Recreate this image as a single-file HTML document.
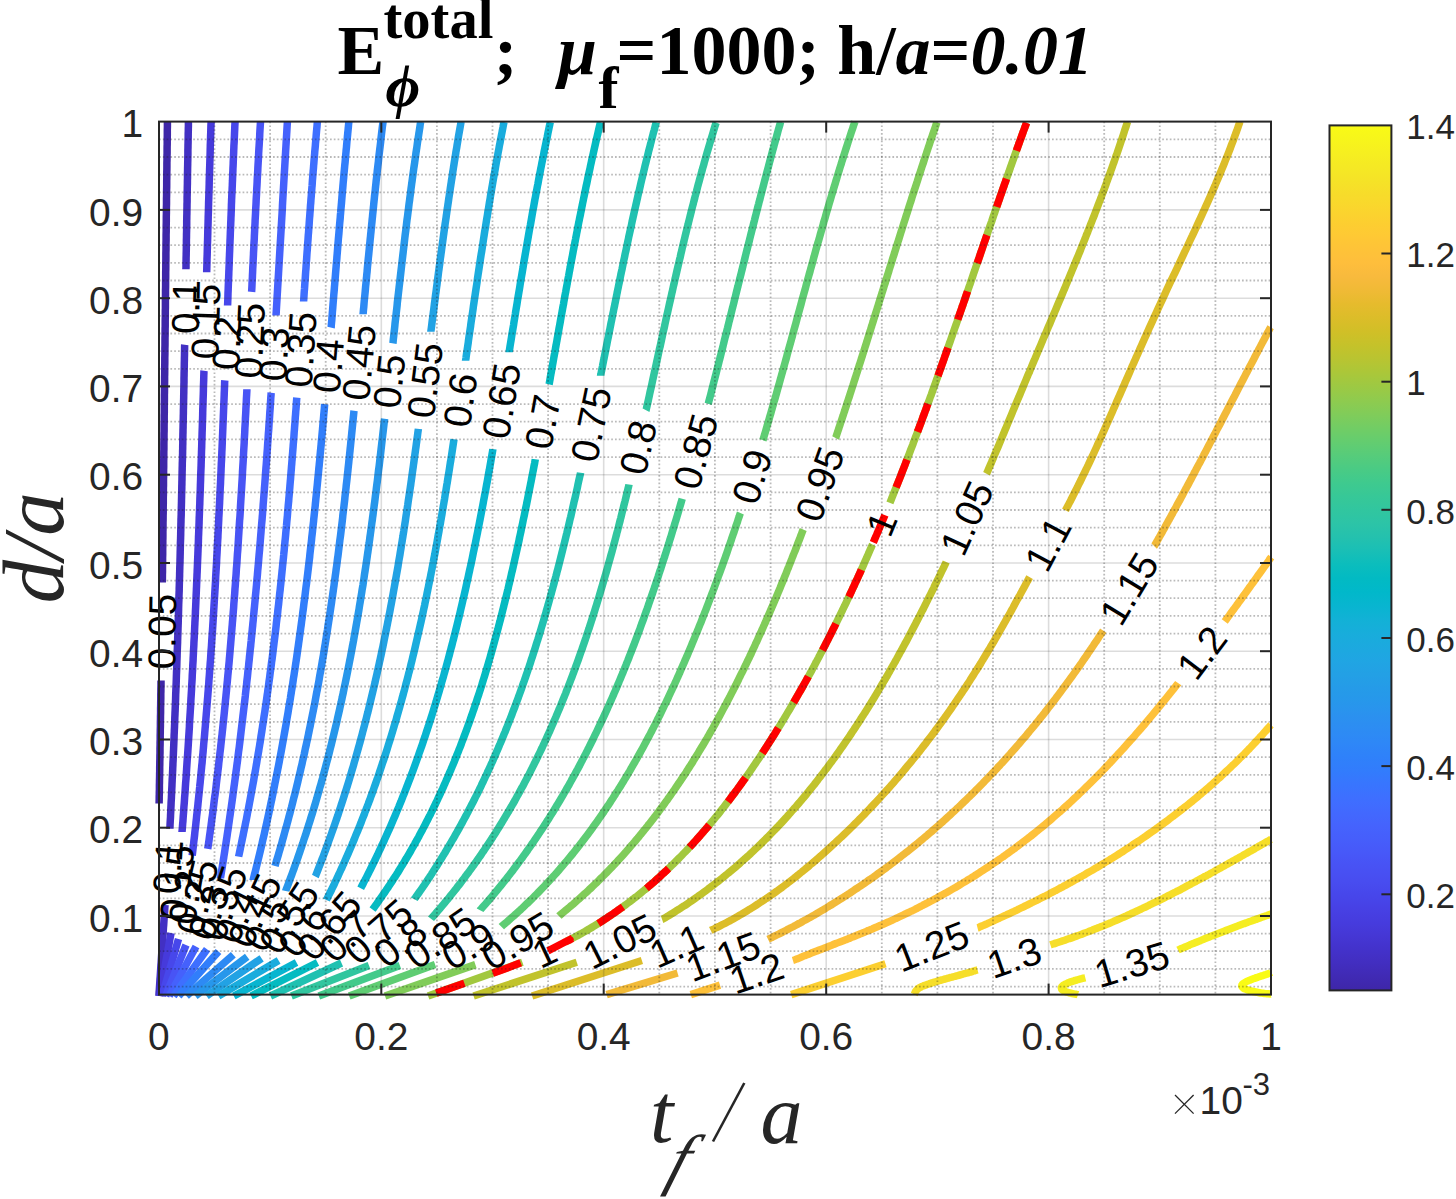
<!DOCTYPE html>
<html><head><meta charset="utf-8"><title>contour</title>
<style>html,body{margin:0;padding:0;background:#fff;width:1456px;height:1199px;overflow:hidden}svg{display:block}</style></head><body>
<svg width="1456" height="1199" viewBox="0 0 1456 1199">
<rect width="1456" height="1199" fill="#fff"/>
<g fill="none" stroke-width="7.5" stroke-linejoin="round" stroke-linecap="butt">
<path d="M167.4,121.6C167.4,122.4 167.4,124.6 167.4,126.2C167.4,127.7 167.3,129.2 167.3,130.7C167.3,132.2 167.3,133.7 167.3,135.3C167.3,136.8 167.2,138.3 167.2,139.8C167.2,141.3 167.2,142.8 167.2,144.4C167.1,145.9 167.1,147.4 167.1,148.9C167.1,150.4 167.1,152.0 167.1,153.5C167.0,155.0 167.0,156.5 167.0,158.0C167.0,159.5 167.0,161.1 166.9,162.6C166.9,164.1 166.9,165.6 166.9,167.1C166.9,168.6 166.9,170.2 166.8,171.7C166.8,173.2 166.8,174.7 166.8,176.2C166.8,177.8 166.8,179.3 166.7,180.8C166.7,182.3 166.7,183.8 166.7,185.3C166.7,186.9 166.7,188.4 166.6,189.9C166.6,191.4 166.6,192.9 166.6,194.4C166.6,196.0 166.5,197.5 166.5,199.0C166.5,200.5 166.5,202.0 166.5,203.6C166.5,205.1 166.4,206.6 166.4,208.1C166.4,209.6 166.4,211.1 166.4,212.7C166.4,214.2 166.3,215.7 166.3,217.2C166.3,218.7 166.3,220.3 166.3,221.8C166.3,223.3 166.2,224.8 166.2,226.3C166.2,227.8 166.2,229.4 166.2,230.9C166.2,232.4 166.1,233.9 166.1,235.4C166.1,236.9 166.1,238.5 166.1,240.0C166.1,241.5 166.0,243.0 166.0,244.5C166.0,246.1 166.0,247.6 166.0,249.1C166.0,250.6 165.9,252.1 165.9,253.6C165.9,255.2 165.9,256.7 165.9,258.2C165.9,259.7 165.9,261.2 165.8,262.7C165.8,264.3 165.8,265.8 165.8,267.3C165.8,268.8 165.8,270.3 165.7,271.9C165.7,273.4 165.7,274.9 165.7,276.4C165.7,277.9 165.7,279.4 165.6,281.0C165.6,282.5 165.6,284.0 165.6,285.5C165.6,287.0 165.6,288.5 165.5,290.1C165.5,291.6 165.5,293.1 165.5,294.6C165.5,296.1 165.5,297.7 165.4,299.2C165.4,300.7 165.4,302.2 165.4,303.7C165.4,305.2 165.4,306.8 165.4,308.3C165.3,309.8 165.3,311.3 165.3,312.8C165.3,314.3 165.3,315.9 165.3,317.4C165.2,318.9 165.2,320.4 165.2,321.9C165.2,323.5 165.2,325.0 165.2,326.5C165.1,328.0 165.1,329.5 165.1,331.0C165.1,332.6 165.1,334.1 165.1,335.6C165.0,337.1 165.0,338.6 165.0,340.1C165.0,341.7 165.0,343.2 165.0,344.7C165.0,346.2 164.9,347.7 164.9,349.3C164.9,350.8 164.9,352.3 164.9,353.8C164.9,355.3 164.8,356.8 164.8,358.4C164.8,359.9 164.8,361.4 164.8,362.9C164.8,364.4 164.7,365.9 164.7,367.5C164.7,369.0 164.7,370.5 164.7,372.0C164.7,373.5 164.7,375.1 164.6,376.6C164.6,378.1 164.6,379.6 164.6,381.1C164.6,382.6 164.6,384.2 164.5,385.7C164.5,387.2 164.5,388.7 164.5,390.2C164.5,391.7 164.5,393.3 164.4,394.8C164.4,396.3 164.4,397.8 164.4,399.3C164.4,400.9 164.4,402.4 164.3,403.9C164.3,405.4 164.3,406.9 164.3,408.4C164.3,410.0 164.3,411.5 164.3,413.0C164.2,414.5 164.2,416.0 164.2,417.5C164.2,419.1 164.2,420.6 164.2,422.1C164.1,423.6 164.1,425.1 164.1,426.7C164.1,428.2 164.1,429.7 164.1,431.2C164.0,432.7 164.0,434.2 164.0,435.8C164.0,437.3 164.0,438.8 164.0,440.3C163.9,441.8 163.9,443.3 163.9,444.9C163.9,446.4 163.9,447.9 163.9,449.4C163.8,450.9 163.8,452.5 163.8,454.0C163.8,455.5 163.8,457.0 163.8,458.5C163.7,460.0 163.7,461.6 163.7,463.1C163.7,464.6 163.7,466.1 163.7,467.6C163.6,469.1 163.6,470.7 163.6,472.2C163.6,473.7 163.6,475.2 163.6,476.7C163.5,478.3 163.5,479.8 163.5,481.3C163.5,482.8 163.5,484.3 163.5,485.8C163.4,487.4 163.4,488.9 163.4,490.4C163.4,491.9 163.4,493.4 163.4,494.9C163.3,496.5 163.3,498.0 163.3,499.5C163.3,501.0 163.3,502.5 163.3,504.1C163.2,505.6 163.2,507.1 163.2,508.6C163.2,510.1 163.2,511.6 163.2,513.2C163.1,514.7 163.1,516.2 163.1,517.7C163.1,519.2 163.1,520.7 163.0,522.3C163.0,523.8 163.0,525.3 163.0,526.8C163.0,528.3 163.0,529.9 162.9,531.4C162.9,532.9 162.9,534.4 162.9,535.9C162.9,537.4 162.9,539.0 162.8,540.5C162.8,542.0 162.8,543.5 162.8,545.0C162.8,546.5 162.7,548.1 162.7,549.6C162.7,551.1 162.7,552.6 162.7,554.1C162.7,555.7 162.6,557.2 162.6,558.7C162.6,560.2 162.6,561.7 162.6,563.2C162.6,564.8 162.5,566.3 162.5,567.8C162.5,569.3 162.5,570.8 162.5,572.3C162.4,573.9 162.4,575.4 162.4,576.9C162.4,578.4 162.4,580.5 162.3,581.5C162.3,582.4 162.3,582.4 162.3,582.6" stroke="#3e26a8"/>
<path d="M161.0,680.5C161.0,681.2 161.0,683.5 161.0,685.0C161.0,686.5 160.9,688.1 160.9,689.6C160.9,691.1 160.9,692.6 160.8,694.1C160.8,695.7 160.8,697.2 160.8,698.7C160.8,700.2 160.7,701.7 160.7,703.2C160.7,704.8 160.7,706.3 160.6,707.8C160.6,709.3 160.6,710.8 160.6,712.3C160.6,713.9 160.5,715.4 160.5,716.9C160.5,718.4 160.5,719.9 160.4,721.5C160.4,723.0 160.4,724.5 160.4,726.0C160.4,727.5 160.3,729.0 160.3,730.6C160.3,732.1 160.3,733.6 160.2,735.1C160.2,736.6 160.2,738.1 160.2,739.7C160.1,741.2 160.1,742.7 160.1,744.2C160.1,745.7 160.0,747.2 160.0,748.8C160.0,750.3 160.0,751.8 160.0,753.3C159.9,754.8 159.9,756.4 159.9,757.9C159.9,759.4 159.8,760.9 159.8,762.4C159.8,763.9 159.8,765.5 159.7,767.0C159.7,768.5 159.7,770.0 159.7,771.5C159.6,773.0 159.6,774.6 159.6,776.1C159.6,777.6 159.5,779.1 159.5,780.6C159.5,782.2 159.5,783.7 159.4,785.2C159.4,786.7 159.4,788.2 159.4,789.7C159.3,791.3 159.3,792.8 159.3,794.3C159.2,795.8 159.2,797.3 159.2,798.8C159.2,800.4 159.1,802.6 159.1,803.4" stroke="#3e26a8"/>
<path d="M188.4,121.6C188.4,122.4 188.4,124.8 188.4,126.3C188.3,127.9 188.3,129.5 188.3,131.1C188.2,132.6 188.2,134.2 188.2,135.8C188.2,137.3 188.1,138.9 188.1,140.5C188.1,142.1 188.1,143.6 188.0,145.2C188.0,146.8 188.0,148.4 187.9,149.9C187.9,151.5 187.9,153.1 187.9,154.7C187.8,156.2 187.8,157.8 187.8,159.4C187.8,161.0 187.7,162.5 187.7,164.1C187.7,165.7 187.6,167.3 187.6,168.8C187.6,170.4 187.6,172.0 187.5,173.6C187.5,175.1 187.5,176.7 187.5,178.3C187.4,179.9 187.4,181.4 187.4,183.0C187.4,184.6 187.3,186.2 187.3,187.7C187.3,189.3 187.2,190.9 187.2,192.5C187.2,194.0 187.2,195.6 187.1,197.2C187.1,198.8 187.1,200.3 187.1,201.9C187.0,203.5 187.0,205.1 187.0,206.6C187.0,208.2 186.9,209.8 186.9,211.3C186.9,212.9 186.9,214.5 186.8,216.1C186.8,217.6 186.8,219.2 186.7,220.8C186.7,222.4 186.7,223.9 186.7,225.5C186.6,227.1 186.6,228.7 186.6,230.2C186.6,231.8 186.5,233.4 186.5,235.0C186.5,236.5 186.5,238.1 186.4,239.7C186.4,241.3 186.4,242.8 186.4,244.4C186.3,246.0 186.3,247.6 186.3,249.1C186.3,250.7 186.2,252.3 186.2,253.9C186.2,255.4 186.1,257.0 186.1,258.6C186.1,260.2 186.1,261.7 186.0,263.3C186.0,264.9 186.0,267.1 186.0,268.0C185.9,269.0 185.9,269.0 185.9,269.2" stroke="#4230c3"/>
<path d="M184.7,344.8C184.6,345.6 184.6,347.9 184.6,349.5C184.5,351.1 184.5,352.7 184.5,354.2C184.5,355.8 184.4,357.4 184.4,359.0C184.4,360.5 184.3,362.1 184.3,363.7C184.3,365.3 184.3,366.8 184.2,368.4C184.2,370.0 184.2,371.6 184.1,373.1C184.1,374.7 184.1,376.3 184.0,377.9C184.0,379.4 184.0,381.0 184.0,382.6C183.9,384.2 183.9,385.7 183.9,387.3C183.8,388.9 183.8,390.5 183.8,392.0C183.8,393.6 183.7,395.2 183.7,396.8C183.7,398.3 183.6,399.9 183.6,401.5C183.6,403.1 183.5,404.6 183.5,406.2C183.5,407.8 183.4,409.4 183.4,410.9C183.4,412.5 183.4,414.1 183.3,415.7C183.3,417.2 183.3,418.8 183.2,420.4C183.2,422.0 183.2,423.5 183.1,425.1C183.1,426.7 183.1,428.3 183.0,429.8C183.0,431.4 183.0,433.0 182.9,434.6C182.9,436.1 182.9,437.7 182.8,439.3C182.8,440.8 182.8,442.4 182.8,444.0C182.7,445.6 182.7,447.1 182.7,448.7C182.6,450.3 182.6,451.9 182.6,453.4C182.5,455.0 182.5,456.6 182.5,458.2C182.4,459.7 182.4,461.3 182.3,462.9C182.3,464.5 182.3,466.0 182.2,467.6C182.2,469.2 182.2,470.8 182.1,472.3C182.1,473.9 182.1,475.5 182.0,477.1C182.0,478.6 182.0,480.2 181.9,481.8C181.9,483.4 181.9,484.9 181.8,486.5C181.8,488.1 181.8,489.7 181.7,491.2C181.7,492.8 181.6,494.4 181.6,496.0C181.6,497.5 181.5,499.1 181.5,500.7C181.5,502.3 181.4,503.8 181.4,505.4C181.3,507.0 181.3,508.6 181.3,510.1C181.2,511.7 181.2,513.3 181.2,514.8C181.1,516.4 181.1,518.0 181.0,519.6C181.0,521.1 181.0,522.7 180.9,524.3C180.9,525.9 180.8,527.4 180.8,529.0C180.8,530.6 180.7,532.2 180.7,533.7C180.7,535.3 180.6,536.9 180.6,538.5C180.5,540.0 180.5,541.6 180.4,543.2C180.4,544.8 180.4,546.3 180.3,547.9C180.3,549.5 180.2,551.1 180.2,552.6C180.2,554.2 180.1,555.8 180.1,557.4C180.0,558.9 180.0,560.5 180.0,562.1C179.9,563.7 179.9,565.2 179.8,566.8C179.8,568.4 179.7,569.9 179.7,571.5C179.6,573.1 179.6,574.7 179.6,576.2C179.5,577.8 179.5,579.4 179.4,581.0C179.4,582.5 179.3,584.1 179.3,585.7C179.2,587.3 179.2,588.8 179.2,590.4C179.1,592.0 179.1,593.6 179.0,595.1C179.0,596.7 178.9,598.3 178.9,599.9C178.8,601.4 178.8,603.0 178.7,604.6C178.7,606.2 178.6,607.7 178.6,609.3C178.6,610.9 178.5,612.4 178.5,614.0C178.4,615.6 178.4,617.2 178.3,618.7C178.3,620.3 178.2,621.9 178.2,623.5C178.1,625.0 178.1,626.6 178.0,628.2C178.0,629.8 177.9,631.3 177.9,632.9C177.8,634.5 177.8,636.1 177.7,637.6C177.7,639.2 177.6,640.8 177.6,642.4C177.5,643.9 177.5,645.5 177.4,647.1C177.4,648.6 177.3,650.2 177.2,651.8C177.2,653.4 177.1,654.9 177.1,656.5C177.0,658.1 177.0,659.7 176.9,661.2C176.9,662.8 176.8,664.4 176.8,666.0C176.7,667.5 176.7,669.1 176.6,670.7C176.5,672.3 176.5,673.8 176.4,675.4C176.4,677.0 176.3,678.6 176.3,680.1C176.2,681.7 176.2,683.3 176.1,684.8C176.0,686.4 176.0,688.0 175.9,689.6C175.9,691.1 175.8,692.7 175.7,694.3C175.7,695.9 175.6,697.4 175.6,699.0C175.5,700.6 175.5,702.2 175.4,703.7C175.3,705.3 175.3,706.9 175.2,708.5C175.2,710.0 175.1,711.6 175.0,713.2C175.0,714.7 174.9,716.3 174.8,717.9C174.8,719.5 174.7,721.0 174.7,722.6C174.6,724.2 174.5,725.8 174.5,727.3C174.4,728.9 174.3,730.5 174.3,732.1C174.2,733.6 174.1,735.2 174.1,736.8C174.0,738.3 174.0,739.9 173.9,741.5C173.8,743.1 173.8,744.6 173.7,746.2C173.6,747.8 173.6,749.4 173.5,750.9C173.4,752.5 173.4,754.1 173.3,755.7C173.2,757.2 173.2,758.8 173.1,760.4C173.0,761.9 172.9,763.5 172.9,765.1C172.8,766.7 172.7,768.2 172.7,769.8C172.6,771.4 172.5,773.0 172.5,774.5C172.4,776.1 172.3,777.7 172.2,779.3C172.2,780.8 172.1,782.4 172.0,784.0C172.0,785.5 171.9,787.1 171.8,788.7C171.7,790.3 171.7,791.8 171.6,793.4C171.5,795.0 171.4,796.6 171.4,798.1C171.3,799.7 171.2,801.3 171.1,802.8C171.1,804.4 171.0,806.0 170.9,807.6C170.8,809.1 170.8,810.7 170.7,812.3C170.6,813.9 170.5,815.4 170.5,817.0C170.4,818.6 170.3,820.2 170.2,821.7C170.1,823.3 170.0,825.3 170.0,826.4C169.9,827.6 169.9,828.4 169.9,828.8" stroke="#4230c3"/>
<path d="M165.0,905.0L158.9,996.0" stroke="#4230c3"/>
<path d="M211.1,121.6C211.1,122.4 211.0,124.8 210.9,126.4C210.9,127.9 210.8,129.5 210.8,131.1C210.7,132.7 210.7,134.3 210.6,135.8C210.6,137.4 210.5,139.0 210.5,140.6C210.4,142.2 210.4,143.8 210.3,145.3C210.3,146.9 210.2,148.5 210.2,150.1C210.2,151.7 210.1,153.2 210.1,154.8C210.0,156.4 210.0,158.0 209.9,159.6C209.9,161.2 209.8,162.7 209.8,164.3C209.7,165.9 209.7,167.5 209.6,169.1C209.6,170.7 209.5,172.2 209.5,173.8C209.4,175.4 209.4,177.0 209.3,178.6C209.3,180.1 209.2,181.7 209.2,183.3C209.2,184.9 209.1,186.5 209.1,188.1C209.0,189.6 209.0,191.2 208.9,192.8C208.9,194.4 208.8,196.0 208.8,197.6C208.7,199.1 208.7,200.7 208.6,202.3C208.6,203.9 208.6,205.5 208.5,207.0C208.5,208.6 208.4,210.2 208.4,211.8C208.3,213.4 208.3,215.0 208.2,216.5C208.2,218.1 208.2,219.7 208.1,221.3C208.1,222.9 208.0,224.5 208.0,226.0C207.9,227.6 207.9,229.2 207.8,230.8C207.8,232.4 207.8,233.9 207.7,235.5C207.7,237.1 207.6,238.7 207.6,240.3C207.5,241.9 207.5,243.4 207.4,245.0C207.4,246.6 207.4,248.2 207.3,249.8C207.3,251.4 207.2,252.9 207.2,254.5C207.1,256.1 207.1,257.7 207.0,259.3C207.0,260.8 207.0,262.4 206.9,264.0C206.9,265.6 206.8,267.4 206.8,268.8C206.7,270.1 206.7,271.7 206.7,272.3" stroke="#463adb"/>
<path d="M204.0,370.8C203.9,371.6 203.9,374.0 203.8,375.6C203.8,377.2 203.7,378.7 203.7,380.3C203.6,381.9 203.6,383.5 203.5,385.1C203.5,386.7 203.4,388.2 203.4,389.8C203.4,391.4 203.3,393.0 203.3,394.6C203.2,396.2 203.2,397.7 203.1,399.3C203.1,400.9 203.0,402.5 203.0,404.1C202.9,405.6 202.9,407.2 202.8,408.8C202.8,410.4 202.7,412.0 202.7,413.6C202.7,415.1 202.6,416.7 202.6,418.3C202.5,419.9 202.5,421.5 202.4,423.1C202.4,424.6 202.3,426.2 202.3,427.8C202.2,429.4 202.2,431.0 202.1,432.5C202.1,434.1 202.0,435.7 202.0,437.3C201.9,438.9 201.9,440.5 201.8,442.0C201.8,443.6 201.7,445.2 201.7,446.8C201.6,448.4 201.6,450.0 201.5,451.5C201.5,453.1 201.4,454.7 201.4,456.3C201.3,457.9 201.3,459.4 201.2,461.0C201.2,462.6 201.1,464.2 201.1,465.8C201.0,467.4 201.0,468.9 200.9,470.5C200.8,472.1 200.8,473.7 200.7,475.3C200.7,476.9 200.6,478.4 200.6,480.0C200.5,481.6 200.5,483.2 200.4,484.8C200.4,486.3 200.3,487.9 200.3,489.5C200.2,491.1 200.1,492.7 200.1,494.3C200.0,495.8 200.0,497.4 199.9,499.0C199.9,500.6 199.8,502.2 199.8,503.7C199.7,505.3 199.6,506.9 199.6,508.5C199.5,510.1 199.5,511.7 199.4,513.2C199.4,514.8 199.3,516.4 199.2,518.0C199.2,519.6 199.1,521.2 199.1,522.7C199.0,524.3 199.0,525.9 198.9,527.5C198.8,529.1 198.8,530.6 198.7,532.2C198.7,533.8 198.6,535.4 198.5,537.0C198.5,538.6 198.4,540.1 198.4,541.7C198.3,543.3 198.2,544.9 198.2,546.5C198.1,548.0 198.0,549.6 198.0,551.2C197.9,552.8 197.9,554.4 197.8,556.0C197.7,557.5 197.7,559.1 197.6,560.7C197.5,562.3 197.5,563.9 197.4,565.4C197.4,567.0 197.3,568.6 197.2,570.2C197.2,571.8 197.1,573.3 197.0,574.9C197.0,576.5 196.9,578.1 196.8,579.7C196.8,581.3 196.7,582.8 196.6,584.4C196.6,586.0 196.5,587.6 196.4,589.2C196.4,590.7 196.3,592.3 196.2,593.9C196.1,595.5 196.1,597.1 196.0,598.7C195.9,600.2 195.9,601.8 195.8,603.4C195.7,605.0 195.7,606.6 195.6,608.1C195.5,609.7 195.4,611.3 195.4,612.9C195.3,614.5 195.2,616.0 195.2,617.6C195.1,619.2 195.0,620.8 194.9,622.4C194.9,624.0 194.8,625.5 194.7,627.1C194.6,628.7 194.6,630.3 194.5,631.9C194.4,633.4 194.3,635.0 194.3,636.6C194.2,638.2 194.1,639.8 194.0,641.3C193.9,642.9 193.9,644.5 193.8,646.1C193.7,647.7 193.6,649.2 193.5,650.8C193.5,652.4 193.4,654.0 193.3,655.6C193.2,657.2 193.1,658.7 193.1,660.3C193.0,661.9 192.9,663.5 192.8,665.1C192.7,666.6 192.7,668.2 192.6,669.8C192.5,671.4 192.4,673.0 192.3,674.5C192.2,676.1 192.2,677.7 192.1,679.3C192.0,680.9 191.9,682.4 191.8,684.0C191.7,685.6 191.6,687.2 191.6,688.8C191.5,690.3 191.4,691.9 191.3,693.5C191.2,695.1 191.1,696.7 191.0,698.3C190.9,699.8 190.8,701.4 190.8,703.0C190.7,704.6 190.6,706.2 190.5,707.7C190.4,709.3 190.3,710.9 190.2,712.5C190.1,714.1 190.0,715.6 189.9,717.2C189.8,718.8 189.7,720.4 189.6,722.0C189.5,723.5 189.4,725.1 189.4,726.7C189.3,728.3 189.2,729.9 189.1,731.4C189.0,733.0 188.9,734.6 188.8,736.2C188.7,737.8 188.6,739.3 188.5,740.9C188.4,742.5 188.3,744.1 188.2,745.7C188.1,747.2 188.0,748.8 187.9,750.4C187.8,752.0 187.7,753.6 187.6,755.1C187.5,756.7 187.4,758.3 187.2,759.9C187.1,761.5 187.0,763.0 186.9,764.6C186.8,766.2 186.7,767.8 186.6,769.3C186.5,770.9 186.4,772.5 186.3,774.1C186.2,775.7 186.1,777.2 186.0,778.8C185.9,780.4 185.7,782.0 185.6,783.6C185.5,785.1 185.4,786.7 185.3,788.3C185.2,789.9 185.1,791.5 185.0,793.0C184.9,794.6 184.7,796.2 184.6,797.8C184.5,799.4 184.4,800.9 184.3,802.5C184.2,804.1 184.0,805.7 183.9,807.3C183.8,808.8 183.7,810.4 183.6,812.0C183.5,813.6 183.3,815.1 183.2,816.7C183.1,818.3 183.0,819.9 182.9,821.5C182.7,823.0 182.6,824.6 182.5,826.2C182.4,827.8 182.2,829.9 182.1,830.9C182.0,831.9 182.0,831.9 182.0,832.1" stroke="#463adb"/>
<path d="M171.0,933.0L159.8,996.0" stroke="#463adb"/>
<path d="M235.1,121.6C235.0,122.4 234.9,124.9 234.8,126.5C234.8,128.1 234.7,129.8 234.6,131.4C234.5,133.1 234.5,134.7 234.4,136.3C234.3,138.0 234.2,139.6 234.2,141.2C234.1,142.9 234.0,144.5 233.9,146.1C233.9,147.8 233.8,149.4 233.7,151.0C233.7,152.7 233.6,154.3 233.5,155.9C233.4,157.6 233.4,159.2 233.3,160.8C233.2,162.5 233.2,164.1 233.1,165.8C233.0,167.4 232.9,169.0 232.9,170.7C232.8,172.3 232.7,173.9 232.7,175.6C232.6,177.2 232.5,178.8 232.5,180.5C232.4,182.1 232.3,183.7 232.3,185.4C232.2,187.0 232.1,188.6 232.1,190.3C232.0,191.9 231.9,193.6 231.8,195.2C231.8,196.8 231.7,198.5 231.6,200.1C231.6,201.7 231.5,203.4 231.4,205.0C231.4,206.6 231.3,208.3 231.3,209.9C231.2,211.5 231.1,213.2 231.1,214.8C231.0,216.4 230.9,218.1 230.9,219.7C230.8,221.4 230.7,223.0 230.7,224.6C230.6,226.3 230.5,227.9 230.5,229.5C230.4,231.2 230.3,232.8 230.3,234.4C230.2,236.1 230.2,237.7 230.1,239.3C230.0,241.0 230.0,242.6 229.9,244.3C229.8,245.9 229.8,247.5 229.7,249.2C229.7,250.8 229.6,252.4 229.5,254.1C229.5,255.7 229.4,257.3 229.3,259.0C229.3,260.6 229.2,262.2 229.2,263.9C229.1,265.5 229.0,267.2 229.0,268.8C228.9,270.4 228.8,272.1 228.8,273.7C228.7,275.3 228.7,277.0 228.6,278.6C228.5,280.2 228.5,281.9 228.4,283.5C228.3,285.1 228.3,286.8 228.2,288.4C228.2,290.1 228.1,291.7 228.0,293.3C228.0,295.0 227.9,296.6 227.9,298.2C227.8,299.9 227.7,301.9 227.7,303.1C227.6,304.4 227.6,305.2 227.6,305.6" stroke="#4747eb"/>
<path d="M224.8,380.4C224.7,381.2 224.6,383.7 224.6,385.3C224.5,387.0 224.4,388.6 224.4,390.2C224.3,391.9 224.2,393.5 224.2,395.2C224.1,396.8 224.1,398.4 224.0,400.1C223.9,401.7 223.9,403.3 223.8,405.0C223.7,406.6 223.7,408.2 223.6,409.9C223.5,411.5 223.5,413.1 223.4,414.8C223.3,416.4 223.3,418.1 223.2,419.7C223.1,421.3 223.1,423.0 223.0,424.6C222.9,426.2 222.9,427.9 222.8,429.5C222.7,431.1 222.7,432.8 222.6,434.4C222.5,436.0 222.5,437.7 222.4,439.3C222.3,440.9 222.3,442.6 222.2,444.2C222.1,445.9 222.1,447.5 222.0,449.1C221.9,450.8 221.8,452.4 221.8,454.0C221.7,455.7 221.6,457.3 221.6,458.9C221.5,460.6 221.4,462.2 221.3,463.8C221.3,465.5 221.2,467.1 221.1,468.7C221.1,470.4 221.0,472.0 220.9,473.7C220.8,475.3 220.8,476.9 220.7,478.6C220.6,480.2 220.5,481.8 220.5,483.5C220.4,485.1 220.3,486.7 220.2,488.4C220.2,490.0 220.1,491.6 220.0,493.3C219.9,494.9 219.9,496.5 219.8,498.2C219.7,499.8 219.6,501.4 219.6,503.1C219.5,504.7 219.4,506.3 219.3,508.0C219.2,509.6 219.2,511.3 219.1,512.9C219.0,514.5 218.9,516.2 218.8,517.8C218.8,519.4 218.7,521.1 218.6,522.7C218.5,524.3 218.4,526.0 218.4,527.6C218.3,529.2 218.2,530.9 218.1,532.5C218.0,534.1 217.9,535.8 217.9,537.4C217.8,539.0 217.7,540.7 217.6,542.3C217.5,543.9 217.4,545.6 217.3,547.2C217.3,548.8 217.2,550.5 217.1,552.1C217.0,553.7 216.9,555.4 216.8,557.0C216.7,558.6 216.6,560.3 216.6,561.9C216.5,563.6 216.4,565.2 216.3,566.8C216.2,568.5 216.1,570.1 216.0,571.7C215.9,573.4 215.8,575.0 215.7,576.6C215.6,578.3 215.6,579.9 215.5,581.5C215.4,583.2 215.3,584.8 215.2,586.4C215.1,588.1 215.0,589.7 214.9,591.3C214.8,593.0 214.7,594.6 214.6,596.2C214.5,597.9 214.4,599.5 214.3,601.1C214.2,602.8 214.1,604.4 214.0,606.0C213.9,607.7 213.8,609.3 213.7,610.9C213.6,612.6 213.5,614.2 213.4,615.8C213.3,617.5 213.2,619.1 213.1,620.7C213.0,622.4 212.9,624.0 212.8,625.6C212.7,627.3 212.6,628.9 212.5,630.5C212.3,632.2 212.2,633.8 212.1,635.4C212.0,637.1 211.9,638.7 211.8,640.3C211.7,642.0 211.6,643.6 211.5,645.2C211.4,646.8 211.3,648.5 211.1,650.1C211.0,651.7 210.9,653.4 210.8,655.0C210.7,656.6 210.6,658.3 210.5,659.9C210.3,661.5 210.2,663.2 210.1,664.8C210.0,666.4 209.9,668.1 209.7,669.7C209.6,671.3 209.5,673.0 209.4,674.6C209.3,676.2 209.1,677.9 209.0,679.5C208.9,681.1 208.8,682.8 208.7,684.4C208.5,686.0 208.4,687.7 208.3,689.3C208.2,690.9 208.0,692.5 207.9,694.2C207.8,695.8 207.7,697.4 207.5,699.1C207.4,700.7 207.3,702.3 207.1,704.0C207.0,705.6 206.9,707.2 206.7,708.9C206.6,710.5 206.5,712.1 206.3,713.8C206.2,715.4 206.1,717.0 205.9,718.6C205.8,720.3 205.7,721.9 205.5,723.5C205.4,725.2 205.3,726.8 205.1,728.4C205.0,730.1 204.8,731.7 204.7,733.3C204.6,735.0 204.4,736.6 204.3,738.2C204.1,739.8 204.0,741.5 203.8,743.1C203.7,744.7 203.5,746.4 203.4,748.0C203.3,749.6 203.1,751.3 203.0,752.9C202.8,754.5 202.7,756.1 202.5,757.8C202.4,759.4 202.2,761.0 202.1,762.7C201.9,764.3 201.7,765.9 201.6,767.6C201.4,769.2 201.3,770.8 201.1,772.4C201.0,774.1 200.8,775.7 200.7,777.3C200.5,779.0 200.3,780.6 200.2,782.2C200.0,783.8 199.8,785.5 199.7,787.1C199.5,788.7 199.4,790.4 199.2,792.0C199.0,793.6 198.9,795.3 198.7,796.9C198.5,798.5 198.4,800.1 198.2,801.8C198.0,803.4 197.9,805.0 197.7,806.7C197.5,808.3 197.3,809.9 197.2,811.5C197.0,813.2 196.8,814.8 196.6,816.4C196.5,818.0 196.3,819.7 196.1,821.3C195.9,822.9 195.8,824.6 195.6,826.2C195.4,827.8 195.2,829.4 195.0,831.1C194.8,832.7 194.7,834.3 194.5,836.0C194.3,837.6 194.1,839.2 193.9,840.8C193.7,842.5 193.5,844.1 193.4,845.7C193.2,847.3 193.0,849.0 192.8,850.6C192.6,852.2 192.3,854.7 192.2,855.5" stroke="#4747eb"/>
<path d="M178.5,939.0L162.1,996.0" stroke="#4747eb"/>
<path d="M260.5,121.6C260.5,122.4 260.3,124.8 260.2,126.5C260.1,128.1 260.0,129.7 259.9,131.3C259.8,132.9 259.7,134.6 259.7,136.2C259.6,137.8 259.5,139.4 259.4,141.1C259.3,142.7 259.2,144.3 259.1,145.9C259.0,147.5 258.9,149.2 258.8,150.8C258.7,152.4 258.6,154.0 258.6,155.6C258.5,157.3 258.4,158.9 258.3,160.5C258.2,162.1 258.1,163.8 258.0,165.4C257.9,167.0 257.8,168.6 257.8,170.2C257.7,171.9 257.6,173.5 257.5,175.1C257.4,176.7 257.3,178.3 257.2,180.0C257.2,181.6 257.1,183.2 257.0,184.8C256.9,186.5 256.8,188.1 256.7,189.7C256.6,191.3 256.6,192.9 256.5,194.6C256.4,196.2 256.3,197.8 256.2,199.4C256.1,201.0 256.1,202.7 256.0,204.3C255.9,205.9 255.8,207.5 255.7,209.2C255.6,210.8 255.6,212.4 255.5,214.0C255.4,215.6 255.3,217.3 255.2,218.9C255.1,220.5 255.1,222.1 255.0,223.8C254.9,225.4 254.8,227.0 254.7,228.6C254.7,230.2 254.6,231.9 254.5,233.5C254.4,235.1 254.3,236.7 254.3,238.4C254.2,240.0 254.1,241.6 254.0,243.2C253.9,244.8 253.9,246.5 253.8,248.1C253.7,249.7 253.6,251.3 253.5,253.0C253.5,254.6 253.4,256.2 253.3,257.8C253.2,259.4 253.1,261.1 253.1,262.7C253.0,264.3 252.9,265.9 252.8,267.6C252.7,269.2 252.7,270.8 252.6,272.4C252.5,274.0 252.4,275.7 252.4,277.3C252.3,278.9 252.2,280.5 252.1,282.2C252.0,283.8 252.0,285.4 251.9,287.0C251.8,288.6 251.7,291.1 251.6,291.9" stroke="#4854f5"/>
<path d="M246.9,389.2C246.9,390.0 246.8,392.5 246.7,394.1C246.6,395.7 246.5,397.3 246.4,398.9C246.4,400.6 246.3,402.2 246.2,403.8C246.1,405.4 246.0,407.1 245.9,408.7C245.9,410.3 245.8,411.9 245.7,413.5C245.6,415.2 245.5,416.8 245.4,418.4C245.4,420.0 245.3,421.6 245.2,423.3C245.1,424.9 245.0,426.5 244.9,428.1C244.8,429.8 244.8,431.4 244.7,433.0C244.6,434.6 244.5,436.2 244.4,437.9C244.3,439.5 244.2,441.1 244.2,442.7C244.1,444.3 244.0,446.0 243.9,447.6C243.8,449.2 243.7,450.8 243.6,452.5C243.5,454.1 243.4,455.7 243.4,457.3C243.3,458.9 243.2,460.6 243.1,462.2C243.0,463.8 242.9,465.4 242.8,467.0C242.7,468.7 242.6,470.3 242.5,471.9C242.5,473.5 242.4,475.2 242.3,476.8C242.2,478.4 242.1,480.0 242.0,481.6C241.9,483.3 241.8,484.9 241.7,486.5C241.6,488.1 241.5,489.7 241.4,491.4C241.3,493.0 241.2,494.6 241.1,496.2C241.0,497.8 240.9,499.5 240.8,501.1C240.7,502.7 240.6,504.3 240.5,505.9C240.4,507.6 240.4,509.2 240.3,510.8C240.2,512.4 240.1,514.0 240.0,515.7C239.9,517.3 239.8,518.9 239.6,520.5C239.5,522.2 239.4,523.8 239.3,525.4C239.2,527.0 239.1,528.6 239.0,530.3C238.9,531.9 238.8,533.5 238.7,535.1C238.6,536.7 238.5,538.4 238.4,540.0C238.3,541.6 238.2,543.2 238.1,544.8C238.0,546.5 237.9,548.1 237.8,549.7C237.7,551.3 237.5,552.9 237.4,554.5C237.3,556.2 237.2,557.8 237.1,559.4C237.0,561.0 236.9,562.6 236.8,564.3C236.7,565.9 236.5,567.5 236.4,569.1C236.3,570.7 236.2,572.4 236.1,574.0C236.0,575.6 235.9,577.2 235.7,578.8C235.6,580.5 235.5,582.1 235.4,583.7C235.3,585.3 235.2,586.9 235.0,588.6C234.9,590.2 234.8,591.8 234.7,593.4C234.6,595.0 234.4,596.6 234.3,598.3C234.2,599.9 234.1,601.5 233.9,603.1C233.8,604.7 233.7,606.4 233.6,608.0C233.5,609.6 233.3,611.2 233.2,612.8C233.1,614.4 232.9,616.1 232.8,617.7C232.7,619.3 232.6,620.9 232.4,622.5C232.3,624.2 232.2,625.8 232.0,627.4C231.9,629.0 231.8,630.6 231.6,632.2C231.5,633.9 231.4,635.5 231.2,637.1C231.1,638.7 231.0,640.3 230.8,642.0C230.7,643.6 230.6,645.2 230.4,646.8C230.3,648.4 230.1,650.0 230.0,651.7C229.9,653.3 229.7,654.9 229.6,656.5C229.4,658.1 229.3,659.7 229.2,661.4C229.0,663.0 228.9,664.6 228.7,666.2C228.6,667.8 228.4,669.4 228.3,671.1C228.1,672.7 228.0,674.3 227.8,675.9C227.7,677.5 227.5,679.1 227.4,680.8C227.2,682.4 227.1,684.0 226.9,685.6C226.8,687.2 226.6,688.8 226.5,690.5C226.3,692.1 226.2,693.7 226.0,695.3C225.9,696.9 225.7,698.5 225.5,700.1C225.4,701.8 225.2,703.4 225.1,705.0C224.9,706.6 224.7,708.2 224.6,709.8C224.4,711.5 224.3,713.1 224.1,714.7C223.9,716.3 223.8,717.9 223.6,719.5C223.4,721.1 223.3,722.8 223.1,724.4C222.9,726.0 222.8,727.6 222.6,729.2C222.4,730.8 222.2,732.4 222.1,734.1C221.9,735.7 221.7,737.3 221.5,738.9C221.4,740.5 221.2,742.1 221.0,743.7C220.8,745.4 220.7,747.0 220.5,748.6C220.3,750.2 220.1,751.8 219.9,753.4C219.8,755.0 219.6,756.7 219.4,758.3C219.2,759.9 219.0,761.5 218.8,763.1C218.7,764.7 218.5,766.3 218.3,768.0C218.1,769.6 217.9,771.2 217.7,772.8C217.5,774.4 217.3,776.0 217.1,777.6C216.9,779.2 216.7,780.9 216.5,782.5C216.3,784.1 216.2,785.7 216.0,787.3C215.8,788.9 215.6,790.5 215.4,792.1C215.2,793.8 215.0,795.4 214.7,797.0C214.5,798.6 214.3,800.2 214.1,801.8C213.9,803.4 213.7,805.0 213.5,806.7C213.3,808.3 213.1,809.9 212.9,811.5C212.7,813.1 212.5,814.7 212.3,816.3C212.0,817.9 211.8,819.5 211.6,821.2C211.4,822.8 211.2,824.4 211.0,826.0C210.7,827.6 210.5,829.2 210.3,830.8C210.1,832.4 209.9,834.0 209.6,835.6C209.4,837.3 209.2,838.9 209.0,840.5C208.7,842.1 208.5,843.9 208.3,845.3C208.1,846.7 207.8,848.3 207.7,848.9" stroke="#4854f5"/>
<path d="M186.0,945.0L165.7,996.0" stroke="#4854f5"/>
<path d="M287.4,121.6C287.4,122.4 287.2,125.0 287.1,126.6C287.0,128.3 286.9,130.0 286.8,131.7C286.7,133.4 286.6,135.1 286.5,136.8C286.4,138.5 286.3,140.2 286.2,141.8C286.1,143.5 286.0,145.2 285.9,146.9C285.8,148.6 285.7,150.3 285.6,152.0C285.5,153.7 285.4,155.4 285.3,157.1C285.2,158.7 285.1,160.4 285.0,162.1C284.9,163.8 284.8,165.5 284.7,167.2C284.6,168.9 284.5,170.6 284.4,172.3C284.3,174.0 284.2,175.6 284.1,177.3C284.0,179.0 283.9,180.7 283.8,182.4C283.7,184.1 283.6,185.8 283.5,187.5C283.4,189.2 283.3,190.9 283.2,192.5C283.1,194.2 283.0,195.9 282.9,197.6C282.8,199.3 282.7,201.0 282.6,202.7C282.5,204.4 282.4,206.1 282.4,207.8C282.3,209.4 282.2,211.1 282.1,212.8C282.0,214.5 281.9,216.2 281.8,217.9C281.7,219.6 281.6,221.3 281.5,223.0C281.4,224.6 281.3,226.3 281.2,228.0C281.1,229.7 281.0,231.4 280.9,233.1C280.8,234.8 280.7,236.5 280.6,238.2C280.5,239.9 280.4,241.5 280.3,243.2C280.2,244.9 280.1,246.6 280.0,248.3C279.9,250.0 279.8,251.7 279.7,253.4C279.6,255.1 279.5,256.8 279.4,258.4C279.3,260.1 279.2,261.8 279.1,263.5C279.0,265.2 278.9,266.9 278.8,268.6C278.7,270.3 278.6,272.0 278.5,273.7C278.4,275.3 278.3,277.0 278.2,278.7C278.1,280.4 278.0,282.1 277.9,283.8C277.8,285.5 277.7,287.2 277.6,288.9C277.5,290.6 277.4,292.2 277.3,293.9C277.2,295.6 277.1,297.3 277.0,299.0C276.9,300.7 276.8,302.4 276.7,304.1C276.6,305.8 276.5,307.4 276.4,309.1C276.3,310.8 276.2,313.2 276.1,314.2C276.0,315.3 276.0,315.3 276.0,315.5" stroke="#4561fc"/>
<path d="M271.2,392.8C271.1,393.6 271.0,396.1 270.8,397.8C270.7,399.5 270.6,401.2 270.5,402.9C270.4,404.6 270.3,406.3 270.2,407.9C270.1,409.6 269.9,411.3 269.8,413.0C269.7,414.7 269.6,416.4 269.5,418.1C269.4,419.8 269.3,421.5 269.1,423.1C269.0,424.8 268.9,426.5 268.8,428.2C268.7,429.9 268.6,431.6 268.4,433.3C268.3,435.0 268.2,436.6 268.1,438.3C268.0,440.0 267.9,441.7 267.7,443.4C267.6,445.1 267.5,446.8 267.4,448.5C267.3,450.2 267.1,451.8 267.0,453.5C266.9,455.2 266.8,456.9 266.7,458.6C266.5,460.3 266.4,462.0 266.3,463.7C266.2,465.3 266.0,467.0 265.9,468.7C265.8,470.4 265.7,472.1 265.5,473.8C265.4,475.5 265.3,477.2 265.2,478.8C265.0,480.5 264.9,482.2 264.8,483.9C264.7,485.6 264.5,487.3 264.4,489.0C264.3,490.7 264.2,492.3 264.0,494.0C263.9,495.7 263.8,497.4 263.6,499.1C263.5,500.8 263.4,502.5 263.2,504.1C263.1,505.8 263.0,507.5 262.9,509.2C262.7,510.9 262.6,512.6 262.5,514.3C262.3,516.0 262.2,517.6 262.1,519.3C261.9,521.0 261.8,522.7 261.6,524.4C261.5,526.1 261.4,527.8 261.2,529.4C261.1,531.1 261.0,532.8 260.8,534.5C260.7,536.2 260.5,537.9 260.4,539.6C260.3,541.2 260.1,542.9 260.0,544.6C259.8,546.3 259.7,548.0 259.6,549.7C259.4,551.4 259.3,553.0 259.1,554.7C259.0,556.4 258.8,558.1 258.7,559.8C258.6,561.5 258.4,563.2 258.3,564.8C258.1,566.5 258.0,568.2 257.8,569.9C257.7,571.6 257.5,573.3 257.4,575.0C257.2,576.6 257.1,578.3 256.9,580.0C256.8,581.7 256.6,583.4 256.5,585.1C256.3,586.8 256.2,588.4 256.0,590.1C255.9,591.8 255.7,593.5 255.5,595.2C255.4,596.9 255.2,598.5 255.1,600.2C254.9,601.9 254.8,603.6 254.6,605.3C254.5,607.0 254.3,608.6 254.1,610.3C254.0,612.0 253.8,613.7 253.6,615.4C253.5,617.1 253.3,618.8 253.2,620.4C253.0,622.1 252.8,623.8 252.7,625.5C252.5,627.2 252.3,628.9 252.2,630.5C252.0,632.2 251.8,633.9 251.7,635.6C251.5,637.3 251.3,639.0 251.2,640.6C251.0,642.3 250.8,644.0 250.7,645.7C250.5,647.4 250.3,649.1 250.1,650.7C250.0,652.4 249.8,654.1 249.6,655.8C249.4,657.5 249.3,659.1 249.1,660.8C248.9,662.5 248.7,664.2 248.6,665.9C248.4,667.6 248.2,669.2 248.0,670.9C247.8,672.6 247.7,674.3 247.5,676.0C247.3,677.7 247.1,679.3 246.9,681.0C246.7,682.7 246.6,684.4 246.4,686.1C246.2,687.7 246.0,689.4 245.8,691.1C245.6,692.8 245.4,694.5 245.3,696.1C245.1,697.8 244.9,699.5 244.7,701.2C244.5,702.9 244.3,704.6 244.1,706.2C243.9,707.9 243.7,709.6 243.5,711.3C243.3,713.0 243.1,714.6 242.9,716.3C242.7,718.0 242.5,719.7 242.3,721.4C242.1,723.0 241.9,724.7 241.7,726.4C241.5,728.1 241.3,729.8 241.1,731.4C240.9,733.1 240.7,734.8 240.5,736.5C240.3,738.2 240.1,739.8 239.9,741.5C239.7,743.2 239.5,744.9 239.3,746.6C239.1,748.2 238.9,749.9 238.6,751.6C238.4,753.3 238.2,755.0 238.0,756.6C237.8,758.3 237.6,760.0 237.4,761.7C237.1,763.3 236.9,765.0 236.7,766.7C236.5,768.4 236.3,770.1 236.0,771.7C235.8,773.4 235.6,775.1 235.4,776.8C235.2,778.5 234.9,780.1 234.7,781.8C234.5,783.5 234.3,785.2 234.0,786.8C233.8,788.5 233.6,790.2 233.3,791.9C233.1,793.6 232.9,795.2 232.7,796.9C232.4,798.6 232.2,800.3 232.0,801.9C231.7,803.6 231.5,805.3 231.3,807.0C231.0,808.6 230.8,810.3 230.5,812.0C230.3,813.7 230.1,815.4 229.8,817.0C229.6,818.7 229.3,820.4 229.1,822.1C228.8,823.7 228.6,825.4 228.4,827.1C228.1,828.8 227.9,830.4 227.6,832.1C227.4,833.8 227.1,835.5 226.9,837.1C226.6,838.8 226.4,840.5 226.1,842.2C225.9,843.8 225.6,845.5 225.3,847.2C225.1,848.9 224.8,850.5 224.6,852.2C224.3,853.9 224.1,855.6 223.8,857.2C223.5,858.9 223.3,860.6 223.0,862.3C222.7,863.9 222.5,865.6 222.2,867.3C221.9,869.0 221.7,870.6 221.4,872.3C221.1,874.0 220.8,876.3 220.6,877.3C220.4,878.4 220.4,878.4 220.4,878.6" stroke="#4561fc"/>
<path d="M196.0,946.5L169.2,996.0" stroke="#4561fc"/>
<path d="M317.4,121.6C317.3,122.4 317.1,124.9 317.0,126.5C316.8,128.2 316.7,129.8 316.5,131.5C316.4,133.1 316.2,134.7 316.1,136.4C316.0,138.0 315.8,139.7 315.7,141.3C315.5,142.9 315.4,144.6 315.3,146.2C315.1,147.9 315.0,149.5 314.8,151.1C314.7,152.8 314.6,154.4 314.4,156.1C314.3,157.7 314.2,159.3 314.0,161.0C313.9,162.6 313.8,164.3 313.6,165.9C313.5,167.5 313.4,169.2 313.2,170.8C313.1,172.5 313.0,174.1 312.8,175.8C312.7,177.4 312.6,179.0 312.4,180.7C312.3,182.3 312.2,184.0 312.1,185.6C311.9,187.2 311.8,188.9 311.7,190.5C311.5,192.2 311.4,193.8 311.3,195.4C311.2,197.1 311.0,198.7 310.9,200.4C310.8,202.0 310.7,203.7 310.5,205.3C310.4,206.9 310.3,208.6 310.2,210.2C310.0,211.9 309.9,213.5 309.8,215.2C309.7,216.8 309.5,218.4 309.4,220.1C309.3,221.7 309.2,223.4 309.1,225.0C308.9,226.7 308.8,228.3 308.7,229.9C308.6,231.6 308.5,233.2 308.3,234.9C308.2,236.5 308.1,238.2 308.0,239.8C307.9,241.4 307.7,243.1 307.6,244.7C307.5,246.4 307.4,248.0 307.3,249.7C307.1,251.3 307.0,252.9 306.9,254.6C306.8,256.2 306.7,257.9 306.6,259.5C306.4,261.2 306.3,262.8 306.2,264.4C306.1,266.1 306.0,267.7 305.9,269.4C305.7,271.0 305.6,272.7 305.5,274.3C305.4,275.9 305.3,277.6 305.2,279.2C305.0,280.9 304.9,282.5 304.8,284.2C304.7,285.8 304.6,287.4 304.5,289.1C304.3,290.7 304.2,292.4 304.1,294.0C304.0,295.7 303.9,297.7 303.8,299.0C303.7,300.2 303.6,301.0 303.6,301.4" stroke="#3e6fff"/>
<path d="M296.8,397.6C296.7,398.4 296.6,400.8 296.4,402.5C296.3,404.1 296.2,405.8 296.1,407.4C296.0,409.1 295.8,410.7 295.7,412.3C295.6,414.0 295.5,415.6 295.3,417.3C295.2,418.9 295.1,420.6 295.0,422.2C294.9,423.8 294.7,425.5 294.6,427.1C294.5,428.8 294.4,430.4 294.2,432.1C294.1,433.7 294.0,435.3 293.9,437.0C293.7,438.6 293.6,440.3 293.5,441.9C293.3,443.5 293.2,445.2 293.1,446.8C293.0,448.5 292.8,450.1 292.7,451.8C292.6,453.4 292.4,455.0 292.3,456.7C292.2,458.3 292.1,460.0 291.9,461.6C291.8,463.2 291.7,464.9 291.5,466.5C291.4,468.2 291.3,469.8 291.1,471.5C291.0,473.1 290.9,474.7 290.7,476.4C290.6,478.0 290.5,479.7 290.3,481.3C290.2,482.9 290.0,484.6 289.9,486.2C289.8,487.9 289.6,489.5 289.5,491.1C289.4,492.8 289.2,494.4 289.1,496.1C288.9,497.7 288.8,499.4 288.7,501.0C288.5,502.6 288.4,504.3 288.2,505.9C288.1,507.6 287.9,509.2 287.8,510.8C287.6,512.5 287.5,514.1 287.4,515.8C287.2,517.4 287.1,519.0 286.9,520.7C286.8,522.3 286.6,524.0 286.5,525.6C286.3,527.2 286.2,528.9 286.0,530.5C285.9,532.1 285.7,533.8 285.6,535.4C285.4,537.1 285.3,538.7 285.1,540.3C284.9,542.0 284.8,543.6 284.6,545.3C284.5,546.9 284.3,548.5 284.2,550.2C284.0,551.8 283.8,553.5 283.7,555.1C283.5,556.7 283.4,558.4 283.2,560.0C283.0,561.6 282.9,563.3 282.7,564.9C282.5,566.6 282.4,568.2 282.2,569.8C282.0,571.5 281.9,573.1 281.7,574.7C281.5,576.4 281.4,578.0 281.2,579.7C281.0,581.3 280.9,582.9 280.7,584.6C280.5,586.2 280.3,587.8 280.2,589.5C280.0,591.1 279.8,592.7 279.6,594.4C279.5,596.0 279.3,597.7 279.1,599.3C278.9,600.9 278.8,602.6 278.6,604.2C278.4,605.8 278.2,607.5 278.0,609.1C277.8,610.7 277.7,612.4 277.5,614.0C277.3,615.6 277.1,617.3 276.9,618.9C276.7,620.6 276.5,622.2 276.3,623.8C276.2,625.5 276.0,627.1 275.8,628.7C275.6,630.4 275.4,632.0 275.2,633.6C275.0,635.3 274.8,636.9 274.6,638.5C274.4,640.2 274.2,641.8 274.0,643.4C273.8,645.1 273.6,646.7 273.4,648.3C273.2,650.0 273.0,651.6 272.8,653.2C272.6,654.9 272.4,656.5 272.2,658.1C272.0,659.8 271.7,661.4 271.5,663.0C271.3,664.6 271.1,666.3 270.9,667.9C270.7,669.5 270.5,671.2 270.2,672.8C270.0,674.4 269.8,676.1 269.6,677.7C269.4,679.3 269.1,681.0 268.9,682.6C268.7,684.2 268.5,685.9 268.3,687.5C268.0,689.1 267.8,690.7 267.6,692.4C267.3,694.0 267.1,695.6 266.9,697.3C266.7,698.9 266.4,700.5 266.2,702.2C266.0,703.8 265.7,705.4 265.5,707.0C265.2,708.7 265.0,710.3 264.8,711.9C264.5,713.6 264.3,715.2 264.0,716.8C263.8,718.4 263.5,720.1 263.3,721.7C263.0,723.3 262.8,724.9 262.5,726.6C262.3,728.2 262.0,729.8 261.8,731.5C261.5,733.1 261.3,734.7 261.0,736.3C260.8,738.0 260.5,739.6 260.3,741.2C260.0,742.8 259.7,744.5 259.5,746.1C259.2,747.7 258.9,749.3 258.7,751.0C258.4,752.6 258.1,754.2 257.9,755.8C257.6,757.5 257.3,759.1 257.0,760.7C256.8,762.3 256.5,764.0 256.2,765.6C255.9,767.2 255.7,768.8 255.4,770.5C255.1,772.1 254.8,773.7 254.5,775.3C254.2,776.9 254.0,778.6 253.7,780.2C253.4,781.8 253.1,783.4 252.8,785.1C252.5,786.7 252.2,788.3 251.9,789.9C251.6,791.5 251.3,793.2 251.0,794.8C250.7,796.4 250.4,798.0 250.1,799.7C249.8,801.3 249.5,802.9 249.2,804.5C248.9,806.1 248.6,807.8 248.3,809.4C248.0,811.0 247.6,812.6 247.3,814.2C247.0,815.9 246.7,817.5 246.4,819.1C246.1,820.7 245.7,822.3 245.4,823.9C245.1,825.6 244.8,827.2 244.4,828.8C244.1,830.4 243.8,832.0 243.4,833.7C243.1,835.3 242.8,836.9 242.4,838.5C242.1,840.1 241.8,841.7 241.4,843.4C241.1,845.0 240.8,846.6 240.4,848.2C240.1,849.8 239.7,851.6 239.4,853.0C239.1,854.5 238.7,856.1 238.6,856.7" stroke="#3e6fff"/>
<path d="M207.0,949.3L173.5,996.0" stroke="#3e6fff"/>
<path d="M348.9,121.6C348.8,122.4 348.5,125.0 348.4,126.7C348.2,128.4 348.1,130.1 347.9,131.8C347.7,133.4 347.6,135.1 347.4,136.8C347.3,138.5 347.1,140.2 346.9,141.9C346.8,143.6 346.6,145.3 346.5,147.0C346.3,148.7 346.1,150.4 346.0,152.1C345.8,153.8 345.7,155.5 345.5,157.2C345.4,158.9 345.2,160.6 345.1,162.3C344.9,164.0 344.7,165.7 344.6,167.3C344.4,169.0 344.3,170.7 344.1,172.4C344.0,174.1 343.8,175.8 343.7,177.5C343.5,179.2 343.4,180.9 343.2,182.6C343.1,184.3 342.9,186.0 342.8,187.7C342.6,189.4 342.5,191.1 342.3,192.8C342.2,194.5 342.0,196.2 341.9,197.9C341.8,199.6 341.6,201.3 341.5,203.0C341.3,204.7 341.2,206.4 341.0,208.1C340.9,209.8 340.7,211.5 340.6,213.1C340.4,214.8 340.3,216.5 340.2,218.2C340.0,219.9 339.9,221.6 339.7,223.3C339.6,225.0 339.4,226.7 339.3,228.4C339.2,230.1 339.0,231.8 338.9,233.5C338.7,235.2 338.6,236.9 338.4,238.6C338.3,240.3 338.2,242.0 338.0,243.7C337.9,245.4 337.7,247.1 337.6,248.8C337.5,250.5 337.3,252.2 337.2,253.9C337.0,255.6 336.9,257.3 336.8,259.0C336.6,260.7 336.5,262.4 336.3,264.1C336.2,265.8 336.1,267.5 335.9,269.2C335.8,270.9 335.6,272.6 335.5,274.3C335.4,276.0 335.2,277.7 335.1,279.4C334.9,281.1 334.8,282.7 334.7,284.4C334.5,286.1 334.4,287.8 334.3,289.5C334.1,291.2 334.0,292.9 333.8,294.6C333.7,296.3 333.6,298.0 333.4,299.7C333.3,301.4 333.1,303.1 333.0,304.8C332.9,306.5 332.7,308.2 332.6,309.9C332.4,311.6 332.3,313.3 332.2,315.0C332.0,316.7 331.9,318.4 331.8,320.1C331.6,321.8 331.4,323.9 331.3,325.2C331.2,326.5 331.2,327.3 331.1,327.7" stroke="#317efb"/>
<path d="M324.7,404.1C324.6,405.0 324.4,407.5 324.3,409.2C324.1,410.9 324.0,412.6 323.8,414.3C323.7,416.0 323.5,417.7 323.4,419.4C323.2,421.1 323.1,422.8 322.9,424.5C322.8,426.2 322.6,427.9 322.5,429.6C322.3,431.3 322.2,433.0 322.0,434.7C321.9,436.4 321.7,438.1 321.5,439.8C321.4,441.5 321.2,443.2 321.1,444.9C320.9,446.6 320.8,448.3 320.6,450.0C320.4,451.6 320.3,453.3 320.1,455.0C320.0,456.7 319.8,458.4 319.7,460.1C319.5,461.8 319.3,463.5 319.2,465.2C319.0,466.9 318.8,468.6 318.7,470.3C318.5,472.0 318.4,473.7 318.2,475.4C318.0,477.1 317.9,478.8 317.7,480.5C317.5,482.2 317.4,483.9 317.2,485.6C317.0,487.2 316.9,488.9 316.7,490.6C316.5,492.3 316.4,494.0 316.2,495.7C316.0,497.4 315.8,499.1 315.7,500.8C315.5,502.5 315.3,504.2 315.2,505.9C315.0,507.6 314.8,509.3 314.6,511.0C314.5,512.7 314.3,514.3 314.1,516.0C313.9,517.7 313.7,519.4 313.6,521.1C313.4,522.8 313.2,524.5 313.0,526.2C312.8,527.9 312.7,529.6 312.5,531.3C312.3,533.0 312.1,534.7 311.9,536.4C311.7,538.0 311.6,539.7 311.4,541.4C311.2,543.1 311.0,544.8 310.8,546.5C310.6,548.2 310.4,549.9 310.2,551.6C310.0,553.3 309.8,555.0 309.7,556.7C309.5,558.3 309.3,560.0 309.1,561.7C308.9,563.4 308.7,565.1 308.5,566.8C308.3,568.5 308.1,570.2 307.9,571.9C307.7,573.6 307.5,575.2 307.3,576.9C307.1,578.6 306.9,580.3 306.7,582.0C306.5,583.7 306.3,585.4 306.0,587.1C305.8,588.8 305.6,590.4 305.4,592.1C305.2,593.8 305.0,595.5 304.8,597.2C304.6,598.9 304.4,600.6 304.1,602.3C303.9,604.0 303.7,605.6 303.5,607.3C303.3,609.0 303.1,610.7 302.8,612.4C302.6,614.1 302.4,615.8 302.2,617.5C302.0,619.1 301.7,620.8 301.5,622.5C301.3,624.2 301.1,625.9 300.8,627.6C300.6,629.3 300.4,630.9 300.1,632.6C299.9,634.3 299.7,636.0 299.4,637.7C299.2,639.4 299.0,641.1 298.7,642.7C298.5,644.4 298.3,646.1 298.0,647.8C297.8,649.5 297.5,651.2 297.3,652.9C297.1,654.5 296.8,656.2 296.6,657.9C296.3,659.6 296.1,661.3 295.8,663.0C295.6,664.6 295.3,666.3 295.1,668.0C294.8,669.7 294.6,671.4 294.3,673.1C294.1,674.7 293.8,676.4 293.5,678.1C293.3,679.8 293.0,681.5 292.8,683.1C292.5,684.8 292.2,686.5 292.0,688.2C291.7,689.9 291.4,691.6 291.2,693.2C290.9,694.9 290.6,696.6 290.4,698.3C290.1,700.0 289.8,701.6 289.5,703.3C289.3,705.0 289.0,706.7 288.7,708.4C288.4,710.0 288.2,711.7 287.9,713.4C287.6,715.1 287.3,716.7 287.0,718.4C286.7,720.1 286.4,721.8 286.2,723.5C285.9,725.1 285.6,726.8 285.3,728.5C285.0,730.2 284.7,731.8 284.4,733.5C284.1,735.2 283.8,736.9 283.5,738.6C283.2,740.2 282.9,741.9 282.6,743.6C282.3,745.3 282.0,746.9 281.7,748.6C281.4,750.3 281.1,752.0 280.8,753.6C280.5,755.3 280.1,757.0 279.8,758.7C279.5,760.3 279.2,762.0 278.9,763.7C278.6,765.4 278.2,767.0 277.9,768.7C277.6,770.4 277.3,772.0 276.9,773.7C276.6,775.4 276.3,777.1 275.9,778.7C275.6,780.4 275.3,782.1 274.9,783.7C274.6,785.4 274.3,787.1 273.9,788.8C273.6,790.4 273.3,792.1 272.9,793.8C272.6,795.4 272.2,797.1 271.9,798.8C271.5,800.5 271.2,802.1 270.8,803.8C270.5,805.5 270.1,807.1 269.8,808.8C269.4,810.5 269.1,812.1 268.7,813.8C268.3,815.5 268.0,817.1 267.6,818.8C267.2,820.5 266.9,822.1 266.5,823.8C266.1,825.5 265.8,827.1 265.4,828.8C265.0,830.5 264.6,832.1 264.3,833.8C263.9,835.5 263.5,837.1 263.1,838.8C262.7,840.5 262.3,842.1 262.0,843.8C261.6,845.5 261.2,847.1 260.8,848.8C260.4,850.4 260.0,852.1 259.6,853.8C259.2,855.4 258.8,857.1 258.4,858.8C258.0,860.4 257.6,862.1 257.2,863.7C256.8,865.4 256.4,867.1 256.0,868.7C255.6,870.4 255.1,872.0 254.7,873.7C254.3,875.4 253.7,877.6 253.5,878.7C253.2,879.7 253.2,879.7 253.2,879.9" stroke="#317efb"/>
<path d="M218.5,951.5L178.7,996.0" stroke="#317efb"/>
<path d="M383.1,121.6C383.0,122.5 382.6,125.0 382.4,126.6C382.2,128.3 382.0,129.9 381.8,131.6C381.6,133.3 381.4,134.9 381.2,136.6C381.0,138.2 380.8,139.9 380.7,141.6C380.5,143.2 380.3,144.9 380.1,146.6C379.9,148.2 379.7,149.9 379.5,151.5C379.3,153.2 379.1,154.9 378.9,156.5C378.7,158.2 378.5,159.9 378.4,161.5C378.2,163.2 378.0,164.9 377.8,166.5C377.6,168.2 377.4,169.9 377.2,171.5C377.1,173.2 376.9,174.8 376.7,176.5C376.5,178.2 376.3,179.8 376.1,181.5C376.0,183.2 375.8,184.8 375.6,186.5C375.4,188.2 375.3,189.8 375.1,191.5C374.9,193.2 374.7,194.8 374.5,196.5C374.4,198.2 374.2,199.8 374.0,201.5C373.8,203.2 373.7,204.8 373.5,206.5C373.3,208.2 373.2,209.8 373.0,211.5C372.8,213.2 372.6,214.8 372.5,216.5C372.3,218.2 372.1,219.8 372.0,221.5C371.8,223.2 371.6,224.8 371.5,226.5C371.3,228.2 371.1,229.8 371.0,231.5C370.8,233.2 370.6,234.9 370.5,236.5C370.3,238.2 370.1,239.9 370.0,241.5C369.8,243.2 369.6,244.9 369.5,246.5C369.3,248.2 369.2,249.9 369.0,251.5C368.8,253.2 368.7,254.9 368.5,256.6C368.3,258.2 368.2,259.9 368.0,261.6C367.9,263.2 367.7,264.9 367.5,266.6C367.4,268.2 367.2,269.9 367.1,271.6C366.9,273.2 366.7,274.9 366.6,276.6C366.4,278.3 366.3,279.9 366.1,281.6C366.0,283.3 365.8,284.9 365.6,286.6C365.5,288.3 365.3,289.9 365.2,291.6C365.0,293.3 364.9,295.0 364.7,296.6C364.5,298.3 364.4,300.0 364.2,301.6C364.1,303.3 363.9,305.0 363.8,306.7C363.6,308.3 363.4,310.4 363.3,311.7C363.2,312.9 363.1,313.8 363.1,314.2" stroke="#2d8af4"/>
<path d="M354.0,410.7C353.9,411.5 353.7,414.0 353.5,415.7C353.3,417.3 353.2,419.0 353.0,420.7C352.8,422.3 352.7,424.0 352.5,425.7C352.3,427.4 352.2,429.0 352.0,430.7C351.8,432.4 351.7,434.0 351.5,435.7C351.3,437.4 351.2,439.0 351.0,440.7C350.8,442.4 350.7,444.0 350.5,445.7C350.3,447.4 350.1,449.1 350.0,450.7C349.8,452.4 349.6,454.1 349.5,455.7C349.3,457.4 349.1,459.1 348.9,460.7C348.8,462.4 348.6,464.1 348.4,465.7C348.2,467.4 348.0,469.1 347.9,470.7C347.7,472.4 347.5,474.1 347.3,475.7C347.2,477.4 347.0,479.1 346.8,480.8C346.6,482.4 346.4,484.1 346.2,485.8C346.1,487.4 345.9,489.1 345.7,490.8C345.5,492.4 345.3,494.1 345.1,495.8C344.9,497.4 344.8,499.1 344.6,500.8C344.4,502.4 344.2,504.1 344.0,505.8C343.8,507.4 343.6,509.1 343.4,510.7C343.2,512.4 343.0,514.1 342.8,515.7C342.7,517.4 342.5,519.1 342.3,520.7C342.1,522.4 341.9,524.1 341.7,525.7C341.5,527.4 341.3,529.1 341.1,530.7C340.9,532.4 340.7,534.1 340.5,535.7C340.3,537.4 340.0,539.0 339.8,540.7C339.6,542.4 339.4,544.0 339.2,545.7C339.0,547.4 338.8,549.0 338.6,550.7C338.4,552.3 338.2,554.0 338.0,555.7C337.7,557.3 337.5,559.0 337.3,560.7C337.1,562.3 336.9,564.0 336.7,565.6C336.4,567.3 336.2,569.0 336.0,570.6C335.8,572.3 335.6,573.9 335.3,575.6C335.1,577.3 334.9,578.9 334.6,580.6C334.4,582.2 334.2,583.9 334.0,585.6C333.7,587.2 333.5,588.9 333.3,590.5C333.0,592.2 332.8,593.9 332.6,595.5C332.3,597.2 332.1,598.8 331.8,600.5C331.6,602.2 331.4,603.8 331.1,605.5C330.9,607.1 330.6,608.8 330.4,610.4C330.1,612.1 329.9,613.8 329.7,615.4C329.4,617.1 329.2,618.7 328.9,620.4C328.6,622.0 328.4,623.7 328.1,625.3C327.9,627.0 327.6,628.7 327.4,630.3C327.1,632.0 326.8,633.6 326.6,635.3C326.3,636.9 326.1,638.6 325.8,640.2C325.5,641.9 325.3,643.5 325.0,645.2C324.7,646.8 324.4,648.5 324.2,650.2C323.9,651.8 323.6,653.5 323.4,655.1C323.1,656.8 322.8,658.4 322.5,660.1C322.2,661.7 322.0,663.4 321.7,665.0C321.4,666.7 321.1,668.3 320.8,670.0C320.5,671.6 320.2,673.3 319.9,674.9C319.6,676.6 319.3,678.2 319.1,679.9C318.8,681.5 318.5,683.2 318.2,684.8C317.9,686.5 317.6,688.1 317.3,689.7C316.9,691.4 316.6,693.0 316.3,694.7C316.0,696.3 315.7,698.0 315.4,699.6C315.1,701.3 314.8,702.9 314.5,704.6C314.1,706.2 313.8,707.9 313.5,709.5C313.2,711.1 312.9,712.8 312.5,714.4C312.2,716.1 311.9,717.7 311.5,719.4C311.2,721.0 310.9,722.6 310.5,724.3C310.2,725.9 309.9,727.6 309.5,729.2C309.2,730.8 308.8,732.5 308.5,734.1C308.2,735.8 307.8,737.4 307.5,739.1C307.1,740.7 306.8,742.3 306.4,744.0C306.1,745.6 305.7,747.2 305.3,748.9C305.0,750.5 304.6,752.2 304.3,753.8C303.9,755.4 303.5,757.1 303.2,758.7C302.8,760.3 302.4,762.0 302.1,763.6C301.7,765.3 301.3,766.9 300.9,768.5C300.6,770.2 300.2,771.8 299.8,773.4C299.4,775.1 299.0,776.7 298.6,778.3C298.2,780.0 297.9,781.6 297.5,783.2C297.1,784.9 296.7,786.5 296.3,788.1C295.9,789.7 295.5,791.4 295.1,793.0C294.7,794.6 294.3,796.3 293.8,797.9C293.4,799.5 293.0,801.2 292.6,802.8C292.2,804.4 291.8,806.0 291.4,807.7C290.9,809.3 290.5,810.9 290.1,812.5C289.7,814.2 289.2,815.8 288.8,817.4C288.4,819.1 287.9,820.7 287.5,822.3C287.1,823.9 286.6,825.6 286.2,827.2C285.7,828.8 285.3,830.4 284.8,832.0C284.4,833.7 283.9,835.3 283.5,836.9C283.0,838.5 282.6,840.2 282.1,841.8C281.7,843.4 281.2,845.0 280.7,846.6C280.3,848.3 279.8,849.9 279.3,851.5C278.8,853.1 278.4,854.7 277.9,856.3C277.4,858.0 276.9,859.6 276.4,861.2C276.0,862.8 275.2,865.2 275.0,866.0" stroke="#2d8af4"/>
<path d="M233.3,954.7L186.4,996.0" stroke="#2d8af4"/>
<path d="M420.7,121.8C420.5,122.7 420.1,125.3 419.9,127.0C419.6,128.7 419.4,130.4 419.1,132.1C418.8,133.9 418.6,135.6 418.3,137.3C418.1,139.0 417.8,140.7 417.5,142.4C417.3,144.2 417.0,145.9 416.8,147.6C416.5,149.3 416.3,151.0 416.0,152.7C415.8,154.5 415.5,156.2 415.3,157.9C415.1,159.6 414.8,161.3 414.6,163.1C414.3,164.8 414.1,166.5 413.8,168.2C413.6,169.9 413.4,171.7 413.1,173.4C412.9,175.1 412.7,176.8 412.4,178.6C412.2,180.3 412.0,182.0 411.7,183.7C411.5,185.4 411.3,187.2 411.0,188.9C410.8,190.6 410.6,192.3 410.4,194.1C410.1,195.8 409.9,197.5 409.7,199.2C409.5,201.0 409.2,202.7 409.0,204.4C408.8,206.1 408.6,207.9 408.4,209.6C408.1,211.3 407.9,213.0 407.7,214.8C407.5,216.5 407.3,218.2 407.0,219.9C406.8,221.7 406.6,223.4 406.4,225.1C406.2,226.9 406.0,228.6 405.8,230.3C405.6,232.0 405.3,233.8 405.1,235.5C404.9,237.2 404.7,239.0 404.5,240.7C404.3,242.4 404.1,244.1 403.9,245.9C403.7,247.6 403.5,249.3 403.3,251.1C403.1,252.8 402.9,254.5 402.7,256.3C402.5,258.0 402.3,259.7 402.1,261.4C401.9,263.2 401.7,264.9 401.5,266.6C401.3,268.4 401.1,270.1 400.9,271.8C400.7,273.6 400.5,275.3 400.3,277.0C400.1,278.8 399.9,280.5 399.7,282.2C399.5,284.0 399.3,285.7 399.1,287.4C398.9,289.2 398.7,290.9 398.5,292.6C398.3,294.4 398.1,296.1 397.9,297.8C397.7,299.6 397.5,301.3 397.3,303.0C397.2,304.8 397.0,306.5 396.8,308.2C396.6,310.0 396.4,311.7 396.2,313.4C396.0,315.2 395.8,316.9 395.6,318.6C395.4,320.4 395.2,322.1 395.0,323.8C394.9,325.6 394.7,327.3 394.5,329.0C394.3,330.8 394.1,332.5 393.9,334.2C393.7,336.0 393.5,337.9 393.3,339.4C393.2,341.0 393.0,342.7 392.9,343.3" stroke="#2797eb"/>
<path d="M384.6,418.8C384.5,419.7 384.2,422.3 384.0,424.0C383.8,425.8 383.6,427.5 383.4,429.2C383.2,431.0 383.0,432.7 382.8,434.4C382.6,436.2 382.4,437.9 382.2,439.6C382.0,441.4 381.8,443.1 381.6,444.8C381.4,446.6 381.2,448.3 381.0,450.0C380.8,451.8 380.6,453.5 380.4,455.2C380.2,457.0 380.0,458.7 379.8,460.4C379.6,462.2 379.4,463.9 379.2,465.6C379.0,467.3 378.7,469.1 378.5,470.8C378.3,472.5 378.1,474.3 377.9,476.0C377.7,477.7 377.5,479.5 377.3,481.2C377.1,482.9 376.8,484.7 376.6,486.4C376.4,488.1 376.2,489.9 376.0,491.6C375.8,493.3 375.5,495.0 375.3,496.8C375.1,498.5 374.9,500.2 374.7,502.0C374.4,503.7 374.2,505.4 374.0,507.2C373.8,508.9 373.5,510.6 373.3,512.3C373.1,514.1 372.9,515.8 372.6,517.5C372.4,519.3 372.2,521.0 371.9,522.7C371.7,524.4 371.5,526.2 371.2,527.9C371.0,529.6 370.8,531.3 370.5,533.1C370.3,534.8 370.0,536.5 369.8,538.2C369.6,540.0 369.3,541.7 369.1,543.4C368.8,545.2 368.6,546.9 368.4,548.6C368.1,550.3 367.9,552.0 367.6,553.8C367.4,555.5 367.1,557.2 366.9,558.9C366.6,560.7 366.4,562.4 366.1,564.1C365.8,565.8 365.6,567.6 365.3,569.3C365.1,571.0 364.8,572.7 364.5,574.4C364.3,576.2 364.0,577.9 363.8,579.6C363.5,581.3 363.2,583.1 363.0,584.8C362.7,586.5 362.4,588.2 362.1,589.9C361.9,591.6 361.6,593.4 361.3,595.1C361.0,596.8 360.8,598.5 360.5,600.2C360.2,602.0 359.9,603.7 359.6,605.4C359.3,607.1 359.1,608.8 358.8,610.5C358.5,612.3 358.2,614.0 357.9,615.7C357.6,617.4 357.3,619.1 357.0,620.8C356.7,622.5 356.4,624.3 356.1,626.0C355.8,627.7 355.5,629.4 355.2,631.1C354.9,632.8 354.6,634.5 354.3,636.2C354.0,638.0 353.7,639.7 353.4,641.4C353.1,643.1 352.7,644.8 352.4,646.5C352.1,648.2 351.8,649.9 351.5,651.6C351.1,653.3 350.8,655.1 350.5,656.8C350.2,658.5 349.8,660.2 349.5,661.9C349.2,663.6 348.8,665.3 348.5,667.0C348.2,668.7 347.8,670.4 347.5,672.1C347.1,673.8 346.8,675.5 346.5,677.2C346.1,678.9 345.8,680.6 345.4,682.3C345.1,684.0 344.7,685.7 344.3,687.4C344.0,689.2 343.6,690.9 343.3,692.6C342.9,694.3 342.5,696.0 342.2,697.7C341.8,699.4 341.4,701.0 341.1,702.7C340.7,704.4 340.3,706.1 339.9,707.8C339.6,709.5 339.2,711.2 338.8,712.9C338.4,714.6 338.0,716.3 337.6,718.0C337.3,719.7 336.9,721.4 336.5,723.1C336.1,724.8 335.7,726.5 335.3,728.2C334.9,729.9 334.5,731.6 334.1,733.2C333.7,734.9 333.3,736.6 332.8,738.3C332.4,740.0 332.0,741.7 331.6,743.4C331.2,745.1 330.8,746.8 330.3,748.4C329.9,750.1 329.5,751.8 329.1,753.5C328.6,755.2 328.2,756.9 327.8,758.6C327.3,760.2 326.9,761.9 326.4,763.6C326.0,765.3 325.5,767.0 325.1,768.7C324.6,770.3 324.2,772.0 323.7,773.7C323.3,775.4 322.8,777.1 322.4,778.7C321.9,780.4 321.4,782.1 321.0,783.8C320.5,785.4 320.0,787.1 319.5,788.8C319.1,790.5 318.6,792.2 318.1,793.8C317.6,795.5 317.1,797.2 316.7,798.8C316.2,800.5 315.7,802.2 315.2,803.9C314.7,805.5 314.2,807.2 313.7,808.9C313.2,810.5 312.7,812.2 312.2,813.9C311.6,815.5 311.1,817.2 310.6,818.9C310.1,820.5 309.6,822.2 309.0,823.9C308.5,825.5 308.0,827.2 307.5,828.9C306.9,830.5 306.4,832.2 305.9,833.9C305.3,835.5 304.8,837.2 304.2,838.8C303.7,840.5 303.1,842.2 302.6,843.8C302.0,845.5 301.5,847.1 300.9,848.8C300.3,850.5 299.8,852.1 299.2,853.8C298.6,855.4 298.1,857.1 297.5,858.7C296.9,860.4 296.3,862.0 295.7,863.7C295.1,865.3 294.6,867.0 294.0,868.6C293.4,870.3 292.8,871.9 292.2,873.6C291.6,875.2 291.0,876.9 290.3,878.5C289.7,880.2 289.1,881.8 288.5,883.5C287.9,885.1 287.1,887.2 286.6,888.4C286.2,889.6 285.8,890.4 285.7,890.9" stroke="#2797eb"/>
<path d="M247.2,956.8L195.3,996.0" stroke="#2797eb"/>
<path d="M461.0,121.8C460.9,122.7 460.5,125.2 460.2,126.9C459.9,128.6 459.6,130.3 459.3,131.9C459.0,133.6 458.7,135.3 458.4,137.0C458.2,138.7 457.9,140.4 457.6,142.1C457.3,143.7 457.0,145.4 456.8,147.1C456.5,148.8 456.2,150.5 455.9,152.2C455.7,153.9 455.4,155.6 455.1,157.2C454.9,158.9 454.6,160.6 454.3,162.3C454.1,164.0 453.8,165.7 453.5,167.4C453.3,169.1 453.0,170.8 452.7,172.5C452.5,174.1 452.2,175.8 452.0,177.5C451.7,179.2 451.4,180.9 451.2,182.6C450.9,184.3 450.7,186.0 450.4,187.7C450.2,189.4 449.9,191.1 449.7,192.8C449.4,194.5 449.2,196.1 448.9,197.8C448.7,199.5 448.4,201.2 448.2,202.9C447.9,204.6 447.7,206.3 447.4,208.0C447.2,209.7 446.9,211.4 446.7,213.1C446.4,214.8 446.2,216.5 446.0,218.2C445.7,219.9 445.5,221.6 445.2,223.3C445.0,225.0 444.8,226.7 444.5,228.4C444.3,230.1 444.0,231.8 443.8,233.5C443.6,235.2 443.3,236.9 443.1,238.6C442.9,240.3 442.6,242.0 442.4,243.7C442.2,245.4 441.9,247.0 441.7,248.7C441.5,250.4 441.3,252.1 441.0,253.8C440.8,255.5 440.6,257.2 440.3,258.9C440.1,260.6 439.9,262.3 439.7,264.0C439.4,265.7 439.2,267.4 439.0,269.2C438.7,270.9 438.5,272.6 438.3,274.3C438.1,276.0 437.9,277.7 437.6,279.4C437.4,281.1 437.2,282.8 437.0,284.5C436.7,286.2 436.5,287.9 436.3,289.6C436.1,291.3 435.9,293.0 435.6,294.7C435.4,296.4 435.2,298.1 435.0,299.8C434.8,301.5 434.5,303.2 434.3,304.9C434.1,306.6 433.9,308.3 433.7,310.0C433.4,311.7 433.2,313.4 433.0,315.1C432.8,316.8 432.6,318.5 432.3,320.2C432.1,321.9 431.9,323.6 431.7,325.3C431.5,327.0 431.2,329.4 431.0,330.4C430.9,331.5 430.9,331.5 430.9,331.7" stroke="#22a2e4"/>
<path d="M418.4,428.8C418.3,429.7 417.9,432.2 417.7,433.9C417.5,435.6 417.3,437.3 417.0,439.0C416.8,440.7 416.6,442.5 416.3,444.2C416.1,445.9 415.9,447.6 415.6,449.3C415.4,451.0 415.2,452.7 414.9,454.4C414.7,456.1 414.5,457.8 414.2,459.5C414.0,461.2 413.8,462.9 413.5,464.6C413.3,466.3 413.1,468.0 412.8,469.7C412.6,471.4 412.3,473.1 412.1,474.8C411.9,476.5 411.6,478.2 411.4,479.9C411.1,481.6 410.9,483.3 410.7,485.0C410.4,486.7 410.2,488.4 409.9,490.1C409.7,491.8 409.4,493.5 409.2,495.2C408.9,496.9 408.7,498.6 408.4,500.2C408.2,501.9 407.9,503.6 407.7,505.3C407.4,507.0 407.2,508.7 406.9,510.4C406.6,512.1 406.4,513.8 406.1,515.5C405.9,517.2 405.6,518.9 405.4,520.6C405.1,522.3 404.8,524.0 404.6,525.7C404.3,527.4 404.0,529.1 403.8,530.8C403.5,532.5 403.2,534.2 403.0,535.9C402.7,537.6 402.4,539.2 402.2,540.9C401.9,542.6 401.6,544.3 401.3,546.0C401.1,547.7 400.8,549.4 400.5,551.1C400.2,552.8 400.0,554.5 399.7,556.2C399.4,557.9 399.1,559.5 398.8,561.2C398.5,562.9 398.3,564.6 398.0,566.3C397.7,568.0 397.4,569.7 397.1,571.4C396.8,573.1 396.5,574.8 396.2,576.4C395.9,578.1 395.6,579.8 395.3,581.5C395.0,583.2 394.7,584.9 394.4,586.6C394.1,588.2 393.8,589.9 393.5,591.6C393.2,593.3 392.9,595.0 392.6,596.7C392.3,598.4 392.0,600.0 391.7,601.7C391.4,603.4 391.1,605.1 390.7,606.8C390.4,608.5 390.1,610.1 389.8,611.8C389.5,613.5 389.1,615.2 388.8,616.9C388.5,618.6 388.2,620.2 387.8,621.9C387.5,623.6 387.2,625.3 386.8,627.0C386.5,628.6 386.2,630.3 385.8,632.0C385.5,633.7 385.2,635.3 384.8,637.0C384.5,638.7 384.1,640.4 383.8,642.1C383.4,643.7 383.1,645.4 382.8,647.1C382.4,648.8 382.0,650.4 381.7,652.1C381.3,653.8 381.0,655.5 380.6,657.1C380.3,658.8 379.9,660.5 379.5,662.1C379.2,663.8 378.8,665.5 378.4,667.2C378.1,668.8 377.7,670.5 377.3,672.2C377.0,673.8 376.6,675.5 376.2,677.2C375.8,678.8 375.4,680.5 375.1,682.2C374.7,683.9 374.3,685.5 373.9,687.2C373.5,688.9 373.1,690.5 372.7,692.2C372.3,693.8 371.9,695.5 371.5,697.2C371.1,698.8 370.7,700.5 370.3,702.2C369.9,703.8 369.5,705.5 369.1,707.2C368.7,708.8 368.3,710.5 367.9,712.1C367.4,713.8 367.0,715.5 366.6,717.1C366.2,718.8 365.8,720.4 365.3,722.1C364.9,723.7 364.5,725.4 364.0,727.1C363.6,728.7 363.2,730.4 362.7,732.0C362.3,733.7 361.9,735.3 361.4,737.0C361.0,738.6 360.5,740.3 360.1,741.9C359.6,743.6 359.2,745.3 358.7,746.9C358.3,748.6 357.8,750.2 357.3,751.9C356.9,753.5 356.4,755.2 355.9,756.8C355.5,758.4 355.0,760.1 354.5,761.7C354.0,763.4 353.6,765.0 353.1,766.7C352.6,768.3 352.1,770.0 351.6,771.6C351.1,773.3 350.7,774.9 350.2,776.5C349.7,778.2 349.2,779.8 348.7,781.5C348.2,783.1 347.7,784.7 347.2,786.4C346.7,788.0 346.1,789.7 345.6,791.3C345.1,792.9 344.6,794.6 344.1,796.2C343.6,797.8 343.0,799.5 342.5,801.1C342.0,802.7 341.4,804.4 340.9,806.0C340.4,807.6 339.8,809.3 339.3,810.9C338.8,812.5 338.2,814.2 337.7,815.8C337.1,817.4 336.6,819.1 336.0,820.7C335.4,822.3 334.9,823.9 334.3,825.6C333.8,827.2 333.2,828.8 332.6,830.4C332.0,832.1 331.5,833.7 330.9,835.3C330.3,836.9 329.7,838.6 329.1,840.2C328.6,841.8 328.0,843.4 327.4,845.0C326.8,846.7 326.2,848.3 325.6,849.9C325.0,851.5 324.4,853.1 323.8,854.7C323.2,856.4 322.6,858.0 321.9,859.6C321.3,861.2 320.7,862.8 320.1,864.4C319.5,866.0 318.8,867.6 318.2,869.3C317.6,870.9 316.8,872.9 316.3,874.1C315.8,875.3 315.5,876.1 315.3,876.5" stroke="#22a2e4"/>
<path d="M261.6,958.3L206.6,996.0" stroke="#22a2e4"/>
<path d="M504.0,122.0C503.8,122.9 503.3,125.5 503.0,127.2C502.6,129.0 502.3,130.7 502.0,132.5C501.6,134.2 501.3,135.9 501.0,137.7C500.6,139.4 500.3,141.2 500.0,142.9C499.6,144.6 499.3,146.4 499.0,148.1C498.7,149.9 498.3,151.6 498.0,153.3C497.7,155.1 497.4,156.8 497.1,158.6C496.7,160.3 496.4,162.1 496.1,163.8C495.8,165.6 495.5,167.3 495.2,169.1C494.9,170.8 494.6,172.6 494.3,174.3C493.9,176.1 493.6,177.8 493.3,179.6C493.0,181.3 492.7,183.1 492.4,184.8C492.1,186.6 491.8,188.3 491.5,190.1C491.2,191.8 490.9,193.8 490.6,195.3C490.4,196.9 490.2,197.9 490.0,199.3C489.8,200.6 489.5,201.9 489.3,203.2C489.1,204.5 488.9,205.8 488.7,207.2C488.5,208.5 488.2,209.8 488.0,211.1C487.8,212.4 487.6,213.7 487.4,215.1C487.2,216.4 487.0,217.7 486.7,219.0C486.5,220.3 486.3,221.7 486.1,223.0C485.9,224.3 485.7,225.6 485.5,226.9C485.3,228.3 485.1,229.6 484.8,230.9C484.6,232.2 484.4,233.5 484.2,234.9C484.0,236.2 483.8,237.5 483.6,238.8C483.4,240.1 483.2,241.5 483.0,242.8C482.8,244.1 482.6,245.4 482.4,246.7C482.2,248.1 482.0,249.4 481.8,250.7C481.6,252.0 481.3,253.4 481.1,254.7C480.9,256.0 480.7,257.3 480.5,258.6C480.3,260.0 480.1,261.3 479.9,262.6C479.7,263.9 479.5,265.3 479.3,266.6C479.1,267.9 478.9,269.2 478.7,270.6C478.5,271.9 478.3,273.2 478.1,274.5C477.9,275.8 477.7,277.2 477.5,278.5C477.3,279.8 477.2,281.1 477.0,282.5C476.8,283.8 476.6,285.1 476.4,286.4C476.2,287.8 476.0,289.1 475.8,290.4C475.6,291.8 475.4,293.1 475.2,294.4C475.0,295.7 474.8,297.1 474.6,298.4C474.4,299.7 474.2,301.0 474.0,302.4C473.8,303.7 473.6,305.0 473.4,306.3C473.3,307.7 473.1,309.0 472.9,310.3C472.7,311.6 472.5,313.0 472.3,314.3C472.1,315.6 471.9,317.0 471.7,318.3C471.5,319.6 471.3,320.9 471.1,322.3C470.9,323.6 470.7,324.9 470.6,326.2C470.4,327.6 470.2,328.9 470.0,330.2C469.8,331.6 469.6,332.9 469.4,334.2C469.2,335.5 469.0,336.9 468.8,338.2C468.6,339.5 468.4,340.9 468.3,342.2C468.1,343.5 467.9,344.8 467.7,346.2C467.5,347.5 467.3,348.8 467.1,350.2C466.9,351.5 466.7,352.8 466.5,354.1C466.3,355.5 466.1,357.0 466.0,358.1C465.8,359.2 465.6,360.3 465.6,360.8" stroke="#1aacdd"/>
<path d="M454.0,439.2C453.9,439.8 453.6,441.8 453.4,443.1C453.2,444.5 453.0,445.8 452.8,447.1C452.6,448.4 452.4,449.8 452.2,451.1C452.0,452.4 451.8,453.7 451.6,455.1C451.4,456.4 451.2,457.7 451.0,459.0C450.8,460.4 450.5,461.7 450.3,463.0C450.1,464.4 449.9,465.7 449.7,467.0C449.5,468.3 449.3,469.7 449.1,471.0C448.9,472.3 448.7,473.6 448.4,475.0C448.2,476.3 448.0,477.6 447.8,478.9C447.6,480.3 447.4,481.6 447.2,482.9C446.9,484.2 446.7,485.5 446.5,486.9C446.3,488.2 446.1,489.5 445.9,490.8C445.6,492.2 445.4,493.5 445.2,494.8C445.0,496.1 444.8,497.5 444.6,498.8C444.3,500.1 444.1,501.4 443.9,502.7C443.7,504.1 443.4,505.4 443.2,506.7C443.0,508.0 442.8,509.4 442.5,510.7C442.3,512.0 442.1,513.3 441.9,514.6C441.6,516.0 441.4,517.3 441.2,518.6C440.9,519.9 440.7,521.2 440.5,522.6C440.3,523.9 440.0,525.2 439.8,526.5C439.6,527.8 439.3,529.2 439.1,530.5C438.9,531.8 438.6,533.1 438.4,534.4C438.1,535.8 437.9,537.1 437.7,538.4C437.4,539.7 437.2,541.0 437.0,542.3C436.7,543.7 436.5,545.0 436.2,546.3C436.0,547.6 435.7,548.9 435.5,550.3C435.3,551.6 435.0,552.9 434.8,554.2C434.5,555.5 434.3,556.8 434.0,558.1C433.8,559.5 433.5,560.8 433.3,562.1C433.0,563.4 432.8,564.7 432.5,566.0C432.3,567.3 432.0,568.7 431.8,570.0C431.5,571.3 431.2,572.6 431.0,573.9C430.7,575.2 430.5,576.5 430.2,577.9C430.0,579.2 429.7,580.5 429.4,581.8C429.2,583.1 428.9,584.4 428.6,585.7C428.4,587.0 428.1,588.3 427.8,589.6C427.6,591.0 427.3,592.3 427.0,593.6C426.8,594.9 426.5,596.2 426.2,597.5C425.9,598.8 425.7,600.1 425.4,601.4C425.1,602.7 424.8,604.0 424.6,605.4C424.3,606.7 424.0,608.0 423.7,609.3C423.5,610.6 423.2,611.9 422.9,613.2C422.6,614.5 422.3,615.8 422.0,617.1C421.8,618.4 421.5,619.7 421.2,621.0C420.9,622.3 420.6,623.6 420.3,624.9C420.0,626.2 419.7,627.5 419.4,628.8C419.1,630.1 418.8,631.4 418.5,632.7C418.2,634.0 417.9,635.3 417.6,636.6C417.3,637.9 417.0,639.2 416.7,640.5C416.4,641.8 416.1,643.1 415.8,644.4C415.5,645.7 415.2,647.0 414.9,648.3C414.6,649.6 414.3,650.9 414.0,652.2C413.7,653.5 413.4,654.8 413.0,656.1C412.7,657.4 412.4,658.7 412.1,660.0C411.8,661.3 411.4,662.6 411.1,663.9C410.8,665.2 410.5,666.5 410.2,667.8C409.8,669.1 409.5,670.4 409.2,671.7C408.8,673.0 408.5,674.2 408.2,675.5C407.9,676.8 407.6,677.9 407.2,679.4C406.8,680.9 406.3,682.8 405.8,684.6C405.4,686.3 404.9,688.0 404.5,689.7C404.0,691.4 403.5,693.2 403.1,694.9C402.6,696.6 402.1,698.3 401.7,700.0C401.2,701.7 400.7,703.4 400.2,705.1C399.8,706.9 399.3,708.6 398.8,710.3C398.3,712.0 397.8,713.7 397.3,715.4C396.8,717.1 396.4,718.8 395.9,720.5C395.4,722.2 394.9,723.9 394.3,725.6C393.8,727.3 393.3,729.0 392.8,730.7C392.3,732.4 391.8,734.1 391.3,735.8C390.8,737.5 390.2,739.2 389.7,740.9C389.2,742.6 388.6,744.3 388.1,746.0C387.6,747.7 387.0,749.4 386.5,751.1C386.0,752.8 385.4,754.5 384.9,756.2C384.3,757.9 383.8,759.6 383.2,761.3C382.6,762.9 382.0,764.8 381.5,766.3C381.0,767.8 380.7,768.8 380.2,770.1C379.8,771.4 379.4,772.6 379.0,773.9C378.5,775.2 378.1,776.4 377.7,777.7C377.2,778.9 376.8,780.2 376.3,781.5C375.9,782.7 375.5,784.0 375.0,785.2C374.6,786.5 374.1,787.7 373.7,789.0C373.2,790.3 372.8,791.5 372.3,792.8C371.9,794.0 371.4,795.3 370.9,796.5C370.5,797.8 370.0,799.0 369.6,800.3C369.1,801.5 368.6,802.8 368.2,804.0C367.7,805.3 367.2,806.5 366.7,807.8C366.3,809.0 365.8,810.3 365.3,811.5C364.8,812.8 364.4,814.0 363.9,815.3C363.4,816.5 362.9,817.8 362.4,819.0C361.9,820.3 361.4,821.5 361.0,822.8C360.5,824.0 360.0,825.2 359.5,826.5C359.0,827.7 358.5,829.0 358.0,830.2C357.5,831.4 357.0,832.7 356.4,833.9C355.9,835.2 355.4,836.4 354.9,837.6C354.4,838.9 353.9,840.1 353.4,841.4C352.9,842.6 352.3,843.8 351.8,845.1C351.3,846.3 350.8,847.5 350.2,848.8C349.7,850.0 349.2,851.2 348.6,852.5C348.1,853.7 347.6,854.9 347.0,856.1C346.5,857.4 345.9,858.6 345.4,859.8C344.9,861.1 344.3,862.3 343.8,863.5C343.2,864.7 342.7,866.0 342.1,867.2C341.5,868.4 341.0,869.6 340.4,870.9C339.9,872.1 339.3,873.3 338.7,874.5C338.2,875.7 337.6,877.0 337.0,878.2C336.5,879.4 335.9,880.6 335.3,881.8C334.7,883.1 334.2,884.3 333.6,885.5C333.0,886.7 332.4,887.9 331.8,889.1C331.2,890.4 330.6,891.6 330.0,892.8C329.4,894.0 328.8,895.2 328.2,896.4C327.6,897.6 326.7,899.4 326.4,900.1" stroke="#1aacdd"/>
<path d="M278.6,960.4L218.5,996.0" stroke="#1aacdd"/>
<path d="M550.3,122.1C550.1,122.9 549.6,125.5 549.2,127.2C548.9,128.9 548.5,130.6 548.1,132.3C547.8,134.0 547.4,135.8 547.1,137.5C546.7,139.2 546.3,140.9 546.0,142.6C545.6,144.3 545.3,146.1 544.9,147.8C544.6,149.5 544.2,151.2 543.9,152.9C543.6,154.7 543.2,156.4 542.9,158.1C542.5,159.8 542.2,161.5 541.8,163.3C541.5,165.0 541.2,166.7 540.8,168.4C540.5,170.2 540.2,171.9 539.8,173.6C539.5,175.3 539.2,177.1 538.8,178.8C538.5,180.5 538.2,182.2 537.9,184.0C537.5,185.7 537.2,187.4 536.9,189.2C536.5,190.9 536.2,192.6 535.9,194.3C535.6,196.1 535.3,197.8 534.9,199.5C534.6,201.3 534.3,203.0 534.0,204.7C533.7,206.5 533.4,208.2 533.0,209.9C532.7,211.7 532.4,213.4 532.1,215.1C531.8,216.9 531.5,218.6 531.2,220.3C530.9,222.1 530.6,223.8 530.3,225.5C529.9,227.3 529.6,229.0 529.3,230.7C529.0,232.5 528.7,234.2 528.4,235.9C528.1,237.7 527.8,239.4 527.5,241.2C527.2,242.9 526.9,244.6 526.6,246.4C526.3,248.1 526.0,249.8 525.7,251.6C525.4,253.3 525.1,255.1 524.8,256.8C524.5,258.5 524.2,260.3 523.9,262.0C523.6,263.8 523.3,265.5 523.1,267.2C522.8,269.0 522.5,270.7 522.2,272.5C521.9,274.2 521.6,276.0 521.3,277.7C521.0,279.4 520.7,281.2 520.4,282.9C520.1,284.7 519.9,286.4 519.6,288.2C519.3,289.9 519.0,291.6 518.7,293.4C518.4,295.1 518.1,296.9 517.8,298.6C517.5,300.4 517.3,302.1 517.0,303.9C516.7,305.6 516.4,307.3 516.1,309.1C515.8,310.8 515.5,312.6 515.3,314.3C515.0,316.1 514.7,317.8 514.4,319.6C514.1,321.3 513.8,323.1 513.6,324.8C513.3,326.5 513.0,328.3 512.7,330.0C512.4,331.8 512.1,333.5 511.8,335.3C511.6,337.0 511.3,338.8 511.0,340.5C510.7,342.3 510.4,344.0 510.1,345.8C509.9,347.5 509.5,349.9 509.3,351.0C509.1,352.1 509.1,352.1 509.1,352.3" stroke="#08b5d0"/>
<path d="M492.9,449.2C492.8,450.1 492.3,452.7 492.0,454.5C491.7,456.2 491.4,457.9 491.1,459.7C490.8,461.4 490.5,463.2 490.2,464.9C489.9,466.7 489.6,468.4 489.3,470.1C488.9,471.9 488.6,473.6 488.3,475.4C488.0,477.1 487.7,478.8 487.4,480.6C487.1,482.3 486.7,484.1 486.4,485.8C486.1,487.5 485.8,489.3 485.5,491.0C485.1,492.8 484.8,494.5 484.5,496.2C484.2,498.0 483.8,499.7 483.5,501.4C483.2,503.2 482.9,504.9 482.5,506.7C482.2,508.4 481.9,510.1 481.5,511.9C481.2,513.6 480.9,515.3 480.5,517.1C480.2,518.8 479.9,520.5 479.5,522.3C479.2,524.0 478.8,525.7 478.5,527.5C478.2,529.2 477.8,530.9 477.5,532.7C477.1,534.4 476.8,536.1 476.4,537.9C476.1,539.6 475.7,541.3 475.4,543.1C475.0,544.8 474.7,546.5 474.3,548.2C474.0,550.0 473.6,551.7 473.2,553.4C472.9,555.2 472.5,556.9 472.2,558.6C471.8,560.3 471.4,562.1 471.1,563.8C470.7,565.5 470.3,567.2 469.9,569.0C469.6,570.7 469.2,572.4 468.8,574.1C468.4,575.9 468.1,577.6 467.7,579.3C467.3,581.0 466.9,582.8 466.5,584.5C466.2,586.2 465.8,587.9 465.4,589.6C465.0,591.4 464.6,593.1 464.2,594.8C463.8,596.5 463.4,598.2 463.0,599.9C462.6,601.7 462.2,603.4 461.8,605.1C461.4,606.8 461.0,608.5 460.6,610.2C460.2,611.9 459.8,613.7 459.4,615.4C459.0,617.1 458.6,618.8 458.1,620.5C457.7,622.2 457.3,623.9 456.9,625.6C456.5,627.3 456.0,629.1 455.6,630.8C455.2,632.5 454.7,634.2 454.3,635.9C453.9,637.6 453.4,639.3 453.0,641.0C452.6,642.7 452.1,644.4 451.7,646.1C451.2,647.8 450.8,649.5 450.3,651.2C449.9,652.9 449.4,654.6 449.0,656.3C448.5,658.0 448.1,659.7 447.6,661.4C447.2,663.1 446.7,664.8 446.2,666.5C445.8,668.2 445.3,669.9 444.8,671.6C444.3,673.3 443.9,675.0 443.4,676.7C442.9,678.4 442.4,680.0 441.9,681.7C441.5,683.4 441.0,685.1 440.5,686.8C440.0,688.5 439.5,690.2 439.0,691.9C438.5,693.5 438.0,695.2 437.5,696.9C437.0,698.6 436.5,700.3 436.0,702.0C435.5,703.6 435.0,705.3 434.4,707.0C433.9,708.7 433.4,710.4 432.9,712.0C432.4,713.7 431.8,715.4 431.3,717.1C430.8,718.7 430.2,720.4 429.7,722.1C429.2,723.8 428.6,725.4 428.1,727.1C427.5,728.8 427.0,730.5 426.4,732.1C425.9,733.8 425.3,735.5 424.8,737.1C424.2,738.8 423.6,740.5 423.1,742.1C422.5,743.8 421.9,745.4 421.4,747.1C420.8,748.8 420.2,750.4 419.6,752.1C419.0,753.7 418.5,755.4 417.9,757.1C417.3,758.7 416.7,760.4 416.1,762.0C415.5,763.7 414.9,765.3 414.3,767.0C413.7,768.6 413.1,770.3 412.5,771.9C411.8,773.6 411.2,775.2 410.6,776.9C410.0,778.5 409.4,780.2 408.7,781.8C408.1,783.5 407.5,785.1 406.8,786.8C406.2,788.4 405.5,790.0 404.9,791.7C404.3,793.3 403.6,795.0 402.9,796.6C402.3,798.2 401.6,799.9 401.0,801.5C400.3,803.1 399.6,804.8 399.0,806.4C398.3,808.0 397.6,809.6 396.9,811.3C396.3,812.9 395.6,814.5 394.9,816.2C394.2,817.8 393.5,819.4 392.8,821.0C392.1,822.6 391.4,824.3 390.7,825.9C390.0,827.5 389.3,829.1 388.6,830.7C387.8,832.4 387.1,834.0 386.4,835.6C385.7,837.2 384.9,838.8 384.2,840.4C383.5,842.0 382.7,843.6 382.0,845.2C381.2,846.9 380.5,848.5 379.7,850.1C379.0,851.7 378.2,853.3 377.5,854.9C376.7,856.5 375.9,858.1 375.2,859.7C374.4,861.3 373.6,862.9 372.8,864.5C372.0,866.1 371.2,867.8 370.5,869.2C369.8,870.6 369.3,871.6 368.7,872.8C368.1,874.0 367.5,875.2 366.9,876.4C366.3,877.6 365.6,878.8 365.0,880.0C364.4,881.1 363.8,882.3 363.2,883.5C362.6,884.7 361.7,886.3 361.3,887.1C360.9,887.9 360.8,888.1 360.7,888.3" stroke="#08b5d0"/>
<path d="M296.5,962.5L233.8,996.0" stroke="#08b5d0"/>
<path d="M600.5,122.1C600.3,122.8 599.9,124.8 599.5,126.1C599.2,127.4 598.9,128.7 598.6,130.1C598.3,131.4 598.0,132.8 597.7,134.1C597.4,135.4 597.0,136.8 596.7,138.1C596.4,139.4 596.1,140.8 595.8,142.1C595.5,143.4 595.2,144.8 594.9,146.1C594.6,147.4 594.3,148.8 594.0,150.1C593.7,151.5 593.4,152.8 593.1,154.1C592.8,155.5 592.5,156.8 592.2,158.2C591.9,159.5 591.6,160.8 591.3,162.2C591.0,163.5 590.7,164.9 590.4,166.2C590.2,167.5 589.9,168.9 589.6,170.2C589.3,171.6 589.0,172.9 588.7,174.2C588.4,175.6 588.1,176.9 587.8,178.3C587.6,179.6 587.3,181.0 587.0,182.3C586.7,183.7 586.4,185.0 586.1,186.3C585.9,187.7 585.6,189.0 585.3,190.4C585.0,191.7 584.7,193.1 584.5,194.4C584.2,195.8 583.9,197.1 583.6,198.5C583.4,199.8 583.1,201.2 582.8,202.5C582.5,203.8 582.3,205.2 582.0,206.5C581.7,207.9 581.4,209.2 581.2,210.6C580.9,211.9 580.6,213.3 580.4,214.6C580.1,216.0 579.8,217.3 579.5,218.7C579.3,220.0 579.0,221.4 578.7,222.7C578.5,224.1 578.2,225.4 577.9,226.8C577.7,228.1 577.4,229.5 577.2,230.8C576.9,232.2 576.6,233.6 576.4,234.9C576.1,236.3 575.8,237.6 575.6,239.0C575.3,240.3 575.1,241.7 574.8,243.0C574.5,244.4 574.3,245.7 574.0,247.1C573.8,248.4 573.5,249.8 573.2,251.2C573.0,252.5 572.7,253.9 572.5,255.2C572.2,256.6 572.0,257.9 571.7,259.3C571.5,260.6 571.2,262.0 570.9,263.3C570.7,264.7 570.4,266.1 570.2,267.4C569.9,268.8 569.7,270.1 569.4,271.5C569.2,272.8 568.9,274.2 568.7,275.6C568.4,276.9 568.2,278.3 567.9,279.6C567.7,281.0 567.4,282.3 567.2,283.7C566.9,285.1 566.7,286.4 566.4,287.8C566.2,289.1 565.9,290.5 565.7,291.9C565.4,293.2 565.2,294.6 564.9,295.9C564.7,297.3 564.4,298.6 564.2,300.0C563.9,301.4 563.7,302.7 563.5,304.1C563.2,305.4 563.0,306.8 562.7,308.2C562.5,309.5 562.2,310.9 562.0,312.2C561.7,313.6 561.5,315.0 561.2,316.3C561.0,317.7 560.8,319.0 560.5,320.4C560.3,321.8 560.0,323.1 559.8,324.5C559.5,325.9 559.3,327.2 559.0,328.6C558.8,329.9 558.6,331.3 558.3,332.7C558.1,334.0 557.8,335.4 557.6,336.7C557.3,338.1 557.1,339.5 556.9,340.8C556.6,342.2 556.4,343.5 556.1,344.9C555.9,346.3 555.6,347.6 555.4,349.0C555.2,350.4 554.9,351.7 554.7,353.1C554.4,354.4 554.2,355.8 553.9,357.2C553.7,358.5 553.5,359.9 553.2,361.3C553.0,362.6 552.7,364.0 552.5,365.3C552.2,366.7 552.0,368.1 551.8,369.4C551.5,370.8 551.3,372.1 551.0,373.5C550.8,374.9 550.5,376.2 550.3,377.6C550.1,379.0 549.8,380.5 549.6,381.7C549.4,382.8 549.2,384.0 549.1,384.4" stroke="#05bbc1"/>
<path d="M535.3,459.3C535.2,460.0 534.8,462.0 534.6,463.4C534.3,464.7 534.0,466.1 533.8,467.4C533.5,468.8 533.3,470.1 533.0,471.5C532.7,472.9 532.5,474.2 532.2,475.6C531.9,476.9 531.7,478.3 531.4,479.7C531.2,481.0 530.9,482.4 530.6,483.7C530.4,485.1 530.1,486.4 529.8,487.8C529.6,489.2 529.3,490.5 529.0,491.9C528.7,493.2 528.5,494.6 528.2,495.9C527.9,497.3 527.7,498.6 527.4,500.0C527.1,501.4 526.8,502.7 526.6,504.1C526.3,505.4 526.0,506.8 525.7,508.1C525.5,509.5 525.2,510.8 524.9,512.2C524.6,513.6 524.4,514.9 524.1,516.3C523.8,517.6 523.5,519.0 523.2,520.3C523.0,521.7 522.7,523.0 522.4,524.4C522.1,525.7 521.8,527.1 521.5,528.4C521.3,529.8 521.0,531.1 520.7,532.5C520.4,533.8 520.1,535.2 519.8,536.5C519.5,537.9 519.2,539.2 519.0,540.6C518.7,541.9 518.4,543.3 518.1,544.6C517.8,546.0 517.5,547.3 517.2,548.7C516.9,550.0 516.6,551.4 516.3,552.7C516.0,554.1 515.7,555.4 515.4,556.8C515.1,558.1 514.8,559.5 514.5,560.8C514.2,562.2 513.9,563.5 513.6,564.9C513.3,566.2 513.0,567.6 512.7,568.9C512.4,570.3 512.1,571.6 511.7,572.9C511.4,574.3 511.1,575.6 510.8,577.0C510.5,578.3 510.2,579.7 509.9,581.0C509.6,582.4 509.2,583.7 508.9,585.0C508.6,586.4 508.3,587.7 508.0,589.1C507.6,590.4 507.3,591.8 507.0,593.1C506.7,594.4 506.3,595.8 506.0,597.1C505.7,598.5 505.4,599.8 505.0,601.1C504.7,602.5 504.4,603.8 504.0,605.1C503.7,606.5 503.4,607.8 503.0,609.2C502.7,610.5 502.4,611.8 502.0,613.2C501.7,614.5 501.3,615.8 501.0,617.2C500.7,618.5 500.3,619.8 500.0,621.2C499.6,622.5 499.3,623.8 498.9,625.2C498.6,626.5 498.2,627.8 497.9,629.2C497.5,630.5 497.2,631.8 496.8,633.2C496.5,634.5 496.1,635.8 495.7,637.1C495.4,638.5 495.0,639.8 494.6,641.1C494.3,642.5 493.9,643.8 493.5,645.1C493.2,646.4 492.8,647.8 492.4,649.1C492.1,650.4 491.7,651.7 491.3,653.1C490.9,654.4 490.6,655.7 490.2,657.0C489.8,658.3 489.4,659.7 489.0,661.0C488.6,662.3 488.3,663.6 487.9,664.9C487.5,666.3 487.1,667.6 486.7,668.9C486.3,670.2 485.9,671.5 485.5,672.8C485.1,674.2 484.7,675.5 484.3,676.8C483.9,678.1 483.5,679.4 483.1,680.7C482.7,682.0 482.3,683.3 481.9,684.7C481.5,686.0 481.0,687.3 480.6,688.6C480.2,689.9 479.8,691.2 479.4,692.5C479.0,693.8 478.5,695.1 478.1,696.4C477.7,697.7 477.2,699.0 476.8,700.3C476.4,701.6 476.0,702.9 475.5,704.2C475.1,705.5 474.6,706.8 474.2,708.1C473.8,709.4 473.3,710.7 472.9,712.0C472.4,713.3 472.0,714.6 471.5,715.9C471.1,717.2 470.6,718.5 470.2,719.8C469.7,721.1 469.2,722.4 468.8,723.7C468.3,725.0 467.9,726.3 467.4,727.5C466.9,728.8 466.5,730.1 466.0,731.4C465.5,732.7 465.0,734.0 464.5,735.3C464.1,736.5 463.6,737.8 463.1,739.1C462.6,740.4 462.1,741.7 461.6,743.0C461.2,744.2 460.7,745.5 460.2,746.8C459.7,748.1 459.2,749.3 458.7,750.6C458.2,751.9 457.7,753.2 457.1,754.4C456.6,755.7 456.1,757.0 455.6,758.3C455.1,759.5 454.6,760.8 454.1,762.1C453.5,763.3 453.0,764.6 452.5,765.9C452.0,767.1 451.4,768.4 450.9,769.7C450.4,770.9 449.8,772.2 449.3,773.4C448.7,774.7 448.2,776.0 447.7,777.2C447.1,778.5 446.6,779.7 446.0,781.0C445.5,782.3 444.9,783.5 444.3,784.8C443.8,786.0 443.2,787.3 442.7,788.5C442.1,789.8 441.5,791.0 440.9,792.3C440.4,793.5 439.8,794.8 439.2,796.0C438.6,797.2 438.1,798.5 437.5,799.7C436.9,801.0 436.3,802.2 435.7,803.5C435.1,804.7 434.5,805.9 433.9,807.2C433.3,808.4 432.7,809.6 432.1,810.9C431.5,812.1 430.9,813.3 430.3,814.6C429.6,815.8 429.0,817.0 428.4,818.3C427.8,819.5 427.1,820.7 426.5,821.9C425.9,823.2 425.3,824.4 424.6,825.6C424.0,826.8 423.3,828.0 422.7,829.3C422.0,830.5 421.4,831.7 420.7,832.9C420.1,834.1 419.4,835.3 418.8,836.6C418.1,837.8 417.4,839.0 416.8,840.2C416.1,841.4 415.4,842.6 414.8,843.8C414.1,845.0 413.4,846.2 412.7,847.4C412.0,848.6 411.3,849.8 410.7,851.0C410.0,852.2 409.3,853.4 408.6,854.6C407.9,855.8 407.2,857.0 406.5,858.2C405.7,859.4 405.0,860.6 404.3,861.8C403.6,863.0 402.9,864.2 402.2,865.4C401.4,866.5 400.7,867.7 400.0,868.9C399.2,870.1 398.5,871.3 397.8,872.5C397.0,873.6 396.3,874.8 395.5,876.0C394.8,877.2 394.0,878.3 393.2,879.5C392.5,880.7 391.7,881.9 391.0,883.0C390.2,884.2 389.4,885.4 388.6,886.5C387.9,887.7 387.1,888.8 386.3,890.0C385.5,891.2 384.7,892.3 383.9,893.5C383.1,894.6 382.3,895.8 381.5,897.0C380.7,898.1 379.9,899.3 379.1,900.4C378.3,901.6 377.5,902.7 376.7,903.9C375.8,905.0 374.9,906.3 374.2,907.3C373.5,908.3 372.8,909.2 372.5,909.6" stroke="#05bbc1"/>
<path d="M317.5,962.5L251.1,996.0" stroke="#05bbc1"/>
<path d="M656.3,122.2C656.1,122.9 655.5,124.8 655.2,126.2C654.9,127.5 654.5,128.8 654.2,130.1C653.8,131.4 653.5,132.7 653.1,134.0C652.8,135.3 652.4,136.6 652.1,137.9C651.8,139.2 651.4,140.5 651.1,141.9C650.7,143.2 650.4,144.5 650.1,145.8C649.7,147.1 649.4,148.4 649.1,149.7C648.7,151.0 648.4,152.4 648.1,153.7C647.8,155.0 647.4,156.3 647.1,157.6C646.8,158.9 646.4,160.3 646.1,161.6C645.8,162.9 645.5,164.2 645.1,165.5C644.8,166.9 644.5,168.2 644.2,169.5C643.9,170.8 643.5,172.1 643.2,173.5C642.9,174.8 642.6,176.1 642.3,177.4C642.0,178.7 641.6,180.1 641.3,181.4C641.0,182.7 640.7,184.0 640.4,185.4C640.1,186.7 639.8,188.0 639.5,189.3C639.2,190.7 638.8,192.0 638.5,193.3C638.2,194.6 637.9,196.0 637.6,197.3C637.3,198.6 637.0,199.9 636.7,201.3C636.4,202.6 636.1,203.9 635.8,205.3C635.5,206.6 635.2,207.9 634.9,209.2C634.6,210.6 634.3,211.9 634.0,213.2C633.7,214.6 633.4,215.9 633.1,217.2C632.8,218.6 632.5,219.9 632.2,221.2C631.9,222.6 631.6,223.9 631.4,225.2C631.1,226.6 630.8,227.9 630.5,229.2C630.2,230.6 629.9,231.9 629.6,233.2C629.3,234.6 629.0,235.9 628.7,237.2C628.5,238.6 628.2,239.9 627.9,241.2C627.6,242.6 627.3,243.9 627.0,245.3C626.7,246.6 626.5,247.9 626.2,249.3C625.9,250.6 625.6,251.9 625.3,253.3C625.0,254.6 624.8,256.0 624.5,257.3C624.2,258.6 623.9,260.0 623.6,261.3C623.4,262.7 623.1,264.0 622.8,265.3C622.5,266.7 622.2,268.0 622.0,269.4C621.7,270.7 621.4,272.0 621.1,273.4C620.8,274.7 620.6,276.1 620.3,277.4C620.0,278.8 619.7,280.1 619.5,281.4C619.2,282.8 618.9,284.1 618.6,285.5C618.4,286.8 618.1,288.2 617.8,289.5C617.5,290.8 617.3,292.2 617.0,293.5C616.7,294.9 616.5,296.2 616.2,297.6C615.9,298.9 615.6,300.3 615.4,301.6C615.1,302.9 614.8,304.3 614.6,305.6C614.3,307.0 614.0,308.3 613.7,309.7C613.5,311.0 613.2,312.4 612.9,313.7C612.7,315.1 612.4,316.4 612.1,317.7C611.9,319.1 611.6,320.4 611.3,321.8C611.0,323.1 610.8,324.5 610.5,325.8C610.2,327.2 610.0,328.5 609.7,329.9C609.4,331.2 609.2,332.6 608.9,333.9C608.6,335.3 608.4,336.6 608.1,338.0C607.8,339.3 607.6,340.6 607.3,342.0C607.0,343.3 606.8,344.7 606.5,346.0C606.2,347.4 606.0,348.7 605.7,350.1C605.4,351.4 605.2,352.8 604.9,354.1C604.6,355.5 604.3,356.8 604.1,358.2C603.8,359.5 603.5,360.9 603.3,362.2C603.0,363.6 602.7,364.9 602.5,366.3C602.2,367.6 601.9,369.0 601.7,370.3C601.4,371.7 601.0,373.5 600.9,374.4C600.7,375.3 600.6,375.5 600.6,375.7" stroke="#20c1b1"/>
<path d="M580.6,472.7C580.5,473.4 580.0,475.4 579.7,476.7C579.4,478.1 579.1,479.4 578.8,480.7C578.5,482.1 578.2,483.4 577.9,484.8C577.7,486.1 577.4,487.5 577.1,488.8C576.8,490.1 576.5,491.5 576.2,492.8C575.9,494.2 575.6,495.5 575.3,496.8C575.0,498.2 574.7,499.5 574.3,500.8C574.0,502.2 573.7,503.5 573.4,504.9C573.1,506.2 572.8,507.5 572.5,508.9C572.2,510.2 571.9,511.6 571.6,512.9C571.3,514.2 571.0,515.6 570.7,516.9C570.3,518.2 570.0,519.6 569.7,520.9C569.4,522.2 569.1,523.6 568.8,524.9C568.5,526.2 568.1,527.6 567.8,528.9C567.5,530.2 567.2,531.6 566.9,532.9C566.5,534.2 566.2,535.6 565.9,536.9C565.6,538.2 565.2,539.6 564.9,540.9C564.6,542.2 564.3,543.6 563.9,544.9C563.6,546.2 563.3,547.6 562.9,548.9C562.6,550.2 562.3,551.5 561.9,552.9C561.6,554.2 561.3,555.5 560.9,556.9C560.6,558.2 560.3,559.5 559.9,560.8C559.6,562.2 559.3,563.5 558.9,564.8C558.6,566.1 558.2,567.5 557.9,568.8C557.5,570.1 557.2,571.4 556.8,572.8C556.5,574.1 556.1,575.4 555.8,576.7C555.4,578.1 555.1,579.4 554.7,580.7C554.4,582.0 554.0,583.3 553.7,584.7C553.3,586.0 553.0,587.3 552.6,588.6C552.2,589.9 551.9,591.3 551.5,592.6C551.2,593.9 550.8,595.2 550.4,596.5C550.1,597.8 549.7,599.2 549.3,600.5C549.0,601.8 548.6,603.1 548.2,604.4C547.8,605.7 547.5,607.1 547.1,608.4C546.7,609.7 546.3,611.0 546.0,612.3C545.6,613.6 545.2,614.9 544.8,616.2C544.4,617.5 544.1,618.9 543.7,620.2C543.3,621.5 542.9,622.8 542.5,624.1C542.1,625.4 541.7,626.7 541.3,628.0C540.9,629.3 540.6,630.6 540.2,631.9C539.8,633.2 539.4,634.5 539.0,635.8C538.6,637.1 538.2,638.4 537.8,639.7C537.3,641.1 536.9,642.4 536.5,643.7C536.1,645.0 535.7,646.3 535.3,647.6C534.9,648.9 534.5,650.2 534.1,651.4C533.6,652.7 533.2,654.0 532.8,655.3C532.4,656.6 532.0,657.9 531.5,659.2C531.1,660.5 530.7,661.8 530.3,663.1C529.8,664.4 529.4,665.7 529.0,667.0C528.5,668.3 528.1,669.6 527.7,670.9C527.2,672.1 526.8,673.4 526.4,674.7C525.9,676.0 525.5,677.3 525.0,678.6C524.6,679.9 524.1,681.2 523.7,682.4C523.2,683.7 522.8,685.0 522.3,686.3C521.9,687.6 521.4,688.9 521.0,690.1C520.5,691.4 520.0,692.7 519.6,694.0C519.1,695.3 518.6,696.5 518.2,697.8C517.7,699.1 517.2,700.4 516.8,701.6C516.3,702.9 515.8,704.2 515.3,705.5C514.9,706.7 514.4,708.0 513.9,709.3C513.4,710.5 512.9,711.8 512.4,713.1C512.0,714.4 511.5,715.6 511.0,716.9C510.5,718.2 510.0,719.4 509.5,720.7C509.0,722.0 508.5,723.2 508.0,724.5C507.5,725.8 507.0,727.0 506.5,728.3C506.0,729.5 505.5,730.8 505.0,732.1C504.4,733.3 503.9,734.6 503.4,735.8C502.9,737.1 502.4,738.3 501.9,739.6C501.3,740.9 500.8,742.1 500.3,743.4C499.7,744.6 499.2,745.9 498.7,747.1C498.1,748.4 497.6,749.6 497.1,750.9C496.5,752.1 496.0,753.4 495.5,754.6C494.9,755.9 494.4,757.1 493.8,758.4C493.3,759.6 492.7,760.8 492.2,762.1C491.6,763.3 491.0,764.6 490.5,765.8C489.9,767.1 489.4,768.3 488.8,769.5C488.2,770.8 487.6,772.0 487.1,773.2C486.5,774.5 485.9,775.7 485.3,776.9C484.8,778.2 484.2,779.4 483.6,780.6C483.0,781.9 482.4,783.1 481.8,784.3C481.3,785.6 480.7,786.8 480.1,788.0C479.5,789.2 478.9,790.5 478.3,791.7C477.7,792.9 477.1,794.1 476.5,795.3C475.8,796.6 475.2,797.8 474.6,799.0C474.0,800.2 473.4,801.4 472.8,802.7C472.1,803.9 471.5,805.1 470.9,806.3C470.3,807.5 469.6,808.7 469.0,809.9C468.4,811.2 467.7,812.4 467.1,813.6C466.5,814.8 465.8,816.0 465.2,817.2C464.5,818.4 463.9,819.6 463.2,820.8C462.6,822.0 461.9,823.2 461.3,824.4C460.6,825.6 459.9,826.8 459.3,828.0C458.6,829.2 457.9,830.4 457.3,831.6C456.6,832.8 455.9,834.0 455.2,835.2C454.6,836.4 453.9,837.6 453.2,838.8C452.5,839.9 451.8,841.1 451.1,842.3C450.4,843.5 449.7,844.7 449.0,845.9C448.3,847.1 447.6,848.2 446.9,849.4C446.2,850.6 445.5,851.8 444.8,853.0C444.1,854.1 443.4,855.3 442.6,856.5C441.9,857.7 441.2,858.8 440.5,860.0C439.7,861.2 439.0,862.4 438.3,863.5C437.5,864.7 436.8,865.9 436.1,867.0C435.3,868.2 434.6,869.4 433.8,870.5C433.1,871.7 432.3,872.8 431.6,874.0C430.8,875.2 430.0,876.3 429.3,877.5C428.5,878.6 427.7,879.8 427.0,881.0C426.2,882.1 425.4,883.3 424.7,884.4C423.9,885.6 423.1,886.7 422.3,887.9C421.5,889.0 420.7,890.2 419.9,891.3C419.1,892.4 418.3,893.6 417.5,894.7C416.7,895.9 415.7,897.4 415.1,898.1C414.6,898.9 414.4,899.1 414.3,899.3" stroke="#20c1b1"/>
<path d="M341.5,963.0L270.5,996.0" stroke="#20c1b1"/>
<path d="M716.2,122.4C715.9,123.1 715.3,125.1 714.9,126.4C714.5,127.7 714.1,129.1 713.7,130.4C713.3,131.8 712.9,133.1 712.5,134.5C712.1,135.8 711.7,137.1 711.3,138.5C710.9,139.8 710.5,141.2 710.1,142.5C709.7,143.9 709.3,145.2 708.9,146.6C708.5,147.9 708.1,149.3 707.7,150.6C707.3,152.0 706.9,153.3 706.5,154.7C706.2,156.0 705.8,157.4 705.4,158.7C705.0,160.1 704.6,161.4 704.2,162.8C703.9,164.1 703.5,165.5 703.1,166.8C702.7,168.2 702.3,169.6 702.0,170.9C701.6,172.3 701.2,173.6 700.9,175.0C700.5,176.4 700.1,177.7 699.7,179.1C699.4,180.5 699.0,181.8 698.6,183.2C698.3,184.5 697.9,185.9 697.5,187.3C697.2,188.6 696.8,190.0 696.5,191.4C696.1,192.7 695.7,194.1 695.4,195.5C695.0,196.8 694.7,198.2 694.3,199.6C694.0,201.0 693.6,202.3 693.3,203.7C692.9,205.1 692.5,206.4 692.2,207.8C691.8,209.2 691.5,210.6 691.2,211.9C690.8,213.3 690.5,214.7 690.1,216.1C689.8,217.4 689.4,218.8 689.1,220.2C688.7,221.6 688.4,223.0 688.1,224.3C687.7,225.7 687.4,227.1 687.0,228.5C686.7,229.9 686.4,231.2 686.0,232.6C685.7,234.0 685.3,235.4 685.0,236.8C684.7,238.2 684.3,239.5 684.0,240.9C683.7,242.3 683.3,243.7 683.0,245.1C682.7,246.5 682.3,247.8 682.0,249.2C681.7,250.6 681.4,252.0 681.0,253.4C680.7,254.8 680.4,256.2 680.1,257.6C679.7,258.9 679.4,260.3 679.1,261.7C678.8,263.1 678.4,264.5 678.1,265.9C677.8,267.3 677.5,268.7 677.1,270.1C676.8,271.5 676.5,272.9 676.2,274.2C675.9,275.6 675.5,277.0 675.2,278.4C674.9,279.8 674.6,281.2 674.3,282.6C673.9,284.0 673.6,285.4 673.3,286.8C673.0,288.2 672.7,289.6 672.4,291.0C672.0,292.4 671.7,293.8 671.4,295.2C671.1,296.6 670.8,298.0 670.5,299.4C670.2,300.8 669.8,302.2 669.5,303.6C669.2,304.9 668.9,306.3 668.6,307.7C668.3,309.1 668.0,310.5 667.7,311.9C667.4,313.3 667.0,314.7 666.7,316.1C666.4,317.5 666.1,318.9 665.8,320.3C665.5,321.7 665.2,323.1 664.9,324.5C664.6,325.9 664.3,327.4 664.0,328.8C663.6,330.2 663.3,331.6 663.0,333.0C662.7,334.4 662.4,335.8 662.1,337.2C661.8,338.6 661.5,340.0 661.2,341.4C660.9,342.8 660.6,344.2 660.3,345.6C660.0,347.0 659.6,348.4 659.3,349.8C659.0,351.2 658.7,352.6 658.4,354.0C658.1,355.4 657.8,356.8 657.5,358.2C657.2,359.6 656.9,361.0 656.6,362.4C656.3,363.8 656.0,365.2 655.7,366.6C655.4,368.1 655.0,369.5 654.7,370.9C654.4,372.3 654.1,373.7 653.8,375.1C653.5,376.5 653.2,377.9 652.9,379.3C652.6,380.7 652.3,382.1 652.0,383.5C651.7,384.9 651.4,386.3 651.1,387.7C650.7,389.1 650.4,390.5 650.1,391.9C649.8,393.3 649.5,394.8 649.2,396.2C648.9,397.6 648.6,399.0 648.3,400.4C648.0,401.8 647.7,403.2 647.3,404.6C647.0,406.0 646.6,407.9 646.4,408.8C646.2,409.7 646.2,410.0 646.1,410.2" stroke="#31c69f"/>
<path d="M629.0,484.5C628.9,485.2 628.4,487.3 628.0,488.7C627.7,490.1 627.4,491.5 627.0,492.9C626.7,494.3 626.3,495.7 626.0,497.1C625.7,498.5 625.3,499.9 625.0,501.3C624.6,502.6 624.3,504.0 623.9,505.4C623.6,506.8 623.2,508.2 622.9,509.6C622.5,511.0 622.2,512.4 621.8,513.8C621.5,515.2 621.1,516.6 620.8,518.0C620.4,519.3 620.1,520.7 619.7,522.1C619.4,523.5 619.0,524.9 618.7,526.3C618.3,527.7 617.9,529.1 617.6,530.5C617.2,531.8 616.8,533.2 616.5,534.6C616.1,536.0 615.8,537.4 615.4,538.8C615.0,540.2 614.7,541.5 614.3,542.9C613.9,544.3 613.5,545.7 613.2,547.1C612.8,548.5 612.4,549.8 612.1,551.2C611.7,552.6 611.3,554.0 610.9,555.4C610.5,556.7 610.2,558.1 609.8,559.5C609.4,560.9 609.0,562.2 608.6,563.6C608.2,565.0 607.9,566.4 607.5,567.8C607.1,569.1 606.7,570.5 606.3,571.9C605.9,573.3 605.5,574.6 605.1,576.0C604.7,577.4 604.3,578.7 603.9,580.1C603.5,581.5 603.1,582.9 602.7,584.2C602.3,585.6 601.9,587.0 601.5,588.3C601.1,589.7 600.7,591.1 600.3,592.4C599.9,593.8 599.5,595.2 599.1,596.5C598.7,597.9 598.2,599.3 597.8,600.6C597.4,602.0 597.0,603.3 596.6,604.7C596.1,606.1 595.7,607.4 595.3,608.8C594.9,610.2 594.5,611.5 594.0,612.9C593.6,614.2 593.2,615.6 592.7,616.9C592.3,618.3 591.9,619.7 591.4,621.0C591.0,622.4 590.6,623.7 590.1,625.1C589.7,626.4 589.2,627.8 588.8,629.1C588.3,630.5 587.9,631.8 587.4,633.2C587.0,634.5 586.5,635.9 586.1,637.2C585.6,638.6 585.2,639.9 584.7,641.3C584.3,642.6 583.8,643.9 583.3,645.3C582.9,646.6 582.4,648.0 582.0,649.3C581.5,650.6 581.0,652.0 580.5,653.3C580.1,654.7 579.6,656.0 579.1,657.3C578.6,658.7 578.2,660.0 577.7,661.3C577.2,662.7 576.7,664.0 576.2,665.3C575.8,666.7 575.3,668.0 574.8,669.3C574.3,670.7 573.8,672.0 573.3,673.3C572.8,674.7 572.3,676.0 571.8,677.3C571.3,678.6 570.8,680.0 570.3,681.3C569.8,682.6 569.3,683.9 568.8,685.2C568.3,686.6 567.7,687.9 567.2,689.2C566.7,690.5 566.2,691.8 565.7,693.2C565.1,694.5 564.6,695.8 564.1,697.1C563.6,698.4 563.0,699.7 562.5,701.0C562.0,702.3 561.4,703.7 560.9,705.0C560.4,706.3 559.8,707.6 559.3,708.9C558.7,710.2 558.2,711.5 557.6,712.8C557.1,714.1 556.5,715.4 556.0,716.7C555.4,718.0 554.9,719.3 554.3,720.6C553.7,721.9 553.2,723.2 552.6,724.5C552.1,725.8 551.5,727.1 550.9,728.4C550.3,729.7 549.8,731.0 549.2,732.2C548.6,733.5 548.0,734.8 547.4,736.1C546.9,737.4 546.3,738.7 545.7,740.0C545.1,741.3 544.5,742.5 543.9,743.8C543.3,745.1 542.7,746.4 542.1,747.7C541.5,748.9 540.9,750.2 540.3,751.5C539.7,752.8 539.1,754.0 538.4,755.3C537.8,756.6 537.2,757.9 536.6,759.1C536.0,760.4 535.3,761.7 534.7,762.9C534.1,764.2 533.5,765.5 532.8,766.7C532.2,768.0 531.6,769.2 530.9,770.5C530.3,771.8 529.6,773.0 529.0,774.3C528.3,775.5 527.7,776.8 527.0,778.1C526.4,779.3 525.7,780.6 525.0,781.8C524.4,783.1 523.7,784.3 523.1,785.6C522.4,786.8 521.7,788.1 521.0,789.3C520.4,790.5 519.7,791.8 519.0,793.0C518.3,794.3 517.6,795.5 516.9,796.7C516.3,798.0 515.6,799.2 514.9,800.5C514.2,801.7 513.5,802.9 512.8,804.2C512.1,805.4 511.3,806.6 510.6,807.8C509.9,809.1 509.2,810.3 508.5,811.5C507.8,812.7 507.1,814.0 506.3,815.2C505.6,816.4 504.9,817.6 504.1,818.8C503.4,820.1 502.7,821.3 501.9,822.5C501.2,823.7 500.4,824.9 499.7,826.1C498.9,827.3 498.2,828.5 497.4,829.7C496.7,831.0 495.9,832.2 495.2,833.4C494.4,834.6 493.6,835.8 492.8,837.0C492.1,838.2 491.3,839.4 490.5,840.6C489.7,841.8 489.0,842.9 488.2,844.1C487.4,845.3 486.6,846.5 485.8,847.7C485.0,848.9 484.2,850.1 483.4,851.3C482.6,852.4 481.8,853.6 481.0,854.8C480.2,856.0 479.3,857.2 478.5,858.3C477.7,859.5 476.9,860.7 476.1,861.9C475.2,863.0 474.4,864.2 473.6,865.4C472.7,866.5 471.9,867.7 471.0,868.9C470.2,870.0 469.3,871.2 468.5,872.4C467.6,873.5 466.8,874.7 465.9,875.8C465.0,877.0 464.2,878.2 463.3,879.3C462.4,880.5 461.6,881.6 460.7,882.8C459.8,883.9 458.9,885.0 458.0,886.2C457.1,887.3 456.3,888.5 455.4,889.6C454.5,890.8 453.6,891.9 452.7,893.0C451.7,894.2 450.8,895.3 449.9,896.4C449.0,897.6 448.1,898.7 447.2,899.8C446.2,900.9 445.3,902.1 444.4,903.2C443.4,904.3 442.5,905.4 441.6,906.6C440.6,907.7 439.7,908.8 438.7,909.9C437.8,911.0 436.8,912.1 435.9,913.2C434.9,914.3 433.8,915.6 433.0,916.6C432.2,917.5 431.3,918.4 431.0,918.8" stroke="#31c69f"/>
<path d="M369.0,965.5L291.4,996.0" stroke="#31c69f"/>
<path d="M780.6,121.8C780.4,122.5 779.9,124.5 779.5,125.9C779.1,127.3 778.7,128.6 778.3,130.0C778.0,131.3 777.6,132.7 777.2,134.1C776.8,135.4 776.5,136.8 776.1,138.1C775.7,139.5 775.3,140.9 775.0,142.2C774.6,143.6 774.2,144.9 773.9,146.3C773.5,147.7 773.1,149.0 772.7,150.4C772.4,151.8 772.0,153.1 771.6,154.5C771.3,155.9 770.9,157.2 770.5,158.6C770.2,160.0 769.8,161.3 769.4,162.7C769.1,164.1 768.7,165.4 768.4,166.8C768.0,168.2 767.6,169.5 767.3,170.9C766.9,172.3 766.5,173.6 766.2,175.0C765.8,176.4 765.5,177.7 765.1,179.1C764.7,180.5 764.4,181.8 764.0,183.2C763.7,184.6 763.3,185.9 763.0,187.3C762.6,188.7 762.2,190.1 761.9,191.4C761.5,192.8 761.2,194.2 760.8,195.5C760.5,196.9 760.1,198.3 759.8,199.7C759.4,201.0 759.0,202.4 758.7,203.8C758.3,205.1 758.0,206.5 757.6,207.9C757.3,209.3 756.9,210.6 756.6,212.0C756.2,213.4 755.9,214.8 755.5,216.1C755.2,217.5 754.8,218.9 754.5,220.3C754.1,221.6 753.8,223.0 753.4,224.4C753.1,225.8 752.7,227.1 752.4,228.5C752.0,229.9 751.7,231.3 751.3,232.6C751.0,234.0 750.6,235.4 750.3,236.8C749.9,238.2 749.6,239.5 749.3,240.9C748.9,242.3 748.6,243.7 748.2,245.0C747.9,246.4 747.5,247.8 747.2,249.2C746.8,250.5 746.5,251.9 746.1,253.3C745.8,254.7 745.4,256.1 745.1,257.4C744.8,258.8 744.4,260.2 744.1,261.6C743.7,263.0 743.4,264.3 743.0,265.7C742.7,267.1 742.3,268.5 742.0,269.9C741.7,271.2 741.3,272.6 741.0,274.0C740.6,275.4 740.3,276.8 739.9,278.1C739.6,279.5 739.3,280.9 738.9,282.3C738.6,283.7 738.2,285.0 737.9,286.4C737.5,287.8 737.2,289.2 736.8,290.6C736.5,291.9 736.2,293.3 735.8,294.7C735.5,296.1 735.1,297.5 734.8,298.8C734.4,300.2 734.1,301.6 733.8,303.0C733.4,304.4 733.1,305.8 732.7,307.1C732.4,308.5 732.0,309.9 731.7,311.3C731.3,312.7 731.0,314.0 730.7,315.4C730.3,316.8 730.0,318.2 729.6,319.6C729.3,321.0 728.9,322.3 728.6,323.7C728.2,325.1 727.9,326.5 727.6,327.9C727.2,329.2 726.9,330.6 726.5,332.0C726.2,333.4 725.8,334.8 725.5,336.2C725.1,337.5 724.8,338.9 724.4,340.3C724.1,341.7 723.8,343.1 723.4,344.5C723.1,345.8 722.7,347.2 722.4,348.6C722.0,350.0 721.7,351.4 721.3,352.7C721.0,354.1 720.6,355.5 720.3,356.9C719.9,358.3 719.6,359.7 719.2,361.0C718.9,362.4 718.5,363.8 718.2,365.2C717.8,366.6 717.5,367.9 717.1,369.3C716.8,370.7 716.4,372.1 716.1,373.5C715.7,374.9 715.4,376.2 715.0,377.6C714.7,379.0 714.3,380.4 713.9,381.8C713.6,383.1 713.2,384.5 712.9,385.9C712.5,387.3 712.2,388.7 711.8,390.0C711.5,391.4 711.1,392.8 710.8,394.2C710.4,395.6 710.0,397.0 709.7,398.3C709.3,399.7 708.8,401.6 708.6,402.5C708.4,403.4 708.3,403.6 708.2,403.9" stroke="#43ca8b"/>
<path d="M682.2,498.8C682.0,499.5 681.4,501.5 681.0,502.9C680.6,504.2 680.2,505.6 679.8,507.0C679.4,508.3 679.0,509.7 678.6,511.1C678.2,512.5 677.8,513.8 677.4,515.2C677.0,516.6 676.6,517.9 676.2,519.3C675.8,520.7 675.3,522.0 674.9,523.4C674.5,524.7 674.1,526.1 673.7,527.5C673.3,528.8 672.9,530.2 672.4,531.6C672.0,532.9 671.6,534.3 671.2,535.7C670.8,537.0 670.3,538.4 669.9,539.7C669.5,541.1 669.1,542.5 668.7,543.8C668.2,545.2 667.8,546.6 667.4,547.9C666.9,549.3 666.5,550.6 666.1,552.0C665.7,553.4 665.2,554.7 664.8,556.1C664.4,557.4 663.9,558.8 663.5,560.1C663.0,561.5 662.6,562.9 662.2,564.2C661.7,565.6 661.3,566.9 660.9,568.3C660.4,569.6 660.0,571.0 659.5,572.3C659.1,573.7 658.6,575.1 658.2,576.4C657.7,577.8 657.3,579.1 656.8,580.5C656.4,581.8 655.9,583.2 655.5,584.5C655.0,585.9 654.6,587.2 654.1,588.6C653.6,589.9 653.2,591.3 652.7,592.6C652.3,594.0 651.8,595.3 651.3,596.7C650.9,598.0 650.4,599.4 649.9,600.7C649.5,602.1 649.0,603.4 648.5,604.7C648.1,606.1 647.6,607.4 647.1,608.8C646.6,610.1 646.2,611.5 645.7,612.8C645.2,614.2 644.7,615.5 644.3,616.8C643.8,618.2 643.3,619.5 642.8,620.9C642.3,622.2 641.8,623.5 641.3,624.9C640.9,626.2 640.4,627.5 639.9,628.9C639.4,630.2 638.9,631.6 638.4,632.9C637.9,634.2 637.4,635.6 636.9,636.9C636.4,638.2 635.9,639.5 635.4,640.9C634.9,642.2 634.4,643.5 633.9,644.9C633.3,646.2 632.8,647.5 632.3,648.9C631.8,650.2 631.3,651.5 630.8,652.8C630.3,654.2 629.7,655.5 629.2,656.8C628.7,658.1 628.2,659.4 627.7,660.8C627.1,662.1 626.6,663.4 626.1,664.7C625.5,666.0 625.0,667.4 624.5,668.7C623.9,670.0 623.4,671.3 622.9,672.6C622.3,673.9 621.8,675.3 621.2,676.6C620.7,677.9 620.2,679.2 619.6,680.5C619.1,681.8 618.5,683.1 618.0,684.4C617.4,685.7 616.8,687.0 616.3,688.4C615.7,689.7 615.2,691.0 614.6,692.3C614.0,693.6 613.5,694.9 612.9,696.2C612.3,697.5 611.8,698.8 611.2,700.1C610.6,701.4 610.1,702.7 609.5,704.0C608.9,705.3 608.3,706.6 607.7,707.8C607.2,709.1 606.6,710.4 606.0,711.7C605.4,713.0 604.8,714.3 604.2,715.6C603.6,716.9 603.0,718.2 602.4,719.5C601.8,720.7 601.2,722.0 600.6,723.3C600.0,724.6 599.4,725.9 598.8,727.1C598.2,728.4 597.6,729.7 597.0,731.0C596.4,732.3 595.8,733.5 595.1,734.8C594.5,736.1 593.9,737.4 593.3,738.6C592.7,739.9 592.0,741.2 591.4,742.4C590.8,743.7 590.1,745.0 589.5,746.2C588.9,747.5 588.2,748.8 587.6,750.0C586.9,751.3 586.3,752.6 585.7,753.8C585.0,755.1 584.4,756.3 583.7,757.6C583.1,758.8 582.4,760.1 581.7,761.4C581.1,762.6 580.4,763.9 579.8,765.1C579.1,766.4 578.4,767.6 577.8,768.9C577.1,770.1 576.4,771.3 575.7,772.6C575.1,773.8 574.4,775.1 573.7,776.3C573.0,777.6 572.3,778.8 571.6,780.0C571.0,781.3 570.3,782.5 569.6,783.7C568.9,785.0 568.2,786.2 567.5,787.4C566.8,788.7 566.1,789.9 565.4,791.1C564.7,792.3 563.9,793.6 563.2,794.8C562.5,796.0 561.8,797.2 561.1,798.4C560.4,799.7 559.6,800.9 558.9,802.1C558.2,803.3 557.5,804.5 556.7,805.7C556.0,806.9 555.3,808.2 554.5,809.4C553.8,810.6 553.0,811.8 552.3,813.0C551.5,814.2 550.8,815.4 550.0,816.6C549.3,817.8 548.5,819.0 547.8,820.2C547.0,821.4 546.2,822.6 545.5,823.8C544.7,824.9 543.9,826.1 543.2,827.3C542.4,828.5 541.6,829.7 540.8,830.9C540.0,832.1 539.3,833.3 538.5,834.4C537.7,835.6 536.9,836.8 536.1,838.0C535.3,839.1 534.5,840.3 533.7,841.5C532.9,842.7 532.1,843.8 531.3,845.0C530.5,846.2 529.7,847.3 528.8,848.5C528.0,849.7 527.2,850.8 526.4,852.0C525.6,853.1 524.7,854.3 523.9,855.4C523.1,856.6 522.2,857.7 521.4,858.9C520.6,860.0 519.7,861.2 518.9,862.3C518.0,863.5 517.2,864.6 516.3,865.8C515.5,866.9 514.6,868.1 513.7,869.2C512.9,870.3 512.0,871.5 511.1,872.6C510.3,873.7 509.4,874.9 508.5,876.0C507.7,877.1 506.8,878.2 505.9,879.4C505.0,880.5 504.1,881.6 503.2,882.7C502.3,883.8 501.4,885.0 500.5,886.1C499.6,887.2 498.7,888.3 497.8,889.4C496.9,890.5 496.0,891.6 495.1,892.7C494.2,893.8 493.2,894.9 492.3,896.0C491.4,897.1 490.5,898.2 489.5,899.3C488.6,900.4 487.7,901.5 486.7,902.6C485.8,903.7 484.8,904.8 483.9,905.8C482.9,906.9 481.6,908.4 481.0,909.1C480.4,909.8 480.2,910.0 480.1,910.2" stroke="#43ca8b"/>
<path d="M399.9,965.5L318.8,996.0" stroke="#43ca8b"/>
<path d="M854.9,121.6C854.7,122.3 854.0,124.4 853.5,125.8C853.0,127.3 852.6,128.7 852.1,130.1C851.6,131.5 851.1,132.9 850.7,134.3C850.2,135.7 849.8,137.2 849.3,138.6C848.8,140.0 848.4,141.4 847.9,142.8C847.5,144.2 847.0,145.6 846.5,147.1C846.1,148.5 845.6,149.9 845.2,151.3C844.7,152.7 844.3,154.2 843.8,155.6C843.4,157.0 842.9,158.4 842.5,159.8C842.0,161.2 841.6,162.7 841.2,164.1C840.7,165.5 840.3,166.9 839.8,168.3C839.4,169.8 839.0,171.2 838.5,172.6C838.1,174.0 837.6,175.4 837.2,176.9C836.8,178.3 836.3,179.7 835.9,181.1C835.5,182.6 835.1,184.0 834.6,185.4C834.2,186.8 833.8,188.2 833.3,189.7C832.9,191.1 832.5,192.5 832.1,193.9C831.6,195.4 831.2,196.8 830.8,198.2C830.4,199.6 830.0,201.1 829.5,202.5C829.1,203.9 828.7,205.3 828.3,206.8C827.9,208.2 827.5,209.6 827.0,211.0C826.6,212.5 826.2,213.9 825.8,215.3C825.4,216.7 825.0,218.2 824.6,219.6C824.1,221.0 823.7,222.5 823.3,223.9C822.9,225.3 822.5,226.7 822.1,228.2C821.7,229.6 821.3,231.0 820.9,232.4C820.5,233.9 820.1,235.3 819.7,236.7C819.3,238.2 818.9,239.6 818.5,241.0C818.0,242.4 817.6,243.9 817.2,245.3C816.8,246.7 816.4,248.2 816.0,249.6C815.6,251.0 815.2,252.5 814.8,253.9C814.4,255.3 814.0,256.7 813.6,258.2C813.3,259.6 812.9,261.0 812.5,262.5C812.1,263.9 811.7,265.3 811.3,266.8C810.9,268.2 810.5,269.6 810.1,271.1C809.7,272.5 809.3,273.9 808.9,275.4C808.5,276.8 808.1,278.2 807.7,279.7C807.3,281.1 806.9,282.5 806.5,284.0C806.1,285.4 805.8,286.8 805.4,288.2C805.0,289.7 804.6,291.1 804.2,292.5C803.8,294.0 803.4,295.4 803.0,296.8C802.6,298.3 802.2,299.7 801.8,301.1C801.4,302.6 801.1,304.0 800.7,305.4C800.3,306.9 799.9,308.3 799.5,309.7C799.1,311.2 798.7,312.6 798.3,314.0C797.9,315.5 797.5,316.9 797.1,318.4C796.8,319.8 796.4,321.2 796.0,322.7C795.6,324.1 795.2,325.5 794.8,327.0C794.4,328.4 794.0,329.8 793.6,331.3C793.2,332.7 792.8,334.1 792.5,335.6C792.1,337.0 791.7,338.4 791.3,339.9C790.9,341.3 790.5,342.7 790.1,344.2C789.7,345.6 789.3,347.0 788.9,348.5C788.5,349.9 788.1,351.3 787.7,352.8C787.3,354.2 787.0,355.6 786.6,357.1C786.2,358.5 785.8,359.9 785.4,361.4C785.0,362.8 784.6,364.2 784.2,365.7C783.8,367.1 783.4,368.6 783.0,370.0C782.6,371.4 782.2,372.9 781.8,374.3C781.4,375.7 781.0,377.2 780.6,378.6C780.2,380.0 779.8,381.5 779.4,382.9C779.0,384.3 778.6,385.8 778.2,387.2C777.8,388.6 777.4,390.1 777.0,391.5C776.6,392.9 776.2,394.4 775.8,395.8C775.4,397.2 775.0,398.7 774.6,400.1C774.1,401.5 773.7,403.0 773.3,404.4C772.9,405.8 772.5,407.3 772.1,408.7C771.7,410.1 771.3,411.6 770.9,413.0C770.5,414.4 770.0,415.9 769.6,417.3C769.2,418.7 768.8,420.2 768.4,421.6C768.0,423.0 767.6,424.4 767.1,425.9C766.7,427.3 766.3,428.7 765.9,430.2C765.5,431.6 765.0,433.0 764.6,434.5C764.2,435.9 763.6,437.8 763.4,438.8C763.1,439.7 763.0,439.9 762.9,440.2" stroke="#5fcd73"/>
<path d="M740.4,512.9C740.1,513.6 739.4,515.7 739.0,517.1C738.5,518.5 738.0,519.9 737.6,521.4C737.1,522.8 736.6,524.2 736.1,525.6C735.7,527.0 735.2,528.4 734.7,529.9C734.2,531.3 733.8,532.7 733.3,534.1C732.8,535.5 732.3,536.9 731.8,538.3C731.4,539.8 730.9,541.2 730.4,542.6C729.9,544.0 729.4,545.4 728.9,546.8C728.4,548.2 728.0,549.6 727.5,551.0C727.0,552.4 726.5,553.9 726.0,555.3C725.5,556.7 725.0,558.1 724.5,559.5C724.0,560.9 723.5,562.3 723.0,563.7C722.5,565.1 722.0,566.5 721.5,567.9C721.0,569.3 720.5,570.7 720.0,572.1C719.5,573.5 719.0,574.9 718.4,576.3C717.9,577.7 717.4,579.1 716.9,580.5C716.4,581.9 715.9,583.3 715.3,584.7C714.8,586.1 714.3,587.5 713.8,588.9C713.3,590.3 712.7,591.7 712.2,593.1C711.7,594.5 711.2,595.9 710.6,597.3C710.1,598.7 709.6,600.1 709.0,601.5C708.5,602.9 708.0,604.3 707.4,605.7C706.9,607.1 706.3,608.5 705.8,609.9C705.3,611.3 704.7,612.6 704.2,614.0C703.6,615.4 703.1,616.8 702.5,618.2C702.0,619.6 701.4,621.0 700.9,622.4C700.3,623.8 699.8,625.1 699.2,626.5C698.7,627.9 698.1,629.3 697.5,630.7C697.0,632.1 696.4,633.4 695.8,634.8C695.3,636.2 694.7,637.6 694.1,639.0C693.6,640.3 693.0,641.7 692.4,643.1C691.8,644.5 691.3,645.9 690.7,647.2C690.1,648.6 689.5,650.0 688.9,651.4C688.4,652.7 687.8,654.1 687.2,655.5C686.6,656.9 686.0,658.2 685.4,659.6C684.8,661.0 684.2,662.3 683.6,663.7C683.0,665.1 682.4,666.4 681.8,667.8C681.2,669.2 680.6,670.6 680.0,671.9C679.4,673.3 678.8,674.6 678.2,676.0C677.6,677.4 677.0,678.7 676.4,680.1C675.7,681.5 675.1,682.8 674.5,684.2C673.9,685.5 673.3,686.9 672.6,688.2C672.0,689.6 671.4,691.0 670.7,692.3C670.1,693.7 669.5,695.0 668.8,696.4C668.2,697.7 667.6,699.1 666.9,700.4C666.3,701.8 665.6,703.1 665.0,704.4C664.3,705.8 663.7,707.1 663.0,708.5C662.4,709.8 661.7,711.1 661.1,712.5C660.4,713.8 659.8,715.2 659.1,716.5C658.4,717.8 657.8,719.2 657.1,720.5C656.4,721.8 655.7,723.2 655.1,724.5C654.4,725.8 653.7,727.1 653.0,728.5C652.3,729.8 651.7,731.1 651.0,732.4C650.3,733.8 649.6,735.1 648.9,736.4C648.2,737.7 647.5,739.0 646.8,740.3C646.1,741.7 645.4,743.0 644.7,744.3C644.0,745.6 643.3,746.9 642.6,748.2C641.9,749.5 641.1,750.8 640.4,752.1C639.7,753.4 639.0,754.7 638.2,756.0C637.5,757.3 636.8,758.6 636.1,759.9C635.3,761.2 634.6,762.5 633.8,763.8C633.1,765.1 632.4,766.3 631.6,767.6C630.9,768.9 630.1,770.2 629.4,771.5C628.6,772.7 627.9,774.0 627.1,775.3C626.3,776.6 625.6,777.8 624.8,779.1C624.0,780.4 623.3,781.7 622.5,782.9C621.7,784.2 620.9,785.4 620.2,786.7C619.4,788.0 618.6,789.2 617.8,790.5C617.0,791.7 616.2,793.0 615.4,794.2C614.6,795.5 613.8,796.7 613.0,798.0C612.2,799.2 611.4,800.5 610.6,801.7C609.8,802.9 609.0,804.2 608.1,805.4C607.3,806.6 606.5,807.9 605.7,809.1C604.8,810.3 604.0,811.6 603.2,812.8C602.3,814.0 601.5,815.2 600.6,816.4C599.8,817.7 599.0,818.9 598.1,820.1C597.3,821.3 596.4,822.5 595.5,823.7C594.7,824.9 593.8,826.1 592.9,827.3C592.1,828.5 591.2,829.7 590.3,830.9C589.5,832.1 588.6,833.3 587.7,834.5C586.8,835.7 585.9,836.8 585.0,838.0C584.1,839.2 583.2,840.4 582.3,841.6C581.4,842.7 580.5,843.9 579.6,845.1C578.7,846.2 577.8,847.4 576.9,848.6C575.9,849.7 575.0,850.9 574.1,852.0C573.2,853.2 572.2,854.3 571.3,855.5C570.4,856.6 569.4,857.8 568.5,858.9C567.5,860.1 566.6,861.2 565.6,862.3C564.7,863.5 563.7,864.6 562.7,865.7C561.8,866.8 560.8,868.0 559.8,869.1C558.9,870.2 557.9,871.3 556.9,872.4C555.9,873.5 554.9,874.7 553.9,875.8C552.9,876.9 551.9,878.0 550.9,879.1C549.9,880.2 548.9,881.2 547.9,882.3C546.9,883.4 545.9,884.5 544.9,885.6C543.8,886.7 542.8,887.8 541.8,888.8C540.8,889.9 539.7,891.0 538.7,892.0C537.6,893.1 536.6,894.2 535.5,895.2C534.5,896.3 533.4,897.3 532.4,898.4C531.3,899.4 530.2,900.5 529.2,901.5C528.1,902.6 527.0,903.6 525.9,904.6C524.9,905.7 523.8,906.7 522.7,907.7C521.6,908.7 520.5,909.8 519.4,910.8C518.3,911.8 517.2,912.8 516.1,913.8C515.0,914.8 513.8,915.8 512.7,916.8C511.6,917.8 510.5,918.8 509.3,919.8C508.2,920.8 507.0,921.8 505.9,922.8C504.8,923.8 503.2,925.1 502.5,925.7C501.7,926.4 501.5,926.5 501.3,926.7" stroke="#5fcd73"/>
<path d="M435.1,964.6L349.2,996.0" stroke="#5fcd73"/>
<path d="M936.9,122.3C936.7,122.9 936.0,125.0 935.5,126.4C935.0,127.8 934.5,129.2 934.1,130.6C933.6,132.0 933.1,133.4 932.6,134.8C932.2,136.2 931.7,137.6 931.2,138.9C930.8,140.3 930.3,141.7 929.8,143.1C929.4,144.5 928.9,145.9 928.4,147.3C928.0,148.7 927.5,150.1 927.0,151.5C926.6,152.9 926.1,154.3 925.6,155.7C925.2,157.1 924.7,158.5 924.2,159.9C923.8,161.3 923.3,162.7 922.9,164.1C922.4,165.5 921.9,166.9 921.5,168.3C921.0,169.7 920.6,171.1 920.1,172.5C919.6,173.9 919.2,175.3 918.7,176.7C918.3,178.1 917.8,179.5 917.4,181.0C916.9,182.4 916.5,183.8 916.0,185.2C915.5,186.6 915.1,188.0 914.6,189.4C914.2,190.8 913.7,192.2 913.3,193.6C912.8,195.0 912.4,196.4 911.9,197.8C911.5,199.3 911.0,200.7 910.6,202.1C910.1,203.5 909.7,204.9 909.2,206.3C908.8,207.7 908.3,209.1 907.9,210.5C907.4,212.0 907.0,213.4 906.5,214.8C906.1,216.2 905.6,217.6 905.2,219.0C904.7,220.4 904.3,221.9 903.8,223.3C903.4,224.7 902.9,226.1 902.5,227.5C902.0,228.9 901.6,230.3 901.1,231.8C900.7,233.2 900.3,234.6 899.8,236.0C899.4,237.4 898.9,238.9 898.5,240.3C898.0,241.7 897.6,243.1 897.1,244.5C896.7,245.9 896.2,247.4 895.8,248.8C895.4,250.2 894.9,251.6 894.5,253.0C894.0,254.5 893.6,255.9 893.1,257.3C892.7,258.7 892.2,260.1 891.8,261.6C891.4,263.0 890.9,264.4 890.5,265.8C890.0,267.2 889.6,268.7 889.1,270.1C888.7,271.5 888.3,272.9 887.8,274.4C887.4,275.8 886.9,277.2 886.5,278.6C886.0,280.0 885.6,281.5 885.2,282.9C884.7,284.3 884.3,285.7 883.8,287.2C883.4,288.6 882.9,290.0 882.5,291.4C882.0,292.8 881.6,294.3 881.2,295.7C880.7,297.1 880.3,298.5 879.8,300.0C879.4,301.4 878.9,302.8 878.5,304.2C878.1,305.7 877.6,307.1 877.2,308.5C876.7,309.9 876.3,311.4 875.8,312.8C875.4,314.2 874.9,315.6 874.5,317.1C874.1,318.5 873.6,319.9 873.2,321.3C872.7,322.8 872.3,324.2 871.8,325.6C871.4,327.0 870.9,328.5 870.5,329.9C870.0,331.3 869.6,332.7 869.1,334.2C868.7,335.6 868.3,337.0 867.8,338.4C867.4,339.9 866.9,341.3 866.5,342.7C866.0,344.1 865.6,345.6 865.1,347.0C864.7,348.4 864.2,349.8 863.8,351.3C863.3,352.7 862.9,354.1 862.4,355.5C862.0,357.0 861.5,358.4 861.1,359.8C860.6,361.2 860.2,362.7 859.7,364.1C859.2,365.5 858.8,366.9 858.3,368.4C857.9,369.8 857.4,371.2 857.0,372.6C856.5,374.1 856.1,375.5 855.6,376.9C855.2,378.3 854.7,379.8 854.2,381.2C853.8,382.6 853.3,384.0 852.9,385.4C852.4,386.9 852.0,388.3 851.5,389.7C851.0,391.1 850.6,392.6 850.1,394.0C849.7,395.4 849.2,396.8 848.7,398.3C848.3,399.7 847.8,401.1 847.3,402.5C846.9,403.9 846.4,405.4 846.0,406.8C845.5,408.2 845.0,409.6 844.6,411.0C844.1,412.5 843.6,413.9 843.2,415.3C842.7,416.7 842.2,418.2 841.8,419.6C841.3,421.0 840.8,422.4 840.3,423.8C839.9,425.3 839.4,426.7 838.9,428.1C838.5,429.5 838.0,430.9 837.5,432.3C837.0,433.8 836.4,435.7 836.1,436.6C835.8,437.5 835.7,437.8 835.6,438.0" stroke="#81cc59"/>
<path d="M803.2,529.5C802.9,530.2 802.1,532.3 801.6,533.7C801.0,535.1 800.5,536.5 800.0,537.9C799.4,539.3 798.9,540.7 798.4,542.1C797.8,543.5 797.3,544.9 796.8,546.2C796.2,547.6 795.7,549.0 795.2,550.4C794.6,551.8 794.1,553.2 793.5,554.6C793.0,556.0 792.4,557.4 791.9,558.7C791.3,560.1 790.8,561.5 790.2,562.9C789.7,564.3 789.1,565.7 788.6,567.1C788.0,568.4 787.5,569.8 786.9,571.2C786.4,572.6 785.8,574.0 785.3,575.3C784.7,576.7 784.1,578.1 783.6,579.5C783.0,580.9 782.4,582.2 781.9,583.6C781.3,585.0 780.7,586.4 780.2,587.7C779.6,589.1 779.0,590.5 778.4,591.9C777.9,593.2 777.3,594.6 776.7,596.0C776.1,597.4 775.6,598.7 775.0,600.1C774.4,601.5 773.8,602.8 773.2,604.2C772.7,605.6 772.1,606.9 771.5,608.3C770.9,609.7 770.3,611.0 769.7,612.4C769.1,613.8 768.5,615.1 767.9,616.5C767.3,617.9 766.7,619.2 766.1,620.6C765.5,621.9 764.9,623.3 764.3,624.7C763.7,626.0 763.1,627.4 762.5,628.7C761.9,630.1 761.3,631.4 760.7,632.8C760.1,634.2 759.5,635.5 758.8,636.9C758.2,638.2 757.6,639.6 757.0,640.9C756.4,642.3 755.7,643.6 755.1,645.0C754.5,646.3 753.9,647.7 753.2,649.0C752.6,650.4 752.0,651.7 751.4,653.1C750.7,654.4 750.1,655.7 749.5,657.1C748.8,658.4 748.2,659.8 747.5,661.1C746.9,662.4 746.3,663.8 745.6,665.1C745.0,666.5 744.3,667.8 743.7,669.1C743.0,670.5 742.4,671.8 741.7,673.1C741.1,674.5 740.4,675.8 739.7,677.1C739.1,678.5 738.4,679.8 737.8,681.1C737.1,682.4 736.4,683.8 735.8,685.1C735.1,686.4 734.4,687.7 733.7,689.1C733.1,690.4 732.4,691.7 731.7,693.0C731.0,694.3 730.3,695.7 729.7,697.0C729.0,698.3 728.3,699.6 727.6,700.9C726.9,702.2 726.2,703.6 725.5,704.9C724.8,706.2 724.1,707.5 723.4,708.8C722.7,710.1 722.0,711.4 721.3,712.7C720.6,714.0 719.9,715.3 719.2,716.6C718.5,717.9 717.8,719.2 717.0,720.5C716.3,721.8 715.6,723.1 714.9,724.4C714.2,725.7 713.4,727.0 712.7,728.3C712.0,729.5 711.2,730.8 710.5,732.1C709.8,733.4 709.0,734.7 708.3,736.0C707.6,737.2 706.8,738.5 706.1,739.8C705.3,741.1 704.6,742.4 703.8,743.6C703.1,744.9 702.3,746.2 701.5,747.4C700.8,748.7 700.0,750.0 699.2,751.2C698.5,752.5 697.7,753.8 696.9,755.0C696.2,756.3 695.4,757.5 694.6,758.8C693.8,760.1 693.0,761.3 692.3,762.6C691.5,763.8 690.7,765.1 689.9,766.3C689.1,767.6 688.3,768.8 687.5,770.0C686.7,771.3 685.9,772.5 685.1,773.8C684.3,775.0 683.5,776.2 682.6,777.5C681.8,778.7 681.0,779.9 680.2,781.2C679.4,782.4 678.5,783.6 677.7,784.8C676.9,786.1 676.1,787.3 675.2,788.5C674.4,789.7 673.5,790.9 672.7,792.1C671.9,793.4 671.0,794.6 670.2,795.8C669.3,797.0 668.4,798.2 667.6,799.4C666.7,800.6 665.9,801.8 665.0,803.0C664.1,804.2 663.3,805.4 662.4,806.6C661.5,807.8 660.6,809.0 659.7,810.1C658.9,811.3 658.0,812.5 657.1,813.7C656.2,814.9 655.3,816.1 654.4,817.2C653.5,818.4 652.6,819.6 651.7,820.7C650.8,821.9 649.9,823.1 649.0,824.2C648.0,825.4 647.1,826.6 646.2,827.7C645.3,828.9 644.3,830.0 643.4,831.2C642.5,832.3 641.5,833.5 640.6,834.6C639.7,835.8 638.7,836.9 637.8,838.1C636.8,839.2 635.9,840.3 634.9,841.5C633.9,842.6 633.0,843.7 632.0,844.8C631.1,846.0 630.1,847.1 629.1,848.2C628.1,849.3 627.1,850.4 626.2,851.6C625.2,852.7 624.2,853.8 623.2,854.9C622.2,856.0 621.2,857.1 620.2,858.2C619.2,859.3 618.2,860.4 617.2,861.5C616.2,862.6 615.1,863.7 614.1,864.8C613.1,865.8 612.1,866.9 611.0,868.0C610.0,869.1 609.0,870.2 607.9,871.2C606.9,872.3 605.8,873.4 604.8,874.4C603.7,875.5 602.7,876.6 601.6,877.6C600.6,878.7 599.5,879.7 598.4,880.8C597.4,881.8 596.3,882.9 595.2,883.9C594.1,885.0 593.0,886.0 592.0,887.0C590.9,888.1 589.8,889.1 588.7,890.1C587.6,891.2 586.5,892.2 585.4,893.2C584.2,894.2 583.1,895.2 582.0,896.2C580.9,897.3 579.8,898.3 578.6,899.3C577.5,900.3 576.4,901.3 575.2,902.3C574.1,903.3 572.9,904.3 571.8,905.3C570.6,906.2 569.5,907.2 568.3,908.2C567.1,909.2 566.0,910.2 564.8,911.1C563.6,912.1 562.3,913.2 561.3,914.0C560.3,914.8 559.3,915.6 558.9,916.0" stroke="#81cc59"/>
<path d="M475.4,964.6L385.0,996.0" stroke="#81cc59"/>
<path d="M1026.6,122.7C1026.3,123.4 1025.5,125.6 1025.0,127.1C1024.4,128.6 1023.9,130.1 1023.3,131.5C1022.8,133.0 1022.3,134.5 1021.7,136.0C1021.2,137.5 1020.7,138.9 1020.1,140.4C1019.6,141.9 1019.0,143.4 1018.5,144.9C1018.0,146.4 1017.4,147.9 1016.9,149.3C1016.4,150.8 1015.8,152.3 1015.3,153.8C1014.8,155.3 1014.3,156.8 1013.7,158.3C1013.2,159.8 1012.7,161.3 1012.1,162.7C1011.6,164.2 1011.1,165.7 1010.5,167.2C1010.0,168.7 1009.5,170.2 1009.0,171.7C1008.4,173.2 1007.9,174.7 1007.4,176.2C1006.8,177.7 1006.3,179.2 1005.8,180.7C1005.3,182.2 1004.7,183.7 1004.2,185.2C1003.7,186.7 1003.2,188.2 1002.6,189.7C1002.1,191.2 1001.6,192.7 1001.1,194.2C1000.5,195.7 1000.0,197.2 999.5,198.7C999.0,200.2 998.4,201.7 997.9,203.2C997.4,204.7 996.9,206.2 996.4,207.7C995.8,209.2 995.3,210.7 994.8,212.2C994.3,213.7 993.7,215.2 993.2,216.7C992.7,218.2 992.2,219.7 991.7,221.3C991.1,222.8 990.6,224.3 990.1,225.8C989.6,227.3 989.1,228.8 988.5,230.3C988.0,231.8 987.5,233.3 987.0,234.8C986.4,236.4 985.9,237.9 985.4,239.4C984.9,240.9 984.4,242.4 983.8,243.9C983.3,245.4 982.8,246.9 982.3,248.5C981.8,250.0 981.2,251.5 980.7,253.0C980.2,254.5 979.7,256.0 979.2,257.5C978.6,259.1 978.1,260.6 977.6,262.1C977.1,263.6 976.6,265.1 976.0,266.6C975.5,268.1 975.0,269.7 974.5,271.2C973.9,272.7 973.4,274.2 972.9,275.7C972.4,277.3 971.9,278.8 971.3,280.3C970.8,281.8 970.3,283.3 969.8,284.8C969.2,286.4 968.7,287.9 968.2,289.4C967.7,290.9 967.2,292.4 966.6,294.0C966.1,295.5 965.6,297.0 965.1,298.5C964.5,300.0 964.0,301.6 963.5,303.1C963.0,304.6 962.4,306.1 961.9,307.6C961.4,309.2 960.9,310.7 960.3,312.2C959.8,313.7 959.3,315.2 958.7,316.8C958.2,318.3 957.7,319.8 957.2,321.3C956.6,322.8 956.1,324.4 955.6,325.9C955.0,327.4 954.5,328.9 954.0,330.4C953.5,332.0 952.9,333.5 952.4,335.0C951.9,336.5 951.3,338.1 950.8,339.6C950.3,341.1 949.7,342.6 949.2,344.1C948.7,345.7 948.1,347.2 947.6,348.7C947.1,350.2 946.5,351.7 946.0,353.3C945.5,354.8 944.9,356.3 944.4,357.8C943.8,359.3 943.3,360.9 942.8,362.4C942.2,363.9 941.7,365.4 941.2,367.0C940.6,368.5 940.1,370.0 939.5,371.5C939.0,373.0 938.5,374.6 937.9,376.1C937.4,377.6 936.8,379.1 936.3,380.6C935.7,382.1 935.2,383.7 934.6,385.2C934.1,386.7 933.5,388.2 933.0,389.7C932.5,391.3 931.9,392.8 931.4,394.3C930.8,395.8 930.3,397.3 929.7,398.8C929.2,400.4 928.6,401.9 928.0,403.4C927.5,404.9 926.9,406.4 926.4,408.0C925.8,409.5 925.3,411.0 924.7,412.5C924.2,414.0 923.6,415.5 923.0,417.0C922.5,418.6 921.9,420.1 921.4,421.6C920.8,423.1 920.2,424.6 919.7,426.1C919.1,427.6 918.5,429.2 918.0,430.7C917.4,432.2 916.9,433.7 916.3,435.2C915.7,436.7 915.1,438.2 914.6,439.7C914.0,441.2 913.4,442.8 912.9,444.3C912.3,445.8 911.7,447.3 911.1,448.8C910.6,450.3 910.0,451.8 909.4,453.3C908.8,454.8 908.3,456.3 907.7,457.8C907.1,459.4 906.5,460.9 905.9,462.4C905.4,463.9 904.8,465.4 904.2,466.9C903.6,468.4 903.0,469.9 902.4,471.4C901.8,472.9 901.3,474.4 900.7,475.9C900.1,477.4 899.5,478.9 898.9,480.4C898.3,481.9 897.7,483.4 897.1,484.9C896.5,486.4 895.9,487.9 895.3,489.4C894.7,490.9 894.1,492.4 893.5,493.9C892.9,495.4 892.3,496.9 891.7,498.4C891.1,499.9 890.2,502.1 889.9,502.9" stroke="#a2c83f"/>
<path d="M872.5,544.5C872.1,545.2 871.2,547.4 870.5,548.9C869.9,550.4 869.3,551.9 868.6,553.3C868.0,554.8 867.3,556.3 866.7,557.8C866.0,559.2 865.4,560.7 864.7,562.2C864.1,563.7 863.4,565.1 862.8,566.6C862.1,568.1 861.4,569.5 860.8,571.0C860.1,572.5 859.5,573.9 858.8,575.4C858.1,576.9 857.5,578.3 856.8,579.8C856.1,581.2 855.5,582.7 854.8,584.2C854.1,585.6 853.4,587.1 852.8,588.5C852.1,590.0 851.4,591.5 850.7,592.9C850.0,594.4 849.4,595.8 848.7,597.3C848.0,598.7 847.3,600.2 846.6,601.6C845.9,603.1 845.2,604.5 844.5,606.0C843.8,607.4 843.1,608.9 842.4,610.3C841.7,611.8 841.0,613.2 840.3,614.6C839.6,616.1 838.9,617.5 838.2,619.0C837.5,620.4 836.8,621.9 836.1,623.3C835.4,624.7 834.7,626.2 834.0,627.6C833.2,629.0 832.5,630.5 831.8,631.9C831.1,633.3 830.4,634.8 829.6,636.2C828.9,637.6 828.2,639.1 827.5,640.5C826.7,641.9 826.0,643.3 825.3,644.8C824.5,646.2 823.8,647.6 823.1,649.0C822.3,650.5 821.6,651.9 820.8,653.3C820.1,654.7 819.3,656.1 818.6,657.6C817.8,659.0 817.1,660.4 816.3,661.8C815.6,663.2 814.8,664.6 814.1,666.0C813.3,667.4 812.5,668.9 811.8,670.3C811.0,671.7 810.2,673.1 809.5,674.5C808.7,675.9 807.9,677.3 807.2,678.7C806.4,680.1 805.6,681.5 804.8,682.9C804.0,684.3 803.3,685.7 802.5,687.1C801.7,688.5 800.9,689.9 800.1,691.3C799.3,692.6 798.5,694.0 797.7,695.4C796.9,696.8 796.1,698.2 795.3,699.6C794.5,701.0 793.7,702.4 792.9,703.7C792.1,705.1 791.3,706.5 790.5,707.9C789.7,709.3 788.9,710.6 788.0,712.0C787.2,713.4 786.4,714.8 785.6,716.1C784.8,717.5 783.9,718.9 783.1,720.2C782.3,721.6 781.4,723.0 780.6,724.3C779.8,725.7 778.9,727.1 778.1,728.4C777.2,729.8 776.4,731.1 775.6,732.5C774.7,733.9 773.9,735.2 773.0,736.6C772.1,737.9 771.3,739.3 770.4,740.6C769.6,742.0 768.7,743.3 767.8,744.7C767.0,746.0 766.1,747.4 765.2,748.7C764.4,750.0 763.5,751.4 762.6,752.7C761.7,754.1 760.9,755.4 760.0,756.7C759.1,758.1 758.2,759.4 757.3,760.7C756.4,762.0 755.5,763.4 754.6,764.7C753.7,766.0 752.8,767.3 751.9,768.7C751.0,770.0 750.1,771.3 749.2,772.6C748.3,773.9 747.4,775.2 746.4,776.5C745.5,777.8 744.6,779.1 743.7,780.4C742.7,781.7 741.8,783.0 740.9,784.3C739.9,785.6 739.0,786.9 738.1,788.2C737.1,789.5 736.2,790.8 735.2,792.1C734.3,793.4 733.3,794.6 732.3,795.9C731.4,797.2 730.4,798.5 729.5,799.7C728.5,801.0 727.5,802.3 726.5,803.5C725.6,804.8 724.6,806.1 723.6,807.3C722.6,808.6 721.6,809.8 720.6,811.1C719.7,812.3 718.7,813.6 717.7,814.8C716.7,816.0 715.7,817.3 714.6,818.5C713.6,819.8 712.6,821.0 711.6,822.2C710.6,823.4 709.6,824.7 708.5,825.9C707.5,827.1 706.5,828.3 705.4,829.5C704.4,830.7 703.4,831.9 702.3,833.1C701.3,834.3 700.2,835.5 699.1,836.7C698.1,837.9 697.0,839.1 696.0,840.3C694.9,841.4 693.8,842.6 692.8,843.8C691.7,845.0 690.6,846.1 689.5,847.3C688.4,848.5 687.3,849.6 686.2,850.8C685.1,851.9 684.0,853.1 682.9,854.2C681.8,855.4 680.7,856.5 679.6,857.6C678.5,858.8 677.4,859.9 676.2,861.0C675.1,862.1 674.0,863.3 672.8,864.4C671.7,865.5 670.6,866.6 669.4,867.7C668.3,868.8 667.1,869.9 665.9,871.0C664.8,872.1 663.6,873.2 662.4,874.2C661.3,875.3 660.1,876.4 658.9,877.5C657.7,878.5 656.5,879.6 655.3,880.7C654.2,881.7 653.0,882.8 651.8,883.8C650.5,884.9 649.3,885.9 648.1,886.9C646.9,888.0 645.7,889.0 644.4,890.0C643.2,891.0 642.0,892.0 640.7,893.1C639.5,894.1 638.3,895.1 637.0,896.1C635.7,897.1 634.5,898.1 633.2,899.0C632.0,900.0 630.7,901.0 629.4,902.0C628.1,902.9 626.8,903.9 625.6,904.9C624.3,905.8 623.0,906.8 621.7,907.7C620.4,908.7 619.0,909.6 617.7,910.5C616.4,911.5 615.1,912.4 613.8,913.3C612.4,914.2 611.1,915.1 609.8,916.0C608.4,916.9 607.1,917.8 605.7,918.7C604.4,919.6 603.0,920.5 601.6,921.4C600.3,922.2 598.9,923.1 597.5,924.0C596.1,924.8 594.7,925.7 593.3,926.5C591.9,927.4 590.5,928.2 589.1,929.0C587.7,929.9 586.3,930.7 584.9,931.5C583.4,932.3 582.0,933.1 580.6,933.9C579.1,934.7 577.7,935.5 576.2,936.3C574.8,937.1 573.3,937.9 571.8,938.6C570.4,939.4 568.4,940.4 567.4,940.9C566.4,941.4 566.2,941.5 565.9,941.6" stroke="#a2c83f"/>
<path d="M522.4,962.2L428.1,996.0" stroke="#a2c83f"/>
<path d="M1127.5,121.7C1127.3,122.4 1126.6,124.7 1126.1,126.2C1125.6,127.7 1125.1,129.2 1124.6,130.6C1124.2,132.1 1123.7,133.6 1123.2,135.1C1122.7,136.6 1122.2,138.1 1121.7,139.6C1121.2,141.1 1120.7,142.5 1120.2,144.0C1119.7,145.5 1119.2,147.0 1118.7,148.5C1118.2,150.0 1117.7,151.5 1117.2,152.9C1116.7,154.4 1116.1,155.9 1115.6,157.4C1115.1,158.9 1114.6,160.3 1114.1,161.8C1113.6,163.3 1113.0,164.8 1112.5,166.2C1112.0,167.7 1111.5,169.2 1110.9,170.7C1110.4,172.2 1109.9,173.6 1109.3,175.1C1108.8,176.6 1108.3,178.1 1107.7,179.5C1107.2,181.0 1106.6,182.5 1106.1,183.9C1105.6,185.4 1105.0,186.9 1104.5,188.4C1103.9,189.8 1103.4,191.3 1102.8,192.8C1102.3,194.2 1101.7,195.7 1101.2,197.2C1100.6,198.6 1100.1,200.1 1099.5,201.6C1099.0,203.0 1098.4,204.5 1097.8,206.0C1097.3,207.4 1096.7,208.9 1096.1,210.4C1095.6,211.8 1095.0,213.3 1094.5,214.8C1093.9,216.2 1093.3,217.7 1092.7,219.1C1092.2,220.6 1091.6,222.1 1091.0,223.5C1090.5,225.0 1089.9,226.4 1089.3,227.9C1088.7,229.4 1088.1,230.8 1087.6,232.3C1087.0,233.7 1086.4,235.2 1085.8,236.7C1085.2,238.1 1084.7,239.6 1084.1,241.0C1083.5,242.5 1082.9,243.9 1082.3,245.4C1081.7,246.9 1081.1,248.3 1080.6,249.8C1080.0,251.2 1079.4,252.7 1078.8,254.1C1078.2,255.6 1077.6,257.0 1077.0,258.5C1076.4,259.9 1075.8,261.4 1075.2,262.9C1074.6,264.3 1074.0,265.8 1073.4,267.2C1072.8,268.7 1072.2,270.1 1071.6,271.6C1071.0,273.0 1070.4,274.5 1069.8,275.9C1069.2,277.4 1068.6,278.8 1068.0,280.3C1067.4,281.7 1066.8,283.2 1066.2,284.6C1065.6,286.1 1065.0,287.5 1064.4,289.0C1063.8,290.4 1063.2,291.9 1062.6,293.3C1062.0,294.8 1061.4,296.2 1060.8,297.7C1060.1,299.1 1059.5,300.6 1058.9,302.0C1058.3,303.5 1057.7,304.9 1057.1,306.3C1056.5,307.8 1055.9,309.2 1055.3,310.7C1054.7,312.1 1054.0,313.6 1053.4,315.0C1052.8,316.5 1052.2,317.9 1051.6,319.4C1051.0,320.8 1050.4,322.3 1049.8,323.7C1049.1,325.1 1048.5,326.6 1047.9,328.0C1047.3,329.5 1046.7,330.9 1046.1,332.4C1045.5,333.8 1044.9,335.3 1044.2,336.7C1043.6,338.2 1043.0,339.6 1042.4,341.0C1041.8,342.5 1041.2,343.9 1040.6,345.4C1040.0,346.8 1039.3,348.3 1038.7,349.7C1038.1,351.2 1037.5,352.6 1036.9,354.1C1036.3,355.5 1035.7,356.9 1035.1,358.4C1034.4,359.8 1033.8,361.3 1033.2,362.7C1032.6,364.2 1032.0,365.6 1031.4,367.1C1030.8,368.5 1030.2,369.9 1029.6,371.4C1029.0,372.8 1028.3,374.3 1027.7,375.7C1027.1,377.2 1026.5,378.6 1025.9,380.1C1025.3,381.5 1024.7,382.9 1024.1,384.4C1023.5,385.8 1022.9,387.3 1022.3,388.7C1021.7,390.2 1021.1,391.6 1020.5,393.1C1019.9,394.5 1019.3,396.0 1018.7,397.4C1018.0,398.9 1017.4,400.3 1016.8,401.7C1016.2,403.2 1015.6,404.6 1015.0,406.1C1014.4,407.5 1013.8,409.0 1013.2,410.4C1012.6,411.9 1012.0,413.3 1011.4,414.8C1010.8,416.2 1010.2,417.6 1009.6,419.1C1009.0,420.5 1008.4,422.0 1007.8,423.4C1007.2,424.9 1006.6,426.3 1006.0,427.8C1005.4,429.2 1004.8,430.6 1004.2,432.1C1003.6,433.5 1003.0,435.0 1002.4,436.4C1001.8,437.9 1001.2,439.3 1000.6,440.7C1000.0,442.2 999.4,443.6 998.8,445.1C998.2,446.5 997.6,448.0 997.0,449.4C996.3,450.8 995.7,452.3 995.1,453.7C994.5,455.2 993.9,456.6 993.3,458.0C992.7,459.5 992.1,460.9 991.5,462.3C990.8,463.8 990.2,465.2 989.6,466.7C989.0,468.1 988.3,469.8 987.8,471.0C987.2,472.2 986.7,473.4 986.5,473.8" stroke="#c1c32c"/>
<path d="M946.2,562.1C945.9,562.8 944.9,564.9 944.2,566.4C943.5,567.8 942.8,569.2 942.1,570.6C941.5,572.0 940.8,573.4 940.1,574.9C939.4,576.3 938.7,577.7 938.0,579.1C937.3,580.5 936.6,581.9 935.9,583.3C935.2,584.7 934.5,586.2 933.9,587.6C933.2,589.0 932.5,590.4 931.8,591.8C931.1,593.2 930.4,594.6 929.7,596.0C929.0,597.4 928.2,598.9 927.5,600.3C926.8,601.7 926.1,603.1 925.4,604.5C924.7,605.9 924.0,607.3 923.3,608.7C922.6,610.1 921.8,611.5 921.1,612.9C920.4,614.3 919.7,615.7 919.0,617.1C918.3,618.5 917.5,619.9 916.8,621.3C916.1,622.7 915.3,624.1 914.6,625.5C913.9,626.9 913.2,628.3 912.4,629.7C911.7,631.1 911.0,632.5 910.2,633.9C909.5,635.3 908.7,636.7 908.0,638.1C907.3,639.5 906.5,640.9 905.8,642.3C905.0,643.6 904.3,645.0 903.5,646.4C902.8,647.8 902.0,649.2 901.3,650.6C900.5,652.0 899.7,653.3 899.0,654.7C898.2,656.1 897.5,657.5 896.7,658.9C895.9,660.2 895.2,661.6 894.4,663.0C893.6,664.4 892.8,665.7 892.1,667.1C891.3,668.5 890.5,669.8 889.7,671.2C889.0,672.6 888.2,673.9 887.4,675.3C886.6,676.7 885.8,678.0 885.0,679.4C884.2,680.8 883.4,682.1 882.6,683.5C881.8,684.8 881.0,686.2 880.2,687.5C879.4,688.9 878.6,690.3 877.8,691.6C877.0,693.0 876.2,694.3 875.4,695.6C874.6,697.0 873.8,698.3 872.9,699.7C872.1,701.0 871.3,702.4 870.5,703.7C869.7,705.0 868.8,706.4 868.0,707.7C867.2,709.0 866.3,710.4 865.5,711.7C864.7,713.0 863.8,714.3 863.0,715.7C862.1,717.0 861.3,718.3 860.4,719.6C859.6,721.0 858.7,722.3 857.9,723.6C857.0,724.9 856.2,726.2 855.3,727.5C854.4,728.8 853.6,730.1 852.7,731.4C851.8,732.7 851.0,734.0 850.1,735.3C849.2,736.6 848.3,737.9 847.5,739.2C846.6,740.5 845.7,741.8 844.8,743.1C843.9,744.4 843.0,745.7 842.1,747.0C841.2,748.2 840.3,749.5 839.4,750.8C838.5,752.1 837.6,753.4 836.7,754.6C835.8,755.9 834.9,757.2 834.0,758.4C833.1,759.7 832.1,761.0 831.2,762.2C830.3,763.5 829.4,764.7 828.4,766.0C827.5,767.2 826.6,768.5 825.6,769.7C824.7,771.0 823.8,772.2 822.8,773.5C821.9,774.7 820.9,776.0 820.0,777.2C819.0,778.4 818.0,779.7 817.1,780.9C816.1,782.1 815.2,783.3 814.2,784.6C813.2,785.8 812.2,787.0 811.3,788.2C810.3,789.4 809.3,790.6 808.3,791.8C807.3,793.0 806.4,794.3 805.4,795.5C804.4,796.7 803.4,797.9 802.4,799.0C801.4,800.2 800.4,801.4 799.4,802.6C798.3,803.8 797.3,805.0 796.3,806.2C795.3,807.3 794.3,808.5 793.2,809.7C792.2,810.9 791.2,812.0 790.1,813.2C789.1,814.3 788.1,815.5 787.0,816.7C786.0,817.8 784.9,819.0 783.9,820.1C782.8,821.3 781.8,822.4 780.7,823.6C779.6,824.7 778.6,825.8 777.5,827.0C776.4,828.1 775.4,829.2 774.3,830.3C773.2,831.5 772.1,832.6 771.0,833.7C769.9,834.8 768.9,835.9 767.8,837.0C766.7,838.1 765.6,839.2 764.4,840.3C763.3,841.4 762.2,842.5 761.1,843.6C760.0,844.7 758.9,845.8 757.7,846.9C756.6,848.0 755.5,849.0 754.3,850.1C753.2,851.2 752.1,852.2 750.9,853.3C749.8,854.4 748.6,855.4 747.5,856.5C746.3,857.5 745.2,858.6 744.0,859.6C742.8,860.7 741.7,861.7 740.5,862.7C739.3,863.8 738.1,864.8 736.9,865.8C735.8,866.9 734.6,867.9 733.4,868.9C732.2,869.9 731.0,870.9 729.8,871.9C728.6,872.9 727.3,873.9 726.1,874.9C724.9,875.9 723.7,876.9 722.5,877.9C721.2,878.9 720.0,879.9 718.8,880.9C717.5,881.8 716.3,882.8 715.0,883.8C713.8,884.7 712.5,885.7 711.3,886.6C710.0,887.6 708.8,888.6 707.5,889.5C706.2,890.4 704.9,891.4 703.7,892.3C702.4,893.3 701.1,894.2 699.8,895.1C698.5,896.0 697.2,897.0 695.9,897.9C694.6,898.8 693.3,899.7 692.0,900.6C690.7,901.5 689.4,902.4 688.0,903.3C686.7,904.2 685.4,905.1 684.0,905.9C682.7,906.8 681.4,907.7 680.0,908.6C678.7,909.4 677.3,910.3 675.9,911.1C674.6,912.0 673.2,912.9 671.8,913.7C670.5,914.6 669.1,915.4 667.7,916.2C666.3,917.1 664.5,918.2 663.5,918.7C662.6,919.3 662.4,919.4 662.1,919.5" stroke="#c1c32c"/>
<path d="M576.8,962.2L473.6,996.0" stroke="#c1c32c"/>
<path d="M1239.9,121.6C1239.7,122.4 1238.9,124.7 1238.3,126.3C1237.8,127.9 1237.2,129.4 1236.7,131.0C1236.1,132.5 1235.5,134.1 1235.0,135.6C1234.4,137.2 1233.8,138.7 1233.3,140.3C1232.7,141.8 1232.1,143.3 1231.5,144.9C1230.9,146.4 1230.4,148.0 1229.8,149.5C1229.2,151.0 1228.6,152.6 1228.0,154.1C1227.4,155.6 1226.8,157.2 1226.1,158.7C1225.5,160.2 1224.9,161.8 1224.3,163.3C1223.7,164.8 1223.1,166.3 1222.4,167.9C1221.8,169.4 1221.2,170.9 1220.6,172.4C1219.9,173.9 1219.3,175.5 1218.6,177.0C1218.0,178.5 1217.4,180.0 1216.7,181.5C1216.1,183.0 1215.4,184.5 1214.8,186.1C1214.1,187.6 1213.5,189.1 1212.8,190.6C1212.1,192.1 1211.5,193.6 1210.8,195.1C1210.2,196.6 1209.5,198.1 1208.8,199.6C1208.2,201.1 1207.5,202.6 1206.8,204.1C1206.1,205.6 1205.5,207.1 1204.8,208.6C1204.1,210.1 1203.4,211.6 1202.7,213.1C1202.1,214.6 1201.4,216.1 1200.7,217.6C1200.0,219.1 1199.3,220.6 1198.6,222.1C1197.9,223.6 1197.3,225.1 1196.6,226.6C1195.9,228.1 1195.2,229.6 1194.5,231.1C1193.8,232.6 1193.1,234.1 1192.4,235.6C1191.7,237.0 1191.0,238.5 1190.3,240.0C1189.6,241.5 1188.9,243.0 1188.2,244.5C1187.5,246.0 1186.8,247.5 1186.1,249.0C1185.4,250.5 1184.7,251.9 1184.0,253.4C1183.3,254.9 1182.6,256.4 1181.9,257.9C1181.2,259.4 1180.5,260.9 1179.8,262.4C1179.1,263.9 1178.4,265.4 1177.7,266.8C1177.0,268.3 1176.3,269.8 1175.6,271.3C1174.9,272.8 1174.2,274.3 1173.4,275.8C1172.7,277.3 1172.0,278.8 1171.3,280.2C1170.6,281.7 1169.9,283.2 1169.2,284.7C1168.5,286.2 1167.8,287.7 1167.1,289.2C1166.4,290.7 1165.7,292.2 1165.1,293.7C1164.4,295.2 1163.7,296.7 1163.0,298.2C1162.3,299.6 1161.6,301.1 1160.9,302.6C1160.2,304.1 1159.5,305.6 1158.8,307.1C1158.1,308.6 1157.5,310.1 1156.8,311.6C1156.1,313.1 1155.4,314.6 1154.7,316.1C1154.0,317.6 1153.3,319.1 1152.7,320.6C1152.0,322.1 1151.3,323.6 1150.6,325.1C1149.9,326.6 1149.3,328.1 1148.6,329.6C1147.9,331.1 1147.2,332.6 1146.6,334.1C1145.9,335.6 1145.2,337.1 1144.5,338.6C1143.9,340.1 1143.2,341.6 1142.5,343.1C1141.9,344.6 1141.2,346.2 1140.5,347.7C1139.8,349.2 1139.2,350.7 1138.5,352.2C1137.8,353.7 1137.2,355.2 1136.5,356.7C1135.8,358.2 1135.2,359.7 1134.5,361.2C1133.8,362.7 1133.2,364.2 1132.5,365.7C1131.8,367.2 1131.2,368.7 1130.5,370.2C1129.9,371.8 1129.2,373.3 1128.5,374.8C1127.9,376.3 1127.2,377.8 1126.5,379.3C1125.9,380.8 1125.2,382.3 1124.6,383.8C1123.9,385.3 1123.2,386.8 1122.6,388.3C1121.9,389.8 1121.3,391.4 1120.6,392.9C1119.9,394.4 1119.3,395.9 1118.6,397.4C1118.0,398.9 1117.3,400.4 1116.6,401.9C1116.0,403.4 1115.3,404.9 1114.7,406.4C1114.0,407.9 1113.3,409.4 1112.7,411.0C1112.0,412.5 1111.4,414.0 1110.7,415.5C1110.0,417.0 1109.4,418.5 1108.7,420.0C1108.0,421.5 1107.4,423.0 1106.7,424.5C1106.0,426.0 1105.4,427.5 1104.7,429.0C1104.0,430.5 1103.4,432.0 1102.7,433.5C1102.0,435.0 1101.4,436.5 1100.7,438.0C1100.0,439.5 1099.3,441.0 1098.6,442.5C1098.0,444.0 1097.3,445.5 1096.6,447.0C1095.9,448.5 1095.2,450.0 1094.5,451.5C1093.8,453.0 1093.2,454.4 1092.5,455.9C1091.8,457.4 1091.1,458.9 1090.4,460.4C1089.7,461.9 1089.0,463.4 1088.3,464.9C1087.6,466.3 1086.9,467.8 1086.1,469.3C1085.4,470.8 1084.7,472.3 1084.0,473.7C1083.3,475.2 1082.6,476.7 1081.8,478.2C1081.1,479.6 1080.4,481.1 1079.7,482.6C1078.9,484.1 1078.2,485.5 1077.5,487.0C1076.7,488.5 1076.0,489.9 1075.2,491.4C1074.5,492.9 1073.8,494.3 1073.0,495.8C1072.3,497.3 1071.5,498.7 1070.8,500.2C1070.0,501.7 1069.3,503.1 1068.5,504.6C1067.7,506.0 1066.7,508.0 1066.2,508.9C1065.7,509.9 1065.6,510.2 1065.5,510.4" stroke="#dcbd29"/>
<path d="M1029.6,577.1C1029.2,577.8 1028.1,580.0 1027.3,581.5C1026.5,582.9 1025.7,584.4 1024.9,585.8C1024.1,587.2 1023.3,588.7 1022.6,590.1C1021.8,591.6 1021.0,593.0 1020.2,594.5C1019.4,595.9 1018.6,597.4 1017.8,598.8C1017.0,600.3 1016.2,601.7 1015.4,603.1C1014.6,604.6 1013.9,606.0 1013.1,607.5C1012.3,608.9 1011.5,610.4 1010.7,611.8C1009.9,613.2 1009.1,614.7 1008.3,616.1C1007.4,617.6 1006.6,619.0 1005.8,620.4C1005.0,621.9 1004.2,623.3 1003.4,624.7C1002.6,626.2 1001.8,627.6 1001.0,629.0C1000.1,630.5 999.3,631.9 998.5,633.3C997.7,634.7 996.9,636.2 996.0,637.6C995.2,639.0 994.4,640.4 993.6,641.9C992.7,643.3 991.9,644.7 991.0,646.1C990.2,647.5 989.4,649.0 988.5,650.4C987.7,651.8 986.8,653.2 986.0,654.6C985.1,656.0 984.3,657.4 983.4,658.8C982.6,660.2 981.7,661.6 980.9,663.1C980.0,664.5 979.1,665.9 978.3,667.3C977.4,668.7 976.5,670.0 975.6,671.4C974.8,672.8 973.9,674.2 973.0,675.6C972.1,677.0 971.2,678.4 970.3,679.8C969.5,681.2 968.6,682.5 967.7,683.9C966.8,685.3 965.9,686.7 965.0,688.1C964.1,689.4 963.2,690.8 962.2,692.2C961.3,693.6 960.4,694.9 959.5,696.3C958.6,697.7 957.7,699.0 956.7,700.4C955.8,701.7 954.9,703.1 954.0,704.5C953.0,705.8 952.1,707.2 951.2,708.5C950.2,709.9 949.3,711.2 948.3,712.6C947.4,713.9 946.4,715.3 945.5,716.6C944.5,717.9 943.6,719.3 942.6,720.6C941.7,722.0 940.7,723.3 939.7,724.6C938.8,725.9 937.8,727.3 936.8,728.6C935.8,729.9 934.9,731.2 933.9,732.6C932.9,733.9 931.9,735.2 930.9,736.5C929.9,737.8 928.9,739.1 927.9,740.4C926.9,741.7 925.9,743.1 924.9,744.4C923.9,745.7 922.9,747.0 921.9,748.2C920.9,749.5 919.9,750.8 918.9,752.1C917.8,753.4 916.8,754.7 915.8,756.0C914.8,757.3 913.7,758.5 912.7,759.8C911.7,761.1 910.6,762.4 909.6,763.6C908.5,764.9 907.5,766.2 906.4,767.4C905.4,768.7 904.3,770.0 903.3,771.2C902.2,772.5 901.2,773.7 900.1,775.0C899.0,776.2 898.0,777.5 896.9,778.7C895.8,780.0 894.7,781.2 893.7,782.5C892.6,783.7 891.5,784.9 890.4,786.2C889.3,787.4 888.2,788.6 887.1,789.9C886.0,791.1 884.9,792.3 883.8,793.5C882.7,794.7 881.6,796.0 880.5,797.2C879.4,798.4 878.3,799.6 877.2,800.8C876.1,802.0 874.9,803.2 873.8,804.4C872.7,805.6 871.6,806.8 870.4,808.0C869.3,809.2 868.2,810.4 867.0,811.5C865.9,812.7 864.7,813.9 863.6,815.1C862.4,816.3 861.3,817.4 860.1,818.6C859.0,819.8 857.8,821.0 856.7,822.1C855.5,823.3 854.3,824.4 853.2,825.6C852.0,826.8 850.8,827.9 849.6,829.1C848.5,830.2 847.3,831.4 846.1,832.5C844.9,833.6 843.7,834.8 842.5,835.9C841.3,837.0 840.1,838.2 838.9,839.3C837.7,840.4 836.5,841.6 835.3,842.7C834.1,843.8 832.9,844.9 831.7,846.0C830.5,847.1 829.3,848.2 828.0,849.3C826.8,850.5 825.6,851.6 824.4,852.6C823.1,853.7 821.9,854.8 820.7,855.9C819.4,857.0 818.2,858.1 817.0,859.2C815.7,860.3 814.5,861.3 813.2,862.4C812.0,863.5 810.7,864.5 809.5,865.6C808.2,866.7 806.9,867.7 805.7,868.8C804.4,869.8 803.1,870.9 801.9,871.9C800.6,872.9 799.3,874.0 798.0,875.0C796.7,876.0 795.4,877.0 794.2,878.1C792.9,879.1 791.6,880.1 790.3,881.1C789.0,882.1 787.7,883.1 786.3,884.1C785.0,885.1 783.7,886.1 782.4,887.1C781.1,888.0 779.8,889.0 778.4,890.0C777.1,890.9 775.8,891.9 774.4,892.9C773.1,893.8 771.8,894.8 770.4,895.7C769.1,896.6 767.7,897.6 766.3,898.5C765.0,899.4 763.6,900.3 762.3,901.2C760.9,902.2 759.5,903.1 758.1,903.9C756.8,904.8 755.4,905.7 754.0,906.6C752.6,907.5 751.2,908.4 749.8,909.2C748.4,910.1 747.0,910.9 745.6,911.8C744.2,912.6 742.8,913.5 741.4,914.3C739.9,915.1 738.5,915.9 737.1,916.8C735.7,917.6 734.2,918.4 732.8,919.2C731.3,920.0 729.9,920.7 728.4,921.5C727.0,922.3 725.5,923.1 724.1,923.8C722.6,924.6 721.1,925.3 719.6,926.1C718.2,926.8 716.7,927.5 715.2,928.2C713.7,929.0 711.5,930.0 710.7,930.4" stroke="#dcbd29"/>
<path d="M641.9,960.5L532.1,996.0" stroke="#dcbd29"/>
<path d="M1270.6,327.2C1270.1,328.0 1268.9,330.4 1268.1,331.9C1267.2,333.5 1266.4,335.1 1265.6,336.6C1264.7,338.2 1263.8,340.0 1263.1,341.4C1262.4,342.7 1261.8,343.7 1261.2,344.9C1260.6,346.1 1260.0,347.3 1259.3,348.4C1258.7,349.6 1258.1,350.8 1257.5,352.0C1256.9,353.2 1256.2,354.4 1255.6,355.5C1255.0,356.7 1254.4,357.9 1253.8,359.1C1253.1,360.3 1252.5,361.5 1251.9,362.6C1251.3,363.8 1250.7,365.0 1250.0,366.2C1249.4,367.4 1248.8,368.6 1248.2,369.8C1247.6,371.0 1246.9,372.1 1246.3,373.3C1245.7,374.5 1245.1,375.7 1244.5,376.9C1243.8,378.1 1243.2,379.3 1242.6,380.5C1242.0,381.7 1241.4,382.8 1240.7,384.0C1240.1,385.2 1239.5,386.4 1238.9,387.6C1238.3,388.8 1237.6,390.0 1237.0,391.2C1236.4,392.4 1235.8,393.6 1235.2,394.8C1234.5,396.0 1233.9,397.2 1233.3,398.4C1232.7,399.5 1232.1,400.7 1231.4,401.9C1230.8,403.1 1230.2,404.3 1229.6,405.5C1229.0,406.7 1228.3,407.9 1227.7,409.1C1227.1,410.3 1226.5,411.5 1225.9,412.7C1225.2,413.9 1224.6,415.1 1224.0,416.3C1223.4,417.5 1222.8,418.7 1222.1,419.9C1221.5,421.1 1220.9,422.3 1220.3,423.5C1219.6,424.7 1219.0,425.8 1218.4,427.0C1217.8,428.2 1217.1,429.4 1216.5,430.6C1215.9,431.8 1215.3,433.0 1214.7,434.2C1214.0,435.4 1213.4,436.6 1212.8,437.8C1212.2,439.0 1211.5,440.2 1210.9,441.4C1210.3,442.6 1209.7,443.8 1209.0,445.0C1208.4,446.2 1207.8,447.4 1207.1,448.6C1206.5,449.8 1205.9,451.0 1205.3,452.2C1204.6,453.4 1204.0,454.6 1203.4,455.8C1202.7,457.0 1202.1,458.2 1201.5,459.4C1200.9,460.6 1200.2,461.8 1199.6,463.0C1199.0,464.1 1198.3,465.3 1197.7,466.5C1197.1,467.7 1196.4,468.9 1195.8,470.1C1195.2,471.3 1194.5,472.5 1193.9,473.7C1193.3,474.9 1192.6,476.1 1192.0,477.3C1191.4,478.5 1190.7,479.7 1190.1,480.9C1189.4,482.1 1188.8,483.3 1188.2,484.5C1187.5,485.7 1186.9,486.9 1186.3,488.0C1185.6,489.2 1185.0,490.4 1184.3,491.6C1183.7,492.8 1183.0,494.0 1182.4,495.2C1181.8,496.4 1181.1,497.6 1180.5,498.8C1179.8,500.0 1179.2,501.2 1178.5,502.4C1177.9,503.5 1177.2,504.7 1176.6,505.9C1176.0,507.1 1175.3,508.3 1174.7,509.5C1174.0,510.7 1173.4,511.9 1172.7,513.1C1172.1,514.2 1171.4,515.4 1170.8,516.6C1170.1,517.8 1169.4,519.0 1168.8,520.2C1168.1,521.4 1167.5,522.6 1166.8,523.7C1166.2,524.9 1165.5,526.1 1164.9,527.3C1164.2,528.5 1163.5,529.7 1162.9,530.8C1162.2,532.0 1161.6,533.2 1160.9,534.4C1160.2,535.6 1159.6,536.8 1158.9,537.9C1158.2,539.1 1157.6,540.3 1156.9,541.5C1156.2,542.7 1155.4,544.2 1154.9,545.0C1154.5,545.8 1154.4,546.0 1154.2,546.2" stroke="#f2ba38"/>
<path d="M1103.2,630.6C1102.8,631.2 1101.7,632.9 1101.0,634.0C1100.2,635.1 1099.5,636.3 1098.7,637.4C1098.0,638.5 1097.3,639.6 1096.5,640.8C1095.8,641.9 1095.0,643.0 1094.3,644.1C1093.5,645.3 1092.8,646.4 1092.0,647.5C1091.3,648.6 1090.5,649.7 1089.8,650.8C1089.0,652.0 1088.2,653.1 1087.5,654.2C1086.7,655.3 1086.0,656.4 1085.2,657.5C1084.4,658.6 1083.7,659.7 1082.9,660.8C1082.1,662.0 1081.4,663.1 1080.6,664.2C1079.8,665.3 1079.1,666.4 1078.3,667.5C1077.5,668.6 1076.7,669.7 1076.0,670.8C1075.2,671.9 1074.4,673.0 1073.6,674.1C1072.8,675.2 1072.1,676.3 1071.3,677.3C1070.5,678.4 1069.7,679.5 1068.9,680.6C1068.1,681.7 1067.3,682.8 1066.5,683.9C1065.7,685.0 1064.9,686.1 1064.1,687.1C1063.3,688.2 1062.5,689.3 1061.7,690.4C1060.9,691.5 1060.1,692.5 1059.3,693.6C1058.5,694.7 1057.7,695.8 1056.9,696.8C1056.1,697.9 1055.3,699.0 1054.5,700.1C1053.6,701.1 1052.8,702.2 1052.0,703.3C1051.2,704.3 1050.4,705.4 1049.5,706.4C1048.7,707.5 1047.9,708.6 1047.1,709.6C1046.2,710.7 1045.4,711.7 1044.6,712.8C1043.7,713.9 1042.9,714.9 1042.1,716.0C1041.2,717.0 1040.4,718.1 1039.6,719.1C1038.7,720.2 1037.9,721.2 1037.0,722.2C1036.2,723.3 1035.3,724.3 1034.5,725.4C1033.6,726.4 1032.8,727.5 1031.9,728.5C1031.1,729.5 1030.2,730.6 1029.3,731.6C1028.5,732.6 1027.6,733.7 1026.8,734.7C1025.9,735.7 1025.0,736.7 1024.2,737.8C1023.3,738.8 1022.4,739.8 1021.5,740.8C1020.7,741.9 1019.8,742.9 1018.9,743.9C1018.0,744.9 1017.2,745.9 1016.3,746.9C1015.4,748.0 1014.5,749.0 1013.6,750.0C1012.7,751.0 1011.8,752.0 1010.9,753.0C1010.1,754.0 1009.2,755.0 1008.3,756.0C1007.4,757.0 1006.5,758.0 1005.6,759.0C1004.7,760.0 1003.8,761.0 1002.9,762.0C1002.0,763.0 1001.0,764.0 1000.1,765.0C999.2,766.0 998.3,766.9 997.4,767.9C996.5,768.9 995.6,769.9 994.6,770.9C993.7,771.9 992.8,772.8 991.9,773.8C991.0,774.8 990.0,775.8 989.1,776.7C988.2,777.7 987.2,778.7 986.3,779.6C985.4,780.6 984.4,781.6 983.5,782.5C982.6,783.5 981.6,784.5 980.7,785.4C979.7,786.4 978.8,787.3 977.8,788.3C976.9,789.2 975.9,790.2 975.0,791.1C974.0,792.1 973.1,793.0 972.1,794.0C971.2,794.9 970.2,795.9 969.3,796.8C968.3,797.7 967.3,798.7 966.4,799.6C965.4,800.6 964.4,801.5 963.5,802.4C962.5,803.3 961.5,804.3 960.6,805.2C959.6,806.1 958.6,807.1 957.6,808.0C956.6,808.9 955.7,809.8 954.7,810.7C953.7,811.6 952.7,812.6 951.7,813.5C950.7,814.4 949.7,815.3 948.7,816.2C947.8,817.1 946.8,818.0 945.8,818.9C944.8,819.8 943.8,820.7 942.8,821.6C941.8,822.5 940.8,823.4 939.8,824.3C938.7,825.2 937.7,826.1 936.7,827.0C935.7,827.9 934.7,828.7 933.7,829.6C932.7,830.5 931.7,831.4 930.6,832.3C929.6,833.1 928.6,834.0 927.6,834.9C926.5,835.8 925.5,836.6 924.5,837.5C923.5,838.4 922.4,839.2 921.4,840.1C920.4,841.0 919.3,841.8 918.3,842.7C917.2,843.5 916.2,844.4 915.2,845.2C914.1,846.1 913.1,846.9 912.0,847.8C911.0,848.6 909.9,849.5 908.9,850.3C907.8,851.2 906.8,852.0 905.7,852.8C904.7,853.7 903.6,854.5 902.5,855.3C901.5,856.2 900.4,857.0 899.4,857.8C898.3,858.6 897.2,859.5 896.2,860.3C895.1,861.1 894.0,861.9 892.9,862.7C891.9,863.5 890.8,864.4 889.7,865.2C888.6,866.0 887.5,866.8 886.5,867.6C885.4,868.4 884.3,869.2 883.2,870.0C882.1,870.8 881.0,871.6 879.9,872.4C878.8,873.2 877.7,874.0 876.6,874.7C875.6,875.5 874.5,876.3 873.4,877.1C872.2,877.9 871.1,878.7 870.0,879.4C868.9,880.2 867.8,881.0 866.7,881.7C865.6,882.5 864.5,883.3 863.4,884.0C862.3,884.8 861.1,885.6 860.0,886.3C858.9,887.1 857.8,887.8 856.7,888.6C855.5,889.3 854.4,890.1 853.3,890.8C852.1,891.6 851.0,892.3 849.9,893.1C848.8,893.8 847.6,894.6 846.5,895.3C845.3,896.0 844.2,896.8 843.1,897.5C841.9,898.2 840.8,898.9 839.6,899.7C838.5,900.4 837.3,901.1 836.2,901.8C835.0,902.5 833.9,903.3 832.7,904.0C831.6,904.7 830.4,905.4 829.2,906.1C828.1,906.8 826.9,907.5 825.8,908.2C824.6,908.9 823.4,909.6 822.3,910.3C821.1,911.0 819.9,911.7 818.7,912.3C817.6,913.0 816.4,913.7 815.2,914.4C814.0,915.1 812.9,915.7 811.7,916.4C810.5,917.1 809.3,917.8 808.1,918.4C806.9,919.1 805.7,919.8 804.5,920.4C803.4,921.1 802.2,921.7 801.0,922.4C799.8,923.1 798.6,923.7 797.4,924.4C796.2,925.0 795.0,925.6 793.8,926.3C792.6,926.9 791.3,927.6 790.1,928.2C788.9,928.8 787.7,929.5 786.5,930.1C785.3,930.7 784.1,931.4 782.9,932.0C781.6,932.6 780.4,933.2 779.2,933.8C778.0,934.4 776.7,935.1 775.5,935.7C774.3,936.3 773.1,936.9 771.8,937.5C770.6,938.1 768.7,939.0 768.1,939.3" stroke="#f2ba38"/>
<path d="M677.6,973.0L606.6,994.6" stroke="#f2ba38"/>
<path d="M1271.3,557.2C1270.9,557.7 1269.6,559.4 1268.8,560.6C1268.0,561.7 1267.2,562.8 1266.4,564.0C1265.5,565.1 1264.7,566.3 1263.9,567.4C1263.1,568.5 1262.3,569.7 1261.5,570.8C1260.6,572.0 1259.8,573.1 1259.0,574.2C1258.2,575.4 1257.4,576.5 1256.5,577.7C1255.7,578.8 1254.9,579.9 1254.1,581.1C1253.2,582.2 1252.4,583.4 1251.6,584.5C1250.8,585.7 1249.9,586.8 1249.1,588.0C1248.3,589.1 1247.5,590.2 1246.6,591.4C1245.8,592.5 1245.0,593.7 1244.2,594.8C1243.3,596.0 1242.5,597.1 1241.7,598.3C1240.8,599.4 1240.0,600.6 1239.2,601.7C1238.4,602.9 1237.5,604.0 1236.7,605.2C1235.9,606.3 1235.0,607.5 1234.2,608.6C1233.4,609.8 1232.5,610.9 1231.7,612.0C1230.8,613.2 1230.0,614.3 1229.2,615.5C1228.3,616.6 1227.4,617.9 1226.7,618.9C1225.9,619.9 1225.1,621.1 1224.8,621.5" stroke="#fec13a"/>
<path d="M1178.2,683.1C1177.8,683.7 1176.4,685.3 1175.5,686.5C1174.6,687.6 1173.8,688.7 1172.9,689.8C1172.0,691.0 1171.1,692.1 1170.2,693.2C1169.3,694.3 1168.4,695.4 1167.5,696.5C1166.6,697.7 1165.7,698.8 1164.8,699.9C1163.9,701.0 1163.0,702.1 1162.1,703.2C1161.2,704.3 1160.3,705.4 1159.4,706.6C1158.4,707.7 1157.5,708.8 1156.6,709.9C1155.7,711.0 1154.8,712.1 1153.9,713.2C1153.0,714.3 1152.0,715.4 1151.1,716.5C1150.2,717.6 1149.3,718.7 1148.4,719.8C1147.4,720.9 1146.5,722.0 1145.6,723.1C1144.7,724.1 1143.7,725.2 1142.8,726.3C1141.9,727.4 1140.9,728.5 1140.0,729.6C1139.1,730.7 1138.1,731.7 1137.2,732.8C1136.2,733.9 1135.3,735.0 1134.4,736.1C1133.4,737.1 1132.5,738.2 1131.5,739.3C1130.6,740.3 1129.6,741.4 1128.7,742.5C1127.7,743.6 1126.8,744.6 1125.8,745.7C1124.9,746.7 1123.9,747.8 1123.0,748.9C1122.0,749.9 1121.0,751.0 1120.1,752.0C1119.1,753.1 1118.1,754.1 1117.2,755.2C1116.2,756.2 1115.2,757.3 1114.3,758.3C1113.3,759.4 1112.3,760.4 1111.3,761.5C1110.4,762.5 1109.4,763.5 1108.4,764.6C1107.4,765.6 1106.4,766.6 1105.4,767.7C1104.5,768.7 1103.5,769.7 1102.5,770.8C1101.5,771.8 1100.5,772.8 1099.5,773.8C1098.5,774.8 1097.5,775.9 1096.5,776.9C1095.5,777.9 1094.5,778.9 1093.5,779.9C1092.5,780.9 1091.5,781.9 1090.5,782.9C1089.5,783.9 1088.5,784.9 1087.4,785.9C1086.4,786.9 1085.4,787.9 1084.4,788.9C1083.4,789.9 1082.4,790.9 1081.3,791.9C1080.3,792.9 1079.3,793.9 1078.2,794.8C1077.2,795.8 1076.2,796.8 1075.1,797.8C1074.1,798.7 1073.1,799.7 1072.0,800.7C1071.0,801.6 1069.9,802.6 1068.9,803.6C1067.9,804.5 1066.8,805.5 1065.8,806.4C1064.7,807.4 1063.7,808.3 1062.6,809.3C1061.5,810.2 1060.5,811.2 1059.4,812.1C1058.4,813.1 1057.3,814.0 1056.2,814.9C1055.2,815.9 1054.1,816.8 1053.0,817.7C1051.9,818.7 1050.9,819.6 1049.8,820.5C1048.7,821.4 1047.6,822.3 1046.5,823.2C1045.4,824.2 1044.4,825.1 1043.3,826.0C1042.2,826.9 1041.1,827.8 1040.0,828.7C1038.9,829.6 1037.8,830.5 1036.7,831.4C1035.6,832.3 1034.5,833.1 1033.4,834.0C1032.3,834.9 1031.2,835.8 1030.0,836.7C1028.9,837.5 1027.8,838.4 1026.7,839.3C1025.6,840.1 1024.4,841.0 1023.3,841.9C1022.2,842.7 1021.1,843.6 1019.9,844.4C1018.8,845.3 1017.7,846.1 1016.5,847.0C1015.4,847.8 1014.3,848.7 1013.1,849.5C1012.0,850.4 1010.8,851.2 1009.7,852.0C1008.5,852.9 1007.4,853.7 1006.2,854.5C1005.1,855.3 1003.9,856.1 1002.8,857.0C1001.6,857.8 1000.4,858.6 999.3,859.4C998.1,860.2 997.0,861.0 995.8,861.8C994.6,862.6 993.4,863.4 992.3,864.2C991.1,865.0 989.9,865.8 988.7,866.6C987.6,867.4 986.4,868.1 985.2,868.9C984.0,869.7 982.8,870.5 981.6,871.2C980.4,872.0 979.3,872.8 978.1,873.6C976.9,874.3 975.7,875.1 974.5,875.8C973.3,876.6 972.1,877.3 970.9,878.1C969.7,878.8 968.4,879.6 967.2,880.3C966.0,881.1 964.8,881.8 963.6,882.5C962.4,883.3 961.2,884.0 960.0,884.7C958.7,885.5 957.5,886.2 956.3,886.9C955.1,887.6 953.8,888.3 952.6,889.0C951.4,889.8 950.2,890.5 948.9,891.2C947.7,891.9 946.5,892.6 945.2,893.3C944.0,894.0 942.7,894.7 941.5,895.3C940.3,896.0 939.0,896.7 937.8,897.4C936.5,898.1 935.3,898.8 934.0,899.4C932.8,900.1 931.5,900.8 930.3,901.4C929.0,902.1 927.7,902.8 926.5,903.4C925.2,904.1 924.0,904.7 922.7,905.4C921.4,906.0 920.2,906.7 918.9,907.3C917.6,908.0 916.4,908.6 915.1,909.3C913.8,909.9 912.5,910.5 911.3,911.2C910.0,911.8 908.7,912.4 907.4,913.0C906.1,913.6 904.9,914.3 903.6,914.9C902.3,915.5 901.0,916.1 899.7,916.7C898.4,917.3 897.1,917.9 895.8,918.5C894.6,919.1 893.3,919.7 892.0,920.3C890.7,920.9 889.4,921.5 888.1,922.1C886.8,922.6 885.5,923.2 884.2,923.8C882.9,924.4 881.6,924.9 880.2,925.5C878.9,926.1 877.6,926.7 876.3,927.2C875.0,927.8 873.7,928.3 872.4,928.9C871.1,929.4 869.7,930.0 868.4,930.5C867.1,931.1 865.8,931.6 864.5,932.2C863.2,932.7 861.8,933.3 860.5,933.8C859.2,934.3 857.9,934.9 856.5,935.4C855.2,935.9 853.9,936.5 852.6,937.0C851.2,937.5 849.9,938.1 848.6,938.6C847.3,939.1 845.9,939.6 844.6,940.2C843.3,940.7 841.9,941.2 840.6,941.7C839.3,942.2 838.0,942.8 836.6,943.3C835.3,943.8 834.0,944.3 832.6,944.8C831.3,945.4 830.0,945.9 828.6,946.4C827.3,946.9 826.0,947.4 824.7,947.9C823.3,948.5 822.0,949.0 820.7,949.5C819.4,950.0 818.0,950.5 816.7,951.1C815.4,951.6 814.0,952.1 812.7,952.6C811.4,953.1 810.1,953.7 808.8,954.2C807.4,954.7 806.1,955.2 804.8,955.7C803.5,956.3 802.1,956.8 800.8,957.3C799.5,957.9 798.2,958.4 796.9,958.9C795.6,959.5 793.6,960.3 792.9,960.5" stroke="#fec13a"/>
<path d="M720.0,985.1L690.8,994.6" stroke="#fec13a"/>
<path d="M1271.0,724.9C1270.5,725.4 1269.1,727.0 1268.2,728.1C1267.3,729.1 1266.3,730.2 1265.4,731.3C1264.5,732.3 1263.5,733.4 1262.6,734.4C1261.6,735.5 1260.7,736.5 1259.7,737.5C1258.8,738.6 1257.8,739.6 1256.9,740.6C1255.9,741.7 1255.0,742.7 1254.0,743.7C1253.0,744.8 1252.1,745.8 1251.1,746.8C1250.1,747.8 1249.2,748.8 1248.2,749.8C1247.2,750.8 1246.2,751.9 1245.2,752.9C1244.3,753.9 1243.3,754.9 1242.3,755.9C1241.3,756.9 1240.3,757.8 1239.3,758.8C1238.3,759.8 1237.3,760.8 1236.3,761.8C1235.3,762.8 1234.3,763.8 1233.3,764.7C1232.3,765.7 1231.3,766.7 1230.3,767.6C1229.3,768.6 1228.2,769.6 1227.2,770.5C1226.2,771.5 1225.2,772.5 1224.1,773.4C1223.1,774.4 1222.1,775.3 1221.1,776.3C1220.0,777.2 1219.0,778.1 1217.9,779.1C1216.9,780.0 1215.9,781.0 1214.8,781.9C1213.8,782.8 1212.7,783.8 1211.7,784.7C1210.6,785.6 1209.6,786.5 1208.5,787.5C1207.5,788.4 1206.4,789.3 1205.3,790.2C1204.3,791.1 1203.2,792.0 1202.1,792.9C1201.1,793.8 1200.0,794.7 1198.9,795.6C1197.9,796.5 1196.8,797.4 1195.7,798.3C1194.6,799.2 1193.6,800.1 1192.5,801.0C1191.4,801.9 1190.3,802.8 1189.2,803.6C1188.1,804.5 1187.0,805.4 1185.9,806.3C1184.8,807.1 1183.7,808.0 1182.6,808.9C1181.5,809.7 1180.4,810.6 1179.3,811.5C1178.2,812.3 1177.1,813.2 1176.0,814.0C1174.9,814.9 1173.8,815.7 1172.7,816.6C1171.6,817.4 1170.4,818.3 1169.3,819.1C1168.2,820.0 1167.1,820.8 1166.0,821.6C1164.8,822.5 1163.7,823.3 1162.6,824.1C1161.5,825.0 1160.3,825.8 1159.2,826.6C1158.1,827.4 1156.9,828.2 1155.8,829.1C1154.6,829.9 1153.5,830.7 1152.4,831.5C1151.2,832.3 1150.1,833.1 1148.9,833.9C1147.8,834.7 1146.6,835.5 1145.5,836.3C1144.3,837.1 1143.2,837.9 1142.0,838.7C1140.9,839.5 1139.7,840.3 1138.5,841.1C1137.4,841.9 1136.2,842.6 1135.0,843.4C1133.9,844.2 1132.7,845.0 1131.5,845.7C1130.4,846.5 1129.2,847.3 1128.0,848.1C1126.9,848.8 1125.7,849.6 1124.5,850.3C1123.3,851.1 1122.1,851.9 1121.0,852.6C1119.8,853.4 1118.6,854.1 1117.4,854.9C1116.2,855.6 1115.0,856.4 1113.9,857.1C1112.7,857.9 1111.5,858.6 1110.3,859.3C1109.1,860.1 1107.9,860.8 1106.7,861.5C1105.5,862.3 1104.3,863.0 1103.1,863.7C1101.9,864.5 1100.7,865.2 1099.5,865.9C1098.3,866.6 1097.1,867.3 1095.9,868.1C1094.7,868.8 1093.5,869.5 1092.3,870.2C1091.0,870.9 1089.8,871.6 1088.6,872.3C1087.4,873.0 1086.2,873.7 1085.0,874.4C1083.8,875.1 1082.5,875.8 1081.3,876.5C1080.1,877.2 1078.9,877.9 1077.7,878.6C1076.4,879.3 1075.2,879.9 1074.0,880.6C1072.7,881.3 1071.5,882.0 1070.3,882.7C1069.1,883.3 1067.8,884.0 1066.6,884.7C1065.4,885.4 1064.1,886.0 1062.9,886.7C1061.7,887.4 1060.4,888.0 1059.2,888.7C1057.9,889.3 1056.7,890.0 1055.5,890.7C1054.2,891.3 1053.0,892.0 1051.7,892.6C1050.5,893.3 1049.3,893.9 1048.0,894.6C1046.8,895.2 1045.5,895.8 1044.3,896.5C1043.0,897.1 1041.8,897.8 1040.5,898.4C1039.3,899.0 1038.0,899.7 1036.8,900.3C1035.5,900.9 1034.3,901.6 1033.0,902.2C1031.7,902.8 1030.5,903.4 1029.2,904.0C1028.0,904.7 1026.7,905.3 1025.4,905.9C1024.2,906.5 1022.9,907.1 1021.7,907.7C1020.4,908.3 1019.1,908.9 1017.9,909.6C1016.6,910.2 1015.3,910.8 1014.1,911.4C1012.8,912.0 1011.5,912.6 1010.3,913.2C1009.0,913.7 1007.7,914.3 1006.5,914.9C1005.2,915.5 1003.9,916.1 1002.7,916.7C1001.4,917.3 1000.1,917.9 998.8,918.4C997.6,919.0 996.3,919.6 995.0,920.2C993.7,920.8 992.5,921.3 991.2,921.9C989.9,922.5 988.6,923.0 987.4,923.6C986.1,924.2 984.8,924.7 983.5,925.3C982.2,925.9 980.7,926.5 979.7,927.0C978.7,927.4 977.9,927.8 977.5,927.9" stroke="#fccf30"/>
<path d="M885.5,963.8L791.2,994.6" stroke="#fccf30"/>
<path d="M1271.1,839.3C1270.5,839.6 1268.7,840.7 1267.6,841.3C1266.4,842.0 1265.2,842.7 1264.0,843.4C1262.8,844.0 1261.7,844.7 1260.5,845.4C1259.3,846.0 1258.1,846.7 1256.9,847.4C1255.8,848.1 1254.6,848.7 1253.4,849.4C1252.2,850.1 1251.0,850.8 1249.8,851.4C1248.7,852.1 1247.5,852.8 1246.3,853.5C1245.1,854.1 1243.9,854.8 1242.7,855.5C1241.5,856.1 1240.4,856.8 1239.2,857.5C1238.0,858.2 1236.8,858.8 1235.6,859.5C1234.4,860.2 1233.2,860.8 1232.0,861.5C1230.8,862.2 1229.7,862.8 1228.5,863.5C1227.3,864.2 1226.1,864.8 1224.9,865.5C1223.7,866.2 1222.5,866.8 1221.3,867.5C1220.1,868.2 1218.9,868.8 1217.7,869.5C1216.5,870.1 1215.3,870.8 1214.1,871.5C1212.9,872.1 1211.7,872.8 1210.5,873.4C1209.3,874.1 1208.1,874.8 1206.9,875.4C1205.7,876.1 1204.5,876.7 1203.3,877.4C1202.1,878.0 1200.9,878.7 1199.7,879.3C1198.5,880.0 1197.3,880.6 1196.1,881.3C1194.9,881.9 1193.7,882.6 1192.5,883.2C1191.3,883.8 1190.1,884.5 1188.9,885.1C1187.7,885.8 1186.5,886.4 1185.2,887.0C1184.0,887.7 1182.8,888.3 1181.6,888.9C1180.4,889.6 1179.2,890.2 1178.0,890.8C1176.8,891.5 1175.5,892.1 1174.3,892.7C1173.1,893.3 1171.9,894.0 1170.7,894.6C1169.5,895.2 1168.2,895.8 1167.0,896.4C1165.8,897.0 1164.6,897.7 1163.4,898.3C1162.1,898.9 1160.9,899.5 1159.7,900.1C1158.5,900.7 1157.2,901.3 1156.0,901.9C1154.8,902.5 1153.6,903.1 1152.3,903.7C1151.1,904.3 1149.9,904.9 1148.6,905.5C1147.4,906.1 1146.2,906.7 1145.0,907.3C1143.7,907.8 1142.5,908.4 1141.3,909.0C1140.0,909.6 1138.8,910.2 1137.5,910.8C1136.3,911.3 1135.1,911.9 1133.8,912.5C1132.6,913.0 1131.3,913.6 1130.1,914.2C1128.9,914.7 1127.6,915.3 1126.4,915.9C1125.1,916.4 1123.9,917.0 1122.6,917.5C1121.4,918.1 1120.1,918.6 1118.9,919.2C1117.6,919.7 1116.4,920.3 1115.1,920.8C1113.9,921.3 1112.6,921.9 1111.4,922.4C1110.1,922.9 1108.9,923.5 1107.6,924.0C1106.3,924.5 1105.1,925.0 1103.8,925.6C1102.6,926.1 1101.3,926.6 1100.0,927.1C1098.8,927.6 1097.5,928.1 1096.3,928.6C1095.0,929.1 1093.7,929.6 1092.4,930.1C1091.2,930.6 1089.9,931.1 1088.6,931.6C1087.4,932.1 1086.1,932.6 1084.8,933.0C1083.5,933.5 1082.3,934.0 1081.0,934.5C1079.7,934.9 1078.4,935.4 1077.2,935.9C1075.9,936.3 1074.6,936.8 1073.3,937.3C1072.0,937.7 1070.7,938.2 1069.5,938.6C1068.2,939.1 1066.9,939.5 1065.6,939.9C1064.3,940.4 1063.0,940.8 1061.7,941.2C1060.4,941.7 1059.1,942.1 1057.8,942.5C1056.5,942.9 1055.2,943.4 1053.9,943.8C1052.7,944.2 1051.0,944.7 1050.4,944.9" stroke="#f6de29"/>
<path d="M977.6,969.8C977.2,969.9 975.9,970.3 975.1,970.6C974.2,970.9 973.4,971.1 972.5,971.4C971.7,971.7 970.8,971.9 970.0,972.2C969.1,972.4 968.3,972.7 967.5,972.9C966.6,973.1 965.8,973.4 964.9,973.6C964.1,973.9 963.2,974.1 962.4,974.3C961.5,974.6 960.7,974.8 959.8,975.0C959.0,975.2 958.1,975.5 957.3,975.7C956.4,975.9 955.5,976.2 954.7,976.4C953.8,976.6 953.0,976.8 952.1,977.1C951.3,977.3 950.4,977.5 949.6,977.7C948.7,978.0 947.9,978.2 947.0,978.4C946.2,978.7 945.3,978.9 944.5,979.1C943.6,979.4 942.8,979.6 941.9,979.9C941.1,980.1 940.2,980.3 939.4,980.6C938.5,980.8 937.7,981.1 936.8,981.4C936.0,981.6 935.1,981.9 934.3,982.1C933.4,982.4 932.6,982.7 931.7,983.0C930.9,983.2 930.0,983.5 929.2,983.8C928.3,984.1 927.5,984.4 926.6,984.7C925.8,985.0 925.0,985.3 924.1,985.6C923.3,985.9 922.4,986.3 921.6,986.6C920.8,987.0 920.0,987.4 919.3,987.8C918.6,988.3 917.9,988.7 917.3,989.3C916.7,989.9 916.1,990.5 915.7,991.2C915.2,991.9 914.8,993.0 914.6,993.5C914.4,994.1 914.4,994.3 914.3,994.5" stroke="#f6de29"/>
<path d="M1271.0,914.1C1270.3,914.3 1268.4,915.0 1267.1,915.5C1265.7,915.9 1264.4,916.4 1263.1,916.8C1261.8,917.3 1260.5,917.7 1259.2,918.2C1257.9,918.7 1256.6,919.1 1255.3,919.6C1254.0,920.0 1252.7,920.5 1251.4,921.0C1250.0,921.5 1248.7,921.9 1247.4,922.4C1246.1,922.9 1244.8,923.3 1243.5,923.8C1242.2,924.3 1240.9,924.8 1239.6,925.3C1238.3,925.8 1237.0,926.2 1235.7,926.7C1234.4,927.2 1233.1,927.7 1231.8,928.2C1230.5,928.7 1229.2,929.2 1227.9,929.7C1226.7,930.2 1225.4,930.7 1224.1,931.2C1222.8,931.7 1221.5,932.2 1220.2,932.7C1218.9,933.2 1217.6,933.7 1216.3,934.2C1215.0,934.7 1213.7,935.2 1212.4,935.7C1211.2,936.2 1209.9,936.7 1208.6,937.3C1207.3,937.8 1206.0,938.3 1204.7,938.8C1203.4,939.3 1202.1,939.9 1200.9,940.4C1199.6,940.9 1198.3,941.4 1197.0,942.0C1195.7,942.5 1194.5,943.0 1193.2,943.6C1191.9,944.1 1190.6,944.6 1189.3,945.2C1188.1,945.7 1186.8,946.2 1185.5,946.8C1184.2,947.3 1182.9,947.9 1181.7,948.4C1180.4,949.0 1178.6,949.7 1178.0,950.0" stroke="#f5ed22"/>
<path d="M1085.3,977.7C1084.9,977.8 1083.8,978.1 1083.1,978.2C1082.4,978.4 1081.7,978.6 1081.0,978.8C1080.4,979.0 1079.9,979.1 1079.1,979.3C1078.3,979.5 1077.2,979.8 1076.3,980.1C1075.4,980.4 1074.6,980.6 1073.8,980.9C1073.0,981.1 1072.2,981.4 1071.5,981.6C1070.7,981.9 1070.1,982.1 1069.4,982.4C1068.6,982.7 1067.7,983.0 1067.0,983.4C1066.3,983.7 1065.7,984.0 1065.0,984.3C1064.4,984.7 1063.7,985.0 1063.1,985.5C1062.6,985.9 1061.8,986.4 1061.6,987.0C1061.3,987.6 1061.3,988.5 1061.6,989.1C1061.8,989.7 1062.5,990.1 1063.1,990.5C1063.7,990.8 1064.3,991.1 1065.0,991.4C1065.6,991.7 1066.2,991.9 1066.9,992.1C1067.7,992.4 1068.6,992.6 1069.3,992.8C1070.0,993.0 1070.6,993.2 1071.4,993.3C1072.1,993.5 1072.9,993.6 1073.7,993.8C1074.5,994.0 1075.5,994.2 1076.2,994.3C1076.9,994.4 1077.7,994.5 1078.0,994.6" stroke="#f5ed22"/>
<path d="M1271.1,972.5C1270.8,972.7 1269.9,973.1 1269.2,973.4C1268.5,973.7 1267.7,973.9 1267.0,974.2C1266.3,974.4 1265.7,974.6 1265.0,974.8C1264.3,975.1 1263.6,975.3 1262.8,975.6C1262.0,975.8 1261.2,976.1 1260.4,976.3C1259.5,976.6 1258.7,976.9 1257.8,977.2C1257.0,977.5 1256.1,977.8 1255.3,978.1C1254.4,978.4 1253.6,978.7 1252.7,979.0C1251.9,979.3 1251.1,979.6 1250.3,979.9C1249.5,980.2 1248.8,980.6 1248.0,980.9C1247.3,981.2 1246.7,981.5 1246.0,981.9C1245.3,982.2 1244.5,982.7 1243.8,983.2C1243.2,983.7 1242.4,984.1 1242.1,984.8C1241.8,985.4 1241.8,986.3 1242.1,986.9C1242.4,987.5 1243.2,987.9 1243.9,988.4C1244.6,988.8 1245.5,989.1 1246.2,989.4C1246.9,989.7 1247.5,989.9 1248.3,990.2C1249.0,990.4 1249.8,990.6 1250.6,990.8C1251.4,991.1 1252.2,991.3 1253.1,991.5C1253.9,991.7 1254.8,991.9 1255.6,992.0C1256.5,992.2 1257.4,992.4 1258.2,992.5C1259.1,992.7 1260.0,992.8 1260.8,993.0C1261.6,993.1 1262.5,993.2 1263.2,993.3C1264.0,993.4 1264.7,993.5 1265.5,993.6C1266.3,993.7 1267.3,993.8 1268.1,993.8C1268.9,993.9 1269.9,993.9 1270.4,993.9C1270.9,993.9 1271.0,993.8 1271.1,993.8" stroke="#f9fb15"/>
</g>
<path d="M1026.6,122.7C1026.3,123.4 1025.5,125.6 1025.0,127.1C1024.4,128.6 1023.9,130.1 1023.3,131.5C1022.8,133.0 1022.3,134.5 1021.7,136.0C1021.2,137.5 1020.7,138.9 1020.1,140.4C1019.6,141.9 1019.0,143.4 1018.5,144.9C1018.0,146.4 1017.4,147.9 1016.9,149.3C1016.4,150.8 1015.8,152.3 1015.3,153.8C1014.8,155.3 1014.3,156.8 1013.7,158.3C1013.2,159.8 1012.7,161.3 1012.1,162.7C1011.6,164.2 1011.1,165.7 1010.5,167.2C1010.0,168.7 1009.5,170.2 1009.0,171.7C1008.4,173.2 1007.9,174.7 1007.4,176.2C1006.8,177.7 1006.3,179.2 1005.8,180.7C1005.3,182.2 1004.7,183.7 1004.2,185.2C1003.7,186.7 1003.2,188.2 1002.6,189.7C1002.1,191.2 1001.6,192.7 1001.1,194.2C1000.5,195.7 1000.0,197.2 999.5,198.7C999.0,200.2 998.4,201.7 997.9,203.2C997.4,204.7 996.9,206.2 996.4,207.7C995.8,209.2 995.3,210.7 994.8,212.2C994.3,213.7 993.7,215.2 993.2,216.7C992.7,218.2 992.2,219.7 991.7,221.3C991.1,222.8 990.6,224.3 990.1,225.8C989.6,227.3 989.1,228.8 988.5,230.3C988.0,231.8 987.5,233.3 987.0,234.8C986.4,236.4 985.9,237.9 985.4,239.4C984.9,240.9 984.4,242.4 983.8,243.9C983.3,245.4 982.8,246.9 982.3,248.5C981.8,250.0 981.2,251.5 980.7,253.0C980.2,254.5 979.7,256.0 979.2,257.5C978.6,259.1 978.1,260.6 977.6,262.1C977.1,263.6 976.6,265.1 976.0,266.6C975.5,268.1 975.0,269.7 974.5,271.2C973.9,272.7 973.4,274.2 972.9,275.7C972.4,277.3 971.9,278.8 971.3,280.3C970.8,281.8 970.3,283.3 969.8,284.8C969.2,286.4 968.7,287.9 968.2,289.4C967.7,290.9 967.2,292.4 966.6,294.0C966.1,295.5 965.6,297.0 965.1,298.5C964.5,300.0 964.0,301.6 963.5,303.1C963.0,304.6 962.4,306.1 961.9,307.6C961.4,309.2 960.9,310.7 960.3,312.2C959.8,313.7 959.3,315.2 958.7,316.8C958.2,318.3 957.7,319.8 957.2,321.3C956.6,322.8 956.1,324.4 955.6,325.9C955.0,327.4 954.5,328.9 954.0,330.4C953.5,332.0 952.9,333.5 952.4,335.0C951.9,336.5 951.3,338.1 950.8,339.6C950.3,341.1 949.7,342.6 949.2,344.1C948.7,345.7 948.1,347.2 947.6,348.7C947.1,350.2 946.5,351.7 946.0,353.3C945.5,354.8 944.9,356.3 944.4,357.8C943.8,359.3 943.3,360.9 942.8,362.4C942.2,363.9 941.7,365.4 941.2,367.0C940.6,368.5 940.1,370.0 939.5,371.5C939.0,373.0 938.5,374.6 937.9,376.1C937.4,377.6 936.8,379.1 936.3,380.6C935.7,382.1 935.2,383.7 934.6,385.2C934.1,386.7 933.5,388.2 933.0,389.7C932.5,391.3 931.9,392.8 931.4,394.3C930.8,395.8 930.3,397.3 929.7,398.8C929.2,400.4 928.6,401.9 928.0,403.4C927.5,404.9 926.9,406.4 926.4,408.0C925.8,409.5 925.3,411.0 924.7,412.5C924.2,414.0 923.6,415.5 923.0,417.0C922.5,418.6 921.9,420.1 921.4,421.6C920.8,423.1 920.2,424.6 919.7,426.1C919.1,427.6 918.5,429.2 918.0,430.7C917.4,432.2 916.9,433.7 916.3,435.2C915.7,436.7 915.1,438.2 914.6,439.7C914.0,441.2 913.4,442.8 912.9,444.3C912.3,445.8 911.7,447.3 911.1,448.8C910.6,450.3 910.0,451.8 909.4,453.3C908.8,454.8 908.3,456.3 907.7,457.8C907.1,459.4 906.5,460.9 905.9,462.4C905.4,463.9 904.8,465.4 904.2,466.9C903.6,468.4 903.0,469.9 902.4,471.4C901.8,472.9 901.3,474.4 900.7,475.9C900.1,477.4 899.5,478.9 898.9,480.4C898.3,481.9 897.7,483.4 897.1,484.9C896.5,486.4 895.9,487.9 895.3,489.4C894.7,490.9 894.1,492.4 893.5,493.9C892.9,495.4 892.3,496.9 891.7,498.4C891.1,499.9 890.5,501.4 889.9,502.9C889.3,504.4 888.7,505.9 888.1,507.3C887.5,508.8 886.8,510.3 886.2,511.8C885.6,513.3 885.0,514.8 884.4,516.3C883.8,517.8 883.2,519.3 882.5,520.8C881.9,522.2 881.3,523.7 880.7,525.2C880.0,526.7 879.4,528.2 878.8,529.7C878.2,531.2 877.5,532.6 876.9,534.1C876.3,535.6 875.6,537.1 875.0,538.6C874.4,540.0 873.7,541.5 873.1,543.0C872.5,544.5 871.8,546.0 871.2,547.4C870.5,548.9 869.9,550.4 869.3,551.9C868.6,553.3 868.0,554.8 867.3,556.3C866.7,557.8 866.0,559.2 865.4,560.7C864.7,562.2 864.1,563.7 863.4,565.1C862.8,566.6 862.1,568.1 861.4,569.5C860.8,571.0 860.1,572.5 859.5,573.9C858.8,575.4 858.1,576.9 857.5,578.3C856.8,579.8 856.1,581.2 855.4,582.7C854.8,584.2 854.1,585.6 853.4,587.1C852.8,588.5 852.1,590.0 851.4,591.5C850.7,592.9 850.0,594.4 849.4,595.8C848.7,597.3 848.0,598.7 847.3,600.2C846.6,601.6 845.9,603.1 845.2,604.5C844.5,606.0 843.8,607.4 843.1,608.9C842.4,610.3 841.7,611.8 841.0,613.2C840.3,614.7 839.6,616.1 838.9,617.5C838.2,619.0 837.5,620.4 836.8,621.9C836.1,623.3 835.4,624.7 834.7,626.2C834.0,627.6 833.2,629.0 832.5,630.5C831.8,631.9 831.1,633.3 830.4,634.8C829.6,636.2 828.9,637.6 828.2,639.1C827.5,640.5 826.7,641.9 826.0,643.3C825.3,644.8 824.5,646.2 823.8,647.6C823.1,649.0 822.3,650.5 821.6,651.9C820.8,653.3 820.1,654.7 819.3,656.1C818.6,657.6 817.8,659.0 817.1,660.4C816.3,661.8 815.6,663.2 814.8,664.6C814.1,666.0 813.3,667.4 812.5,668.9C811.8,670.3 811.0,671.7 810.2,673.1C809.5,674.5 808.7,675.9 807.9,677.3C807.2,678.7 806.4,680.1 805.6,681.5C804.8,682.9 804.0,684.3 803.3,685.7C802.5,687.1 801.7,688.5 800.9,689.9C800.1,691.3 799.3,692.6 798.5,694.0C797.7,695.4 796.9,696.8 796.1,698.2C795.3,699.6 794.5,701.0 793.7,702.4C792.9,703.7 792.1,705.1 791.3,706.5C790.5,707.9 789.7,709.3 788.9,710.6C788.0,712.0 787.2,713.4 786.4,714.8C785.6,716.1 784.8,717.5 783.9,718.9C783.1,720.2 782.3,721.6 781.4,723.0C780.6,724.3 779.8,725.7 778.9,727.1C778.1,728.4 777.2,729.8 776.4,731.1C775.6,732.5 774.7,733.9 773.9,735.2C773.0,736.6 772.1,737.9 771.3,739.3C770.4,740.6 769.6,742.0 768.7,743.3C767.8,744.7 767.0,746.0 766.1,747.4C765.2,748.7 764.4,750.0 763.5,751.4C762.6,752.7 761.7,754.1 760.9,755.4C760.0,756.7 759.1,758.1 758.2,759.4C757.3,760.7 756.4,762.0 755.5,763.4C754.6,764.7 753.7,766.0 752.8,767.3C751.9,768.7 751.0,770.0 750.1,771.3C749.2,772.6 748.3,773.9 747.4,775.2C746.4,776.5 745.5,777.8 744.6,779.1C743.7,780.4 742.7,781.7 741.8,783.0C740.9,784.3 739.9,785.6 739.0,786.9C738.1,788.2 737.1,789.5 736.2,790.8C735.2,792.1 734.3,793.4 733.3,794.6C732.3,795.9 731.4,797.2 730.4,798.5C729.5,799.7 728.5,801.0 727.5,802.3C726.5,803.5 725.6,804.8 724.6,806.1C723.6,807.3 722.6,808.6 721.6,809.8C720.6,811.1 719.7,812.3 718.7,813.6C717.7,814.8 716.7,816.0 715.6,817.3C714.6,818.5 713.6,819.8 712.6,821.0C711.6,822.2 710.6,823.4 709.6,824.6C708.5,825.9 707.5,827.1 706.5,828.3C705.4,829.5 704.4,830.7 703.3,831.9C702.3,833.1 701.3,834.3 700.2,835.5C699.2,836.7 698.1,837.9 697.0,839.1C696.0,840.3 694.9,841.4 693.8,842.6C692.8,843.8 691.7,845.0 690.6,846.1C689.5,847.3 688.4,848.5 687.3,849.6C686.2,850.8 685.1,851.9 684.0,853.1C682.9,854.2 681.8,855.4 680.7,856.5C679.6,857.6 678.5,858.8 677.4,859.9C676.2,861.0 675.1,862.1 674.0,863.3C672.8,864.4 671.7,865.5 670.6,866.6C669.4,867.7 668.3,868.8 667.1,869.9C665.9,871.0 664.8,872.1 663.6,873.2C662.4,874.2 661.3,875.3 660.1,876.4C658.9,877.5 657.7,878.5 656.5,879.6C655.4,880.7 654.2,881.7 653.0,882.8C651.8,883.8 650.5,884.9 649.3,885.9C648.1,886.9 646.9,888.0 645.7,889.0C644.4,890.0 643.2,891.0 642.0,892.0C640.7,893.1 639.5,894.1 638.3,895.1C637.0,896.1 635.7,897.1 634.5,898.1C633.2,899.0 632.0,900.0 630.7,901.0C629.4,902.0 628.1,902.9 626.8,903.9C625.6,904.9 624.3,905.8 623.0,906.8C621.7,907.7 620.4,908.7 619.0,909.6C617.7,910.5 616.4,911.5 615.1,912.4C613.8,913.3 612.4,914.2 611.1,915.1C609.8,916.0 608.4,916.9 607.1,917.8C605.7,918.7 604.4,919.6 603.0,920.5C601.6,921.4 600.3,922.2 598.9,923.1C597.5,924.0 596.1,924.8 594.7,925.7C593.3,926.5 591.9,927.4 590.5,928.2C589.1,929.0 587.7,929.9 586.3,930.7C584.9,931.5 583.4,932.3 582.0,933.1C580.6,933.9 579.1,934.7 577.7,935.5C576.2,936.3 574.8,937.1 573.3,937.9C571.8,938.6 570.1,939.5 568.9,940.1C567.7,940.8 573.7,938.0 565.9,941.6C558.2,945.3 544.7,953.4 522.4,962.2C500.1,971.0 447.1,989.2 432.0,994.6" fill="none" stroke="#ff0000" stroke-width="7.5" stroke-dasharray="29.8 29.8" stroke-linecap="butt"/>
<g font-family="Liberation Sans, sans-serif" font-size="38.9" fill="#000" text-anchor="middle">
<text transform="translate(161.7,631.5) rotate(-89.2)" x="0" y="14.0">0.05</text>
<text transform="translate(185.3,307.0) rotate(-89.0)" x="0" y="14.0">0.1</text>
<text transform="translate(167.4,866.9) rotate(-86.4)" x="0" y="14.0">0.1</text>
<text transform="translate(205.3,321.6) rotate(-88.4)" x="0" y="14.0">0.15</text>
<text transform="translate(176.5,882.6) rotate(-83.8)" x="0" y="14.0">0.15</text>
<text transform="translate(226.2,343.0) rotate(-87.8)" x="0" y="14.0">0.2</text>
<text transform="translate(185.4,897.2) rotate(-80.7)" x="0" y="14.0">0.2</text>
<text transform="translate(249.3,340.5) rotate(-87.2)" x="0" y="14.0">0.25</text>
<text transform="translate(196.9,897.0) rotate(-77.2)" x="0" y="14.0">0.25</text>
<text transform="translate(273.6,354.1) rotate(-86.4)" x="0" y="14.0">0.3</text>
<text transform="translate(208.2,912.5) rotate(-70.2)" x="0" y="14.0">0.3</text>
<text transform="translate(300.2,349.5) rotate(-86.0)" x="0" y="14.0">0.35</text>
<text transform="translate(222.8,903.0) rotate(-71.2)" x="0" y="14.0">0.35</text>
<text transform="translate(327.9,365.9) rotate(-85.2)" x="0" y="14.0">0.4</text>
<text transform="translate(235.8,915.7) rotate(-64.2)" x="0" y="14.0">0.4</text>
<text transform="translate(358.5,362.4) rotate(-84.6)" x="0" y="14.0">0.45</text>
<text transform="translate(254.1,910.4) rotate(-64.8)" x="0" y="14.0">0.45</text>
<text transform="translate(388.8,381.1) rotate(-83.7)" x="0" y="14.0">0.5</text>
<text transform="translate(266.4,923.8) rotate(-59.7)" x="0" y="14.0">0.5</text>
<text transform="translate(424.6,380.3) rotate(-82.7)" x="0" y="14.0">0.55</text>
<text transform="translate(288.5,917.4) rotate(-56.7)" x="0" y="14.0">0.55</text>
<text transform="translate(459.8,400.0) rotate(-81.6)" x="0" y="14.0">0.6</text>
<text transform="translate(302.5,930.2) rotate(-51.6)" x="0" y="14.0">0.6</text>
<text transform="translate(501.0,400.8) rotate(-80.5)" x="0" y="14.0">0.65</text>
<text transform="translate(328.6,925.4) rotate(-49.1)" x="0" y="14.0">0.65</text>
<text transform="translate(542.2,421.8) rotate(-79.6)" x="0" y="14.0">0.7</text>
<text transform="translate(345.0,936.0) rotate(-43.9)" x="0" y="14.0">0.7</text>
<text transform="translate(590.6,424.2) rotate(-78.3)" x="0" y="14.0">0.75</text>
<text transform="translate(377.9,931.1) rotate(-41.2)" x="0" y="14.0">0.75</text>
<text transform="translate(637.6,447.4) rotate(-77.1)" x="0" y="14.0">0.8</text>
<text transform="translate(400.0,942.1) rotate(-37.0)" x="0" y="14.0">0.8</text>
<text transform="translate(695.2,451.3) rotate(-74.7)" x="0" y="14.0">0.85</text>
<text transform="translate(440.0,937.8) rotate(-34.6)" x="0" y="14.0">0.85</text>
<text transform="translate(751.6,476.5) rotate(-72.7)" x="0" y="14.0">0.9</text>
<text transform="translate(468.2,945.6) rotate(-29.8)" x="0" y="14.0">0.9</text>
<text transform="translate(819.4,483.8) rotate(-70.5)" x="0" y="14.0">0.95</text>
<text transform="translate(517.1,940.3) rotate(-30.2)" x="0" y="14.0">0.95</text>
<text transform="translate(881.2,523.7) rotate(-67.3)" x="0" y="14.0">1</text>
<text transform="translate(544.2,951.9) rotate(-25.3)" x="0" y="14.0">1</text>
<text transform="translate(966.4,518.0) rotate(-65.5)" x="0" y="14.0">1.05</text>
<text transform="translate(619.5,940.9) rotate(-26.6)" x="0" y="14.0">1.05</text>
<text transform="translate(1047.5,543.8) rotate(-61.8)" x="0" y="14.0">1.1</text>
<text transform="translate(676.3,945.4) rotate(-23.7)" x="0" y="14.0">1.1</text>
<text transform="translate(1128.7,588.4) rotate(-58.8)" x="0" y="14.0">1.15</text>
<text transform="translate(722.9,956.1) rotate(-20.4)" x="0" y="14.0">1.15</text>
<text transform="translate(1201.5,652.3) rotate(-52.9)" x="0" y="14.0">1.2</text>
<text transform="translate(756.5,972.8) rotate(-18.6)" x="0" y="14.0">1.2</text>
<text transform="translate(931.5,945.9) rotate(-21.3)" x="0" y="14.0">1.25</text>
<text transform="translate(1014.0,957.3) rotate(-18.9)" x="0" y="14.0">1.3</text>
<text transform="translate(1131.7,963.9) rotate(-16.6)" x="0" y="14.0">1.35</text>
</g>
<g stroke="rgba(25,25,25,0.30)" stroke-width="1.8" stroke-dasharray="1.7 2.1" fill="none">
<line x1="214.5" y1="121.6" x2="214.5" y2="994.6"/>
<line x1="270.1" y1="121.6" x2="270.1" y2="994.6"/>
<line x1="325.7" y1="121.6" x2="325.7" y2="994.6"/>
<line x1="436.9" y1="121.6" x2="436.9" y2="994.6"/>
<line x1="492.5" y1="121.6" x2="492.5" y2="994.6"/>
<line x1="548.1" y1="121.6" x2="548.1" y2="994.6"/>
<line x1="659.3" y1="121.6" x2="659.3" y2="994.6"/>
<line x1="714.9" y1="121.6" x2="714.9" y2="994.6"/>
<line x1="770.6" y1="121.6" x2="770.6" y2="994.6"/>
<line x1="881.8" y1="121.6" x2="881.8" y2="994.6"/>
<line x1="937.4" y1="121.6" x2="937.4" y2="994.6"/>
<line x1="993.0" y1="121.6" x2="993.0" y2="994.6"/>
<line x1="1104.2" y1="121.6" x2="1104.2" y2="994.6"/>
<line x1="1159.8" y1="121.6" x2="1159.8" y2="994.6"/>
<line x1="1215.4" y1="121.6" x2="1215.4" y2="994.6"/>
<line x1="159.0" y1="986.6" x2="1271.0" y2="986.6"/>
<line x1="159.0" y1="968.9" x2="1271.0" y2="968.9"/>
<line x1="159.0" y1="951.2" x2="1271.0" y2="951.2"/>
<line x1="159.0" y1="933.6" x2="1271.0" y2="933.6"/>
<line x1="159.0" y1="898.3" x2="1271.0" y2="898.3"/>
<line x1="159.0" y1="880.6" x2="1271.0" y2="880.6"/>
<line x1="159.0" y1="863.0" x2="1271.0" y2="863.0"/>
<line x1="159.0" y1="845.4" x2="1271.0" y2="845.4"/>
<line x1="159.0" y1="810.1" x2="1271.0" y2="810.1"/>
<line x1="159.0" y1="792.4" x2="1271.0" y2="792.4"/>
<line x1="159.0" y1="774.8" x2="1271.0" y2="774.8"/>
<line x1="159.0" y1="757.1" x2="1271.0" y2="757.1"/>
<line x1="159.0" y1="721.8" x2="1271.0" y2="721.8"/>
<line x1="159.0" y1="704.1" x2="1271.0" y2="704.1"/>
<line x1="159.0" y1="686.5" x2="1271.0" y2="686.5"/>
<line x1="159.0" y1="668.9" x2="1271.0" y2="668.9"/>
<line x1="159.0" y1="633.6" x2="1271.0" y2="633.6"/>
<line x1="159.0" y1="615.9" x2="1271.0" y2="615.9"/>
<line x1="159.0" y1="598.2" x2="1271.0" y2="598.2"/>
<line x1="159.0" y1="580.6" x2="1271.0" y2="580.6"/>
<line x1="159.0" y1="545.3" x2="1271.0" y2="545.3"/>
<line x1="159.0" y1="527.6" x2="1271.0" y2="527.6"/>
<line x1="159.0" y1="510.0" x2="1271.0" y2="510.0"/>
<line x1="159.0" y1="492.4" x2="1271.0" y2="492.4"/>
<line x1="159.0" y1="457.1" x2="1271.0" y2="457.1"/>
<line x1="159.0" y1="439.4" x2="1271.0" y2="439.4"/>
<line x1="159.0" y1="421.7" x2="1271.0" y2="421.7"/>
<line x1="159.0" y1="404.1" x2="1271.0" y2="404.1"/>
<line x1="159.0" y1="368.8" x2="1271.0" y2="368.8"/>
<line x1="159.0" y1="351.2" x2="1271.0" y2="351.2"/>
<line x1="159.0" y1="333.5" x2="1271.0" y2="333.5"/>
<line x1="159.0" y1="315.8" x2="1271.0" y2="315.8"/>
<line x1="159.0" y1="280.5" x2="1271.0" y2="280.5"/>
<line x1="159.0" y1="262.9" x2="1271.0" y2="262.9"/>
<line x1="159.0" y1="245.2" x2="1271.0" y2="245.2"/>
<line x1="159.0" y1="227.6" x2="1271.0" y2="227.6"/>
<line x1="159.0" y1="192.3" x2="1271.0" y2="192.3"/>
<line x1="159.0" y1="174.6" x2="1271.0" y2="174.6"/>
<line x1="159.0" y1="157.0" x2="1271.0" y2="157.0"/>
<line x1="159.0" y1="139.4" x2="1271.0" y2="139.4"/>
</g>
<g stroke="rgba(38,38,38,0.16)" stroke-width="1.6" fill="none">
<line x1="381.3" y1="121.6" x2="381.3" y2="994.6"/>
<line x1="603.7" y1="121.6" x2="603.7" y2="994.6"/>
<line x1="826.2" y1="121.6" x2="826.2" y2="994.6"/>
<line x1="1048.6" y1="121.6" x2="1048.6" y2="994.6"/>
<line x1="159.0" y1="916.0" x2="1271.0" y2="916.0"/>
<line x1="159.0" y1="827.7" x2="1271.0" y2="827.7"/>
<line x1="159.0" y1="739.5" x2="1271.0" y2="739.5"/>
<line x1="159.0" y1="651.2" x2="1271.0" y2="651.2"/>
<line x1="159.0" y1="563.0" x2="1271.0" y2="563.0"/>
<line x1="159.0" y1="474.7" x2="1271.0" y2="474.7"/>
<line x1="159.0" y1="386.4" x2="1271.0" y2="386.4"/>
<line x1="159.0" y1="298.2" x2="1271.0" y2="298.2"/>
<line x1="159.0" y1="209.9" x2="1271.0" y2="209.9"/>
</g>
<g stroke="#262626" stroke-width="2" fill="none">
<rect x="159.0" y="121.6" width="1112.0" height="873.0"/>
<line x1="381.3" y1="994.6" x2="381.3" y2="983.6"/>
<line x1="381.3" y1="121.6" x2="381.3" y2="132.6"/>
<line x1="603.7" y1="994.6" x2="603.7" y2="983.6"/>
<line x1="603.7" y1="121.6" x2="603.7" y2="132.6"/>
<line x1="826.2" y1="994.6" x2="826.2" y2="983.6"/>
<line x1="826.2" y1="121.6" x2="826.2" y2="132.6"/>
<line x1="1048.6" y1="994.6" x2="1048.6" y2="983.6"/>
<line x1="1048.6" y1="121.6" x2="1048.6" y2="132.6"/>
<line x1="159.0" y1="916.0" x2="170.0" y2="916.0"/>
<line x1="1271.0" y1="916.0" x2="1260.0" y2="916.0"/>
<line x1="159.0" y1="827.7" x2="170.0" y2="827.7"/>
<line x1="1271.0" y1="827.7" x2="1260.0" y2="827.7"/>
<line x1="159.0" y1="739.5" x2="170.0" y2="739.5"/>
<line x1="1271.0" y1="739.5" x2="1260.0" y2="739.5"/>
<line x1="159.0" y1="651.2" x2="170.0" y2="651.2"/>
<line x1="1271.0" y1="651.2" x2="1260.0" y2="651.2"/>
<line x1="159.0" y1="563.0" x2="170.0" y2="563.0"/>
<line x1="1271.0" y1="563.0" x2="1260.0" y2="563.0"/>
<line x1="159.0" y1="474.7" x2="170.0" y2="474.7"/>
<line x1="1271.0" y1="474.7" x2="1260.0" y2="474.7"/>
<line x1="159.0" y1="386.4" x2="170.0" y2="386.4"/>
<line x1="1271.0" y1="386.4" x2="1260.0" y2="386.4"/>
<line x1="159.0" y1="298.2" x2="170.0" y2="298.2"/>
<line x1="1271.0" y1="298.2" x2="1260.0" y2="298.2"/>
<line x1="159.0" y1="209.9" x2="170.0" y2="209.9"/>
<line x1="1271.0" y1="209.9" x2="1260.0" y2="209.9"/>
</g>
<g font-family="Liberation Sans, sans-serif" font-size="38.9" fill="#262626">
<text x="158.9" y="1050.3" text-anchor="middle">0</text>
<text x="381.3" y="1050.3" text-anchor="middle">0.2</text>
<text x="603.7" y="1050.3" text-anchor="middle">0.4</text>
<text x="826.2" y="1050.3" text-anchor="middle">0.6</text>
<text x="1048.6" y="1050.3" text-anchor="middle">0.8</text>
<text x="1271.0" y="1050.3" text-anchor="middle">1</text>
<text x="143.1" y="931.6" text-anchor="end">0.1</text>
<text x="143.1" y="843.3" text-anchor="end">0.2</text>
<text x="143.1" y="755.1" text-anchor="end">0.3</text>
<text x="143.1" y="666.8" text-anchor="end">0.4</text>
<text x="143.1" y="578.6" text-anchor="end">0.5</text>
<text x="143.1" y="490.3" text-anchor="end">0.6</text>
<text x="143.1" y="402.0" text-anchor="end">0.7</text>
<text x="143.1" y="313.8" text-anchor="end">0.8</text>
<text x="143.1" y="225.5" text-anchor="end">0.9</text>
<text x="143.1" y="137.3" text-anchor="end">1</text>
<text x="1199.6" y="1114">10</text>
<text x="1242.5" y="1094.8" font-size="31">-3</text>
</g>
<g stroke="#262626" stroke-width="1.3"><line x1="1175" y1="1095" x2="1193.6" y2="1113.6"/><line x1="1193.6" y1="1095" x2="1175" y2="1113.6"/></g>
<defs><linearGradient id="cb" x1="0" y1="0" x2="0" y2="1"><stop offset="0.0000" stop-color="#f9fb15"/><stop offset="0.0159" stop-color="#f7f51b"/><stop offset="0.0317" stop-color="#f6ef20"/><stop offset="0.0476" stop-color="#f5e924"/><stop offset="0.0635" stop-color="#f5e327"/><stop offset="0.0794" stop-color="#f7dc2a"/><stop offset="0.0952" stop-color="#fad62d"/><stop offset="0.1111" stop-color="#fccf30"/><stop offset="0.1270" stop-color="#fec934"/><stop offset="0.1429" stop-color="#fec338"/><stop offset="0.1587" stop-color="#febe3c"/><stop offset="0.1746" stop-color="#f8ba3d"/><stop offset="0.1905" stop-color="#f0ba36"/><stop offset="0.2063" stop-color="#e6bb2d"/><stop offset="0.2222" stop-color="#dcbd29"/><stop offset="0.2381" stop-color="#d1bf27"/><stop offset="0.2540" stop-color="#c5c22a"/><stop offset="0.2698" stop-color="#b9c431"/><stop offset="0.2857" stop-color="#abc739"/><stop offset="0.3016" stop-color="#9dc943"/><stop offset="0.3175" stop-color="#8fcb4e"/><stop offset="0.3333" stop-color="#81cc59"/><stop offset="0.3492" stop-color="#72cd64"/><stop offset="0.3651" stop-color="#64cd6f"/><stop offset="0.3810" stop-color="#57cc7a"/><stop offset="0.3968" stop-color="#4acb84"/><stop offset="0.4127" stop-color="#3fca8e"/><stop offset="0.4286" stop-color="#37c897"/><stop offset="0.4444" stop-color="#31c69f"/><stop offset="0.4603" stop-color="#2cc4a7"/><stop offset="0.4762" stop-color="#24c1ae"/><stop offset="0.4921" stop-color="#19bfb6"/><stop offset="0.5079" stop-color="#0bbdbd"/><stop offset="0.5238" stop-color="#02bac3"/><stop offset="0.5397" stop-color="#01b8ca"/><stop offset="0.5556" stop-color="#08b5d0"/><stop offset="0.5714" stop-color="#12b1d6"/><stop offset="0.5873" stop-color="#18addb"/><stop offset="0.6032" stop-color="#1ca9df"/><stop offset="0.6190" stop-color="#20a5e3"/><stop offset="0.6349" stop-color="#23a0e5"/><stop offset="0.6508" stop-color="#259be8"/><stop offset="0.6667" stop-color="#2797eb"/><stop offset="0.6825" stop-color="#2b91ef"/><stop offset="0.6984" stop-color="#2d8cf3"/><stop offset="0.7143" stop-color="#2e87f7"/><stop offset="0.7302" stop-color="#2f81fa"/><stop offset="0.7460" stop-color="#327cfc"/><stop offset="0.7619" stop-color="#3875fe"/><stop offset="0.7778" stop-color="#3e6fff"/><stop offset="0.7937" stop-color="#4269fe"/><stop offset="0.8095" stop-color="#4563fd"/><stop offset="0.8254" stop-color="#465efb"/><stop offset="0.8413" stop-color="#4758f8"/><stop offset="0.8571" stop-color="#4852f4"/><stop offset="0.8730" stop-color="#484df0"/><stop offset="0.8889" stop-color="#4747eb"/><stop offset="0.9048" stop-color="#4741e5"/><stop offset="0.9206" stop-color="#463cde"/><stop offset="0.9365" stop-color="#4537d5"/><stop offset="0.9524" stop-color="#4332cb"/><stop offset="0.9683" stop-color="#422ec0"/><stop offset="0.9841" stop-color="#402ab4"/><stop offset="1.0000" stop-color="#3e26a8"/></linearGradient></defs>
<rect x="1329.5" y="125.4" width="61.9" height="865.0" fill="url(#cb)" stroke="#262626" stroke-width="2"/>
<g stroke="#262626" stroke-width="2">
<line x1="1391.4" y1="894.3" x2="1381.4" y2="894.3"/>
<line x1="1391.4" y1="766.1" x2="1381.4" y2="766.1"/>
<line x1="1391.4" y1="638.0" x2="1381.4" y2="638.0"/>
<line x1="1391.4" y1="509.8" x2="1381.4" y2="509.8"/>
<line x1="1391.4" y1="381.7" x2="1381.4" y2="381.7"/>
<line x1="1391.4" y1="253.5" x2="1381.4" y2="253.5"/>
</g>
<g font-family="Liberation Sans, sans-serif" font-size="35" fill="#262626">
<text x="1406.3" y="908.0">0.2</text>
<text x="1406.3" y="779.8">0.4</text>
<text x="1406.3" y="651.7">0.6</text>
<text x="1406.3" y="523.5">0.8</text>
<text x="1406.3" y="395.4">1</text>
<text x="1406.3" y="267.2">1.2</text>
<text x="1406.3" y="139.1">1.4</text>
</g>
<g font-family="Liberation Serif, serif" font-weight="bold" fill="#000">
<text x="337.5" y="73.5" font-size="70">E</text>
<text x="383.5" y="38.3" font-size="56.5">total</text>
<text x="385.5" y="106" font-size="60" font-style="italic">&#x3D5;</text>
<text x="494" y="73.5" font-size="70">;</text>
<text x="558" y="73.5" font-size="70" font-style="italic">&#x3BC;</text>
<text x="598.5" y="107.5" font-size="60">f</text>
<text x="616.5" y="73.5" font-size="70">=1000; h/<tspan font-style="italic">a</tspan>=<tspan font-style="italic">0.01</tspan></text>
</g>
<g font-family="Liberation Serif, serif" font-style="italic" fill="#262626">
<text x="650" y="1141.5" font-size="84">t</text>
<text transform="translate(664,1182) skewX(-18)" x="0" y="0" font-size="68">f</text>
<text x="760.5" y="1142.5" font-size="84">a</text>
</g>
<line x1="713" y1="1141.5" x2="744.3" y2="1083" stroke="#262626" stroke-width="2.6"/>
<text transform="translate(62.5,603.5) rotate(-90)" font-family="Liberation Serif, serif" font-style="italic" font-size="87" fill="#262626">d/a</text>
</svg>
</body></html>
